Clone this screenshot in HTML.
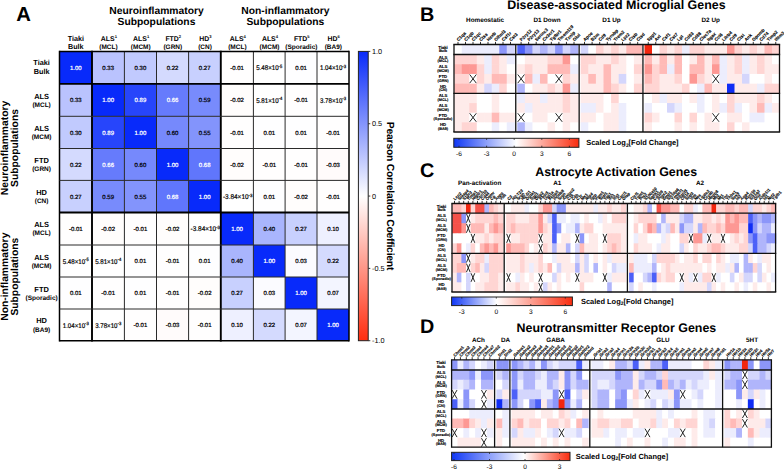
<!DOCTYPE html>
<html><head><meta charset="utf-8"><title>Figure</title>
<style>
html,body{margin:0;padding:0;background:#fff;}
body{width:784px;height:470px;overflow:hidden;}
svg{display:block;font-family:"Liberation Sans", sans-serif;text-rendering:geometricPrecision;}
</style></head>
<body>
<svg width="784" height="470" viewBox="0 0 784 470">
<rect width="784" height="470" fill="#fff"/>
<rect x="59.5" y="51.5" width="32.5" height="32.4" fill="rgb(8,42,250)" />
<rect x="92" y="51.5" width="32.4" height="32.4" fill="rgb(186,195,254)" />
<rect x="124.4" y="51.5" width="32.1" height="32.4" fill="rgb(193,202,254)" />
<rect x="156.5" y="51.5" width="32.1" height="32.4" fill="rgb(212,218,254)" />
<rect x="188.6" y="51.5" width="32.2" height="32.4" fill="rgb(200,208,254)" />
<rect x="220.8" y="51.5" width="32.6" height="32.4" fill="rgb(255,254,254)" />
<rect x="253.4" y="51.5" width="31.7" height="32.4" fill="rgb(255,255,255)" />
<rect x="285.1" y="51.5" width="31.9" height="32.4" fill="rgb(254,254,255)" />
<rect x="317" y="51.5" width="32" height="32.4" fill="rgb(255,255,255)" />
<rect x="59.5" y="83.9" width="32.5" height="32.4" fill="rgb(186,195,254)" />
<rect x="92" y="83.9" width="32.4" height="32.4" fill="rgb(8,42,250)" />
<rect x="124.4" y="83.9" width="32.1" height="32.4" fill="rgb(39,69,251)" />
<rect x="156.5" y="83.9" width="32.1" height="32.4" fill="rgb(102,123,252)" />
<rect x="188.6" y="83.9" width="32.2" height="32.4" fill="rgb(120,139,252)" />
<rect x="220.8" y="83.9" width="32.6" height="32.4" fill="rgb(255,253,252)" />
<rect x="253.4" y="83.9" width="31.7" height="32.4" fill="rgb(255,255,255)" />
<rect x="285.1" y="83.9" width="31.9" height="32.4" fill="rgb(255,254,254)" />
<rect x="317" y="83.9" width="32" height="32.4" fill="rgb(255,255,255)" />
<rect x="59.5" y="116.3" width="32.5" height="32.2" fill="rgb(193,202,254)" />
<rect x="92" y="116.3" width="32.4" height="32.2" fill="rgb(39,69,251)" />
<rect x="124.4" y="116.3" width="32.1" height="32.2" fill="rgb(8,42,250)" />
<rect x="156.5" y="116.3" width="32.1" height="32.2" fill="rgb(118,137,252)" />
<rect x="188.6" y="116.3" width="32.2" height="32.2" fill="rgb(131,148,252)" />
<rect x="220.8" y="116.3" width="32.6" height="32.2" fill="rgb(255,254,254)" />
<rect x="253.4" y="116.3" width="31.7" height="32.2" fill="rgb(254,254,255)" />
<rect x="285.1" y="116.3" width="31.9" height="32.2" fill="rgb(254,254,255)" />
<rect x="317" y="116.3" width="32" height="32.2" fill="rgb(255,254,254)" />
<rect x="59.5" y="148.5" width="32.5" height="31.9" fill="rgb(212,218,254)" />
<rect x="92" y="148.5" width="32.4" height="31.9" fill="rgb(102,123,252)" />
<rect x="124.4" y="148.5" width="32.1" height="31.9" fill="rgb(118,137,252)" />
<rect x="156.5" y="148.5" width="32.1" height="31.9" fill="rgb(8,42,250)" />
<rect x="188.6" y="148.5" width="32.2" height="31.9" fill="rgb(96,118,252)" />
<rect x="220.8" y="148.5" width="32.6" height="31.9" fill="rgb(255,253,252)" />
<rect x="253.4" y="148.5" width="31.7" height="31.9" fill="rgb(255,254,254)" />
<rect x="285.1" y="148.5" width="31.9" height="31.9" fill="rgb(255,254,254)" />
<rect x="317" y="148.5" width="32" height="31.9" fill="rgb(255,251,251)" />
<rect x="59.5" y="180.4" width="32.5" height="32.1" fill="rgb(200,208,254)" />
<rect x="92" y="180.4" width="32.4" height="32.1" fill="rgb(120,139,252)" />
<rect x="124.4" y="180.4" width="32.1" height="32.1" fill="rgb(131,148,252)" />
<rect x="156.5" y="180.4" width="32.1" height="32.1" fill="rgb(96,118,252)" />
<rect x="188.6" y="180.4" width="32.2" height="32.1" fill="rgb(8,42,250)" />
<rect x="220.8" y="180.4" width="32.6" height="32.1" fill="rgb(255,255,255)" />
<rect x="253.4" y="180.4" width="31.7" height="32.1" fill="rgb(254,254,255)" />
<rect x="285.1" y="180.4" width="31.9" height="32.1" fill="rgb(255,253,252)" />
<rect x="317" y="180.4" width="32" height="32.1" fill="rgb(255,254,254)" />
<rect x="59.5" y="212.5" width="32.5" height="32.5" fill="rgb(255,254,254)" />
<rect x="92" y="212.5" width="32.4" height="32.5" fill="rgb(255,253,252)" />
<rect x="124.4" y="212.5" width="32.1" height="32.5" fill="rgb(255,254,254)" />
<rect x="156.5" y="212.5" width="32.1" height="32.5" fill="rgb(255,253,252)" />
<rect x="188.6" y="212.5" width="32.2" height="32.5" fill="rgb(255,255,255)" />
<rect x="220.8" y="212.5" width="32.6" height="32.5" fill="rgb(8,42,250)" />
<rect x="253.4" y="212.5" width="31.7" height="32.5" fill="rgb(169,181,253)" />
<rect x="285.1" y="212.5" width="31.9" height="32.5" fill="rgb(200,208,254)" />
<rect x="317" y="212.5" width="32" height="32.5" fill="rgb(238,240,255)" />
<rect x="59.5" y="245" width="32.5" height="32" fill="rgb(255,255,255)" />
<rect x="92" y="245" width="32.4" height="32" fill="rgb(255,255,255)" />
<rect x="124.4" y="245" width="32.1" height="32" fill="rgb(254,254,255)" />
<rect x="156.5" y="245" width="32.1" height="32" fill="rgb(255,254,254)" />
<rect x="188.6" y="245" width="32.2" height="32" fill="rgb(254,254,255)" />
<rect x="220.8" y="245" width="32.6" height="32" fill="rgb(169,181,253)" />
<rect x="253.4" y="245" width="31.7" height="32" fill="rgb(8,42,250)" />
<rect x="285.1" y="245" width="31.9" height="32" fill="rgb(251,251,255)" />
<rect x="317" y="245" width="32" height="32" fill="rgb(212,218,254)" />
<rect x="59.5" y="277" width="32.5" height="32" fill="rgb(254,254,255)" />
<rect x="92" y="277" width="32.4" height="32" fill="rgb(255,254,254)" />
<rect x="124.4" y="277" width="32.1" height="32" fill="rgb(254,254,255)" />
<rect x="156.5" y="277" width="32.1" height="32" fill="rgb(255,254,254)" />
<rect x="188.6" y="277" width="32.2" height="32" fill="rgb(255,253,252)" />
<rect x="220.8" y="277" width="32.6" height="32" fill="rgb(200,208,254)" />
<rect x="253.4" y="277" width="31.7" height="32" fill="rgb(251,251,255)" />
<rect x="285.1" y="277" width="31.9" height="32" fill="rgb(8,42,250)" />
<rect x="317" y="277" width="32" height="32" fill="rgb(243,245,255)" />
<rect x="59.5" y="309" width="32.5" height="31.8" fill="rgb(255,255,255)" />
<rect x="92" y="309" width="32.4" height="31.8" fill="rgb(255,255,255)" />
<rect x="124.4" y="309" width="32.1" height="31.8" fill="rgb(255,254,254)" />
<rect x="156.5" y="309" width="32.1" height="31.8" fill="rgb(255,251,251)" />
<rect x="188.6" y="309" width="32.2" height="31.8" fill="rgb(255,254,254)" />
<rect x="220.8" y="309" width="32.6" height="31.8" fill="rgb(238,240,255)" />
<rect x="253.4" y="309" width="31.7" height="31.8" fill="rgb(212,218,254)" />
<rect x="285.1" y="309" width="31.9" height="31.8" fill="rgb(243,245,255)" />
<rect x="317" y="309" width="32" height="31.8" fill="rgb(8,42,250)" />
<text x="75.75" y="69.9" font-size="6.0" font-weight="normal" text-anchor="middle" fill="#fff" stroke="#fff" stroke-width="0.22">1.00</text>
<text x="108.2" y="69.9" font-size="6.0" font-weight="normal" text-anchor="middle" fill="#000" stroke="#000" stroke-width="0.22">0.33</text>
<text x="140.45" y="69.9" font-size="6.0" font-weight="normal" text-anchor="middle" fill="#000" stroke="#000" stroke-width="0.22">0.30</text>
<text x="172.55" y="69.9" font-size="6.0" font-weight="normal" text-anchor="middle" fill="#000" stroke="#000" stroke-width="0.22">0.22</text>
<text x="204.7" y="69.9" font-size="6.0" font-weight="normal" text-anchor="middle" fill="#000" stroke="#000" stroke-width="0.22">0.27</text>
<text x="237.1" y="69.9" font-size="6.0" font-weight="normal" text-anchor="middle" fill="#000" stroke="#000" stroke-width="0.22">-0.01</text>
<text x="269.25" y="70.3" font-size="6.8" font-weight="normal" text-anchor="middle" fill="#000" textLength="26.0" lengthAdjust="spacingAndGlyphs" stroke="#000" stroke-width="0.2">5.48×10<tspan font-size="4.6" dy="-2.4">-5</tspan></text>
<text x="301.05" y="69.9" font-size="6.0" font-weight="normal" text-anchor="middle" fill="#000" stroke="#000" stroke-width="0.22">0.01</text>
<text x="333" y="70.3" font-size="6.8" font-weight="normal" text-anchor="middle" fill="#000" textLength="26.0" lengthAdjust="spacingAndGlyphs" stroke="#000" stroke-width="0.2">1.04×10<tspan font-size="4.6" dy="-2.4">-3</tspan></text>
<text x="75.75" y="102.3" font-size="6.0" font-weight="normal" text-anchor="middle" fill="#000" stroke="#000" stroke-width="0.22">0.33</text>
<text x="108.2" y="102.3" font-size="6.0" font-weight="normal" text-anchor="middle" fill="#fff" stroke="#fff" stroke-width="0.22">1.00</text>
<text x="140.45" y="102.3" font-size="6.0" font-weight="normal" text-anchor="middle" fill="#fff" stroke="#fff" stroke-width="0.22">0.89</text>
<text x="172.55" y="102.3" font-size="6.0" font-weight="normal" text-anchor="middle" fill="#fff" stroke="#fff" stroke-width="0.22">0.66</text>
<text x="204.7" y="102.3" font-size="6.0" font-weight="normal" text-anchor="middle" fill="#000" stroke="#000" stroke-width="0.22">0.59</text>
<text x="237.1" y="102.3" font-size="6.0" font-weight="normal" text-anchor="middle" fill="#000" stroke="#000" stroke-width="0.22">-0.02</text>
<text x="269.25" y="102.7" font-size="6.8" font-weight="normal" text-anchor="middle" fill="#000" textLength="26.0" lengthAdjust="spacingAndGlyphs" stroke="#000" stroke-width="0.2">5.81×10<tspan font-size="4.6" dy="-2.4">-4</tspan></text>
<text x="301.05" y="102.3" font-size="6.0" font-weight="normal" text-anchor="middle" fill="#000" stroke="#000" stroke-width="0.22">-0.01</text>
<text x="333" y="102.7" font-size="6.8" font-weight="normal" text-anchor="middle" fill="#000" textLength="26.0" lengthAdjust="spacingAndGlyphs" stroke="#000" stroke-width="0.2">3.78×10<tspan font-size="4.6" dy="-2.4">-3</tspan></text>
<text x="75.75" y="134.6" font-size="6.0" font-weight="normal" text-anchor="middle" fill="#000" stroke="#000" stroke-width="0.22">0.30</text>
<text x="108.2" y="134.6" font-size="6.0" font-weight="normal" text-anchor="middle" fill="#fff" stroke="#fff" stroke-width="0.22">0.89</text>
<text x="140.45" y="134.6" font-size="6.0" font-weight="normal" text-anchor="middle" fill="#fff" stroke="#fff" stroke-width="0.22">1.00</text>
<text x="172.55" y="134.6" font-size="6.0" font-weight="normal" text-anchor="middle" fill="#000" stroke="#000" stroke-width="0.22">0.60</text>
<text x="204.7" y="134.6" font-size="6.0" font-weight="normal" text-anchor="middle" fill="#000" stroke="#000" stroke-width="0.22">0.55</text>
<text x="237.1" y="134.6" font-size="6.0" font-weight="normal" text-anchor="middle" fill="#000" stroke="#000" stroke-width="0.22">-0.01</text>
<text x="269.25" y="134.6" font-size="6.0" font-weight="normal" text-anchor="middle" fill="#000" stroke="#000" stroke-width="0.22">0.01</text>
<text x="301.05" y="134.6" font-size="6.0" font-weight="normal" text-anchor="middle" fill="#000" stroke="#000" stroke-width="0.22">0.01</text>
<text x="333" y="134.6" font-size="6.0" font-weight="normal" text-anchor="middle" fill="#000" stroke="#000" stroke-width="0.22">-0.01</text>
<text x="75.75" y="166.65" font-size="6.0" font-weight="normal" text-anchor="middle" fill="#000" stroke="#000" stroke-width="0.22">0.22</text>
<text x="108.2" y="166.65" font-size="6.0" font-weight="normal" text-anchor="middle" fill="#fff" stroke="#fff" stroke-width="0.22">0.66</text>
<text x="140.45" y="166.65" font-size="6.0" font-weight="normal" text-anchor="middle" fill="#000" stroke="#000" stroke-width="0.22">0.60</text>
<text x="172.55" y="166.65" font-size="6.0" font-weight="normal" text-anchor="middle" fill="#fff" stroke="#fff" stroke-width="0.22">1.00</text>
<text x="204.7" y="166.65" font-size="6.0" font-weight="normal" text-anchor="middle" fill="#fff" stroke="#fff" stroke-width="0.22">0.68</text>
<text x="237.1" y="166.65" font-size="6.0" font-weight="normal" text-anchor="middle" fill="#000" stroke="#000" stroke-width="0.22">-0.02</text>
<text x="269.25" y="166.65" font-size="6.0" font-weight="normal" text-anchor="middle" fill="#000" stroke="#000" stroke-width="0.22">-0.01</text>
<text x="301.05" y="166.65" font-size="6.0" font-weight="normal" text-anchor="middle" fill="#000" stroke="#000" stroke-width="0.22">-0.01</text>
<text x="333" y="166.65" font-size="6.0" font-weight="normal" text-anchor="middle" fill="#000" stroke="#000" stroke-width="0.22">-0.03</text>
<text x="75.75" y="198.65" font-size="6.0" font-weight="normal" text-anchor="middle" fill="#000" stroke="#000" stroke-width="0.22">0.27</text>
<text x="108.2" y="198.65" font-size="6.0" font-weight="normal" text-anchor="middle" fill="#000" stroke="#000" stroke-width="0.22">0.59</text>
<text x="140.45" y="198.65" font-size="6.0" font-weight="normal" text-anchor="middle" fill="#000" stroke="#000" stroke-width="0.22">0.55</text>
<text x="172.55" y="198.65" font-size="6.0" font-weight="normal" text-anchor="middle" fill="#fff" stroke="#fff" stroke-width="0.22">0.68</text>
<text x="204.7" y="198.65" font-size="6.0" font-weight="normal" text-anchor="middle" fill="#fff" stroke="#fff" stroke-width="0.22">1.00</text>
<text x="237.7" y="199.05" font-size="6.8" font-weight="normal" text-anchor="middle" fill="#000" textLength="29.5" lengthAdjust="spacingAndGlyphs" stroke="#000" stroke-width="0.2">-3.84×10<tspan font-size="4.6" dy="-2.4">-3</tspan></text>
<text x="269.25" y="198.65" font-size="6.0" font-weight="normal" text-anchor="middle" fill="#000" stroke="#000" stroke-width="0.22">0.01</text>
<text x="301.05" y="198.65" font-size="6.0" font-weight="normal" text-anchor="middle" fill="#000" stroke="#000" stroke-width="0.22">-0.02</text>
<text x="333" y="198.65" font-size="6.0" font-weight="normal" text-anchor="middle" fill="#000" stroke="#000" stroke-width="0.22">-0.01</text>
<text x="75.75" y="230.95" font-size="6.0" font-weight="normal" text-anchor="middle" fill="#000" stroke="#000" stroke-width="0.22">-0.01</text>
<text x="108.2" y="230.95" font-size="6.0" font-weight="normal" text-anchor="middle" fill="#000" stroke="#000" stroke-width="0.22">-0.02</text>
<text x="140.45" y="230.95" font-size="6.0" font-weight="normal" text-anchor="middle" fill="#000" stroke="#000" stroke-width="0.22">-0.01</text>
<text x="172.55" y="230.95" font-size="6.0" font-weight="normal" text-anchor="middle" fill="#000" stroke="#000" stroke-width="0.22">-0.02</text>
<text x="205.3" y="231.35" font-size="6.8" font-weight="normal" text-anchor="middle" fill="#000" textLength="29.5" lengthAdjust="spacingAndGlyphs" stroke="#000" stroke-width="0.2">-3.84×10<tspan font-size="4.6" dy="-2.4">-3</tspan></text>
<text x="237.1" y="230.95" font-size="6.0" font-weight="normal" text-anchor="middle" fill="#fff" stroke="#fff" stroke-width="0.22">1.00</text>
<text x="269.25" y="230.95" font-size="6.0" font-weight="normal" text-anchor="middle" fill="#000" stroke="#000" stroke-width="0.22">0.40</text>
<text x="301.05" y="230.95" font-size="6.0" font-weight="normal" text-anchor="middle" fill="#000" stroke="#000" stroke-width="0.22">0.27</text>
<text x="333" y="230.95" font-size="6.0" font-weight="normal" text-anchor="middle" fill="#000" stroke="#000" stroke-width="0.22">0.10</text>
<text x="75.75" y="263.6" font-size="6.8" font-weight="normal" text-anchor="middle" fill="#000" textLength="26.0" lengthAdjust="spacingAndGlyphs" stroke="#000" stroke-width="0.2">5.48×10<tspan font-size="4.6" dy="-2.4">-5</tspan></text>
<text x="108.2" y="263.6" font-size="6.8" font-weight="normal" text-anchor="middle" fill="#000" textLength="26.0" lengthAdjust="spacingAndGlyphs" stroke="#000" stroke-width="0.2">5.81×10<tspan font-size="4.6" dy="-2.4">-4</tspan></text>
<text x="140.45" y="263.2" font-size="6.0" font-weight="normal" text-anchor="middle" fill="#000" stroke="#000" stroke-width="0.22">0.01</text>
<text x="172.55" y="263.2" font-size="6.0" font-weight="normal" text-anchor="middle" fill="#000" stroke="#000" stroke-width="0.22">-0.01</text>
<text x="204.7" y="263.2" font-size="6.0" font-weight="normal" text-anchor="middle" fill="#000" stroke="#000" stroke-width="0.22">0.01</text>
<text x="237.1" y="263.2" font-size="6.0" font-weight="normal" text-anchor="middle" fill="#000" stroke="#000" stroke-width="0.22">0.40</text>
<text x="269.25" y="263.2" font-size="6.0" font-weight="normal" text-anchor="middle" fill="#fff" stroke="#fff" stroke-width="0.22">1.00</text>
<text x="301.05" y="263.2" font-size="6.0" font-weight="normal" text-anchor="middle" fill="#000" stroke="#000" stroke-width="0.22">0.03</text>
<text x="333" y="263.2" font-size="6.0" font-weight="normal" text-anchor="middle" fill="#000" stroke="#000" stroke-width="0.22">0.22</text>
<text x="75.75" y="295.2" font-size="6.0" font-weight="normal" text-anchor="middle" fill="#000" stroke="#000" stroke-width="0.22">0.01</text>
<text x="108.2" y="295.2" font-size="6.0" font-weight="normal" text-anchor="middle" fill="#000" stroke="#000" stroke-width="0.22">-0.01</text>
<text x="140.45" y="295.2" font-size="6.0" font-weight="normal" text-anchor="middle" fill="#000" stroke="#000" stroke-width="0.22">0.01</text>
<text x="172.55" y="295.2" font-size="6.0" font-weight="normal" text-anchor="middle" fill="#000" stroke="#000" stroke-width="0.22">-0.01</text>
<text x="204.7" y="295.2" font-size="6.0" font-weight="normal" text-anchor="middle" fill="#000" stroke="#000" stroke-width="0.22">-0.02</text>
<text x="237.1" y="295.2" font-size="6.0" font-weight="normal" text-anchor="middle" fill="#000" stroke="#000" stroke-width="0.22">0.27</text>
<text x="269.25" y="295.2" font-size="6.0" font-weight="normal" text-anchor="middle" fill="#000" stroke="#000" stroke-width="0.22">0.03</text>
<text x="301.05" y="295.2" font-size="6.0" font-weight="normal" text-anchor="middle" fill="#fff" stroke="#fff" stroke-width="0.22">1.00</text>
<text x="333" y="295.2" font-size="6.0" font-weight="normal" text-anchor="middle" fill="#000" stroke="#000" stroke-width="0.22">0.07</text>
<text x="75.75" y="327.5" font-size="6.8" font-weight="normal" text-anchor="middle" fill="#000" textLength="26.0" lengthAdjust="spacingAndGlyphs" stroke="#000" stroke-width="0.2">1.04×10<tspan font-size="4.6" dy="-2.4">-3</tspan></text>
<text x="108.2" y="327.5" font-size="6.8" font-weight="normal" text-anchor="middle" fill="#000" textLength="26.0" lengthAdjust="spacingAndGlyphs" stroke="#000" stroke-width="0.2">3.78×10<tspan font-size="4.6" dy="-2.4">-3</tspan></text>
<text x="140.45" y="327.1" font-size="6.0" font-weight="normal" text-anchor="middle" fill="#000" stroke="#000" stroke-width="0.22">-0.01</text>
<text x="172.55" y="327.1" font-size="6.0" font-weight="normal" text-anchor="middle" fill="#000" stroke="#000" stroke-width="0.22">-0.03</text>
<text x="204.7" y="327.1" font-size="6.0" font-weight="normal" text-anchor="middle" fill="#000" stroke="#000" stroke-width="0.22">-0.01</text>
<text x="237.1" y="327.1" font-size="6.0" font-weight="normal" text-anchor="middle" fill="#000" stroke="#000" stroke-width="0.22">0.10</text>
<text x="269.25" y="327.1" font-size="6.0" font-weight="normal" text-anchor="middle" fill="#000" stroke="#000" stroke-width="0.22">0.22</text>
<text x="301.05" y="327.1" font-size="6.0" font-weight="normal" text-anchor="middle" fill="#000" stroke="#000" stroke-width="0.22">0.07</text>
<text x="333" y="327.1" font-size="6.0" font-weight="normal" text-anchor="middle" fill="#fff" stroke="#fff" stroke-width="0.22">1.00</text>
<line x1="59.5" y1="50.75" x2="59.5" y2="341.55" stroke="#000" stroke-width="1.5" />
<line x1="92" y1="50.75" x2="92" y2="341.55" stroke="#000" stroke-width="1.9" />
<line x1="124.4" y1="51.5" x2="124.4" y2="340.8" stroke="#2a2a2a" stroke-width="1.0" />
<line x1="156.5" y1="51.5" x2="156.5" y2="340.8" stroke="#2a2a2a" stroke-width="1.0" />
<line x1="188.6" y1="51.5" x2="188.6" y2="340.8" stroke="#2a2a2a" stroke-width="1.0" />
<line x1="220.8" y1="50.75" x2="220.8" y2="341.55" stroke="#000" stroke-width="1.9" />
<line x1="253.4" y1="51.5" x2="253.4" y2="340.8" stroke="#2a2a2a" stroke-width="1.0" />
<line x1="285.1" y1="51.5" x2="285.1" y2="340.8" stroke="#2a2a2a" stroke-width="1.0" />
<line x1="317" y1="51.5" x2="317" y2="340.8" stroke="#2a2a2a" stroke-width="1.0" />
<line x1="349" y1="50.75" x2="349" y2="341.55" stroke="#000" stroke-width="1.5" />
<line x1="59.5" y1="51.5" x2="349" y2="51.5" stroke="#000" stroke-width="1.5" />
<line x1="59.5" y1="83.9" x2="349" y2="83.9" stroke="#000" stroke-width="1.9" />
<line x1="59.5" y1="116.3" x2="349" y2="116.3" stroke="#2a2a2a" stroke-width="1.0" />
<line x1="59.5" y1="148.5" x2="349" y2="148.5" stroke="#2a2a2a" stroke-width="1.0" />
<line x1="59.5" y1="180.4" x2="349" y2="180.4" stroke="#2a2a2a" stroke-width="1.0" />
<line x1="59.5" y1="212.5" x2="349" y2="212.5" stroke="#000" stroke-width="1.9" />
<line x1="59.5" y1="245" x2="349" y2="245" stroke="#2a2a2a" stroke-width="1.0" />
<line x1="59.5" y1="277" x2="349" y2="277" stroke="#2a2a2a" stroke-width="1.0" />
<line x1="59.5" y1="309" x2="349" y2="309" stroke="#2a2a2a" stroke-width="1.0" />
<line x1="59.5" y1="340.8" x2="349" y2="340.8" stroke="#000" stroke-width="1.5" />
<text x="16.3" y="21.25" font-size="20.3" font-weight="bold" text-anchor="start" fill="#000" >A</text>
<text x="156.5" y="14.3" font-size="10.3" font-weight="bold" text-anchor="middle" fill="#000" >Neuroinflammatory</text>
<text x="156.5" y="24.5" font-size="10.3" font-weight="bold" text-anchor="middle" fill="#000" >Subpopulations</text>
<text x="285.4" y="14.3" font-size="10.3" font-weight="bold" text-anchor="middle" fill="#000" >Non-inflammatory</text>
<text x="285.4" y="24.5" font-size="10.3" font-weight="bold" text-anchor="middle" fill="#000" >Subpopulations</text>
<text x="75.75" y="40.9" font-size="7.2" font-weight="bold" text-anchor="middle" fill="#000" >Tiaki</text>
<text x="75.75" y="48.7" font-size="7.2" font-weight="bold" text-anchor="middle" fill="#000" >Bulk</text>
<text x="108.9" y="41" font-size="6.9" font-weight="bold" text-anchor="middle" fill="#000" >ALS<tspan font-size="4.1" dy="-3.3">1</tspan></text>
<text x="108.5" y="48.9" font-size="6.5" font-weight="bold" text-anchor="middle" fill="#000" >(MCL)</text>
<text x="141.15" y="41" font-size="6.9" font-weight="bold" text-anchor="middle" fill="#000" >ALS<tspan font-size="4.1" dy="-3.3">1</tspan></text>
<text x="140.75" y="48.9" font-size="6.5" font-weight="bold" text-anchor="middle" fill="#000" >(MCM)</text>
<text x="173.25" y="41" font-size="6.9" font-weight="bold" text-anchor="middle" fill="#000" >FTD<tspan font-size="4.1" dy="-3.3">2</tspan></text>
<text x="172.85" y="48.9" font-size="6.5" font-weight="bold" text-anchor="middle" fill="#000" >(GRN)</text>
<text x="205.4" y="41" font-size="6.9" font-weight="bold" text-anchor="middle" fill="#000" >HD<tspan font-size="4.1" dy="-3.3">3</tspan></text>
<text x="205" y="48.9" font-size="6.5" font-weight="bold" text-anchor="middle" fill="#000" >(CN)</text>
<text x="237.8" y="41" font-size="6.9" font-weight="bold" text-anchor="middle" fill="#000" >ALS<tspan font-size="4.1" dy="-3.3">4</tspan></text>
<text x="237.4" y="48.9" font-size="6.5" font-weight="bold" text-anchor="middle" fill="#000" >(MCL)</text>
<text x="269.95" y="41" font-size="6.9" font-weight="bold" text-anchor="middle" fill="#000" >ALS<tspan font-size="4.1" dy="-3.3">4</tspan></text>
<text x="269.55" y="48.9" font-size="6.5" font-weight="bold" text-anchor="middle" fill="#000" >(MCM)</text>
<text x="301.75" y="41" font-size="6.9" font-weight="bold" text-anchor="middle" fill="#000" >FTD<tspan font-size="4.1" dy="-3.3">5</tspan></text>
<text x="301.35" y="48.9" font-size="6.5" font-weight="bold" text-anchor="middle" fill="#000" >(Sporadic)</text>
<text x="333.7" y="41" font-size="6.9" font-weight="bold" text-anchor="middle" fill="#000" >HD<tspan font-size="4.1" dy="-3.3">6</tspan></text>
<text x="333.3" y="48.9" font-size="6.5" font-weight="bold" text-anchor="middle" fill="#000" >(BA9)</text>
<text x="41.6" y="65.3" font-size="7.3" font-weight="bold" text-anchor="middle" fill="#000" >Tiaki</text>
<text x="41.6" y="74.1" font-size="7.3" font-weight="bold" text-anchor="middle" fill="#000" >Bulk</text>
<text x="41.6" y="98.6" font-size="7.45" font-weight="bold" text-anchor="middle" fill="#000" >ALS</text>
<text x="41.6" y="106.8" font-size="6.5" font-weight="bold" text-anchor="middle" fill="#000" >(MCL)</text>
<text x="41.6" y="130.9" font-size="7.45" font-weight="bold" text-anchor="middle" fill="#000" >ALS</text>
<text x="41.6" y="139.1" font-size="6.5" font-weight="bold" text-anchor="middle" fill="#000" >(MCM)</text>
<text x="41.6" y="162.95" font-size="7.45" font-weight="bold" text-anchor="middle" fill="#000" >FTD</text>
<text x="41.6" y="171.15" font-size="6.5" font-weight="bold" text-anchor="middle" fill="#000" >(GRN)</text>
<text x="41.6" y="194.95" font-size="7.45" font-weight="bold" text-anchor="middle" fill="#000" >HD</text>
<text x="41.6" y="203.15" font-size="6.5" font-weight="bold" text-anchor="middle" fill="#000" >(CN)</text>
<text x="41.6" y="227.25" font-size="7.45" font-weight="bold" text-anchor="middle" fill="#000" >ALS</text>
<text x="41.6" y="235.45" font-size="6.5" font-weight="bold" text-anchor="middle" fill="#000" >(MCL)</text>
<text x="41.6" y="259.5" font-size="7.45" font-weight="bold" text-anchor="middle" fill="#000" >ALS</text>
<text x="41.6" y="267.7" font-size="6.5" font-weight="bold" text-anchor="middle" fill="#000" >(MCM)</text>
<text x="41.6" y="291.5" font-size="7.45" font-weight="bold" text-anchor="middle" fill="#000" >FTD</text>
<text x="41.6" y="299.7" font-size="6.5" font-weight="bold" text-anchor="middle" fill="#000" >(Sporadic)</text>
<text x="41.6" y="323.4" font-size="7.45" font-weight="bold" text-anchor="middle" fill="#000" >HD</text>
<text x="41.6" y="331.6" font-size="6.5" font-weight="bold" text-anchor="middle" fill="#000" >(BA9)</text>
<g transform="translate(9.9,148.0) rotate(-90)">
<text x="0" y="-2.3" font-size="10.3" font-weight="bold" text-anchor="middle" fill="#000" >Neuroinflammatory</text>
<text x="0" y="7.9" font-size="10.3" font-weight="bold" text-anchor="middle" fill="#000" >Subpopulations</text>
</g>
<g transform="translate(9.9,276.7) rotate(-90)">
<text x="0" y="-2.3" font-size="10.3" font-weight="bold" text-anchor="middle" fill="#000" >Non-inflammatory</text>
<text x="0" y="7.9" font-size="10.3" font-weight="bold" text-anchor="middle" fill="#000" >Subpopulations</text>
</g>
<defs><linearGradient id="gA" x1="0" y1="0" x2="0" y2="1"><stop offset="0" stop-color="rgb(8, 42, 250)"/><stop offset="0.5" stop-color="#fff"/><stop offset="1" stop-color="rgb(255, 45, 15)"/></linearGradient><linearGradient id="gB" x1="0" y1="0" x2="1" y2="0"><stop offset="0" stop-color="rgb(15,55,245)"/><stop offset="0.5" stop-color="#fff"/><stop offset="1" stop-color="rgb(250,45,15)"/></linearGradient><linearGradient id="gC" x1="0" y1="0" x2="1" y2="0"><stop offset="0" stop-color="rgb(15,55,245)"/><stop offset="0.3744" stop-color="#fff"/><stop offset="1" stop-color="rgb(250,45,15)"/></linearGradient><linearGradient id="gD" x1="0" y1="0" x2="1" y2="0"><stop offset="0" stop-color="rgb(15,55,245)"/><stop offset="0.6115" stop-color="#fff"/><stop offset="1" stop-color="rgb(250,45,15)"/></linearGradient></defs>
<rect x="358.4" y="51.4" width="9.8" height="289.3" fill="url(#gA)" stroke="#222" stroke-width="1"/>
<line x1="368.3" y1="51.4" x2="370.3" y2="51.4" stroke="#222" stroke-width="0.9" />
<text x="372" y="54" font-size="7.3" font-weight="normal" text-anchor="start" fill="#000" >1.0</text>
<line x1="368.3" y1="123.73" x2="370.3" y2="123.73" stroke="#222" stroke-width="0.9" />
<text x="372" y="126.33" font-size="7.3" font-weight="normal" text-anchor="start" fill="#000" >0.5</text>
<line x1="368.3" y1="196.05" x2="370.3" y2="196.05" stroke="#222" stroke-width="0.9" />
<text x="372" y="198.65" font-size="7.3" font-weight="normal" text-anchor="start" fill="#000" >0</text>
<line x1="368.3" y1="268.38" x2="370.3" y2="268.38" stroke="#222" stroke-width="0.9" />
<text x="372" y="270.98" font-size="7.3" font-weight="normal" text-anchor="start" fill="#000" >-0.5</text>
<line x1="368.3" y1="340.7" x2="370.3" y2="340.7" stroke="#222" stroke-width="0.9" />
<text x="372" y="343.3" font-size="7.3" font-weight="normal" text-anchor="start" fill="#000" >-1.0</text>
<g transform="translate(387.4,196) rotate(90)">
<text x="0" y="0" font-size="10.3" font-weight="bold" text-anchor="middle" fill="#000" letter-spacing="-0.2">Pearson Correlation Coefficient</text>
</g>
<rect x="454.25" y="44.5" width="8.1" height="10.6" fill="rgb(255,255,255)" />
<rect x="461.75" y="44.5" width="8.1" height="10.6" fill="rgb(236,237,253)" />
<rect x="469.25" y="44.5" width="8.1" height="10.6" fill="rgb(236,237,253)" />
<rect x="476.75" y="44.5" width="8.1" height="10.6" fill="rgb(236,237,253)" />
<rect x="484.25" y="44.5" width="8.1" height="10.6" fill="rgb(236,237,253)" />
<rect x="491.75" y="44.5" width="8.1" height="10.6" fill="rgb(236,237,253)" />
<rect x="499.25" y="44.5" width="8.1" height="10.6" fill="rgb(140,150,249)" />
<rect x="506.75" y="44.5" width="8.1" height="10.6" fill="rgb(212,214,252)" />
<rect x="517.3" y="44.5" width="8.16" height="10.6" fill="rgb(76,96,248)" />
<rect x="524.86" y="44.5" width="8.16" height="10.6" fill="rgb(140,150,249)" />
<rect x="532.42" y="44.5" width="8.16" height="10.6" fill="rgb(212,214,252)" />
<rect x="539.98" y="44.5" width="8.16" height="10.6" fill="rgb(176,181,251)" />
<rect x="547.54" y="44.5" width="8.16" height="10.6" fill="rgb(212,214,252)" />
<rect x="555.1" y="44.5" width="8.16" height="10.6" fill="rgb(140,150,249)" />
<rect x="562.66" y="44.5" width="8.16" height="10.6" fill="rgb(212,214,252)" />
<rect x="570.22" y="44.5" width="8.16" height="10.6" fill="rgb(176,181,251)" />
<rect x="580.7" y="44.5" width="8.2" height="10.6" fill="rgb(212,214,252)" />
<rect x="588.3" y="44.5" width="8.2" height="10.6" fill="rgb(255,255,255)" />
<rect x="595.9" y="44.5" width="8.2" height="10.6" fill="rgb(255,213,211)" />
<rect x="603.5" y="44.5" width="8.2" height="10.6" fill="rgb(254,235,234)" />
<rect x="611.1" y="44.5" width="8.2" height="10.6" fill="rgb(255,213,211)" />
<rect x="618.7" y="44.5" width="8.2" height="10.6" fill="rgb(254,235,234)" />
<rect x="626.3" y="44.5" width="8.2" height="10.6" fill="rgb(255,186,183)" />
<rect x="633.9" y="44.5" width="8.2" height="10.6" fill="rgb(255,186,183)" />
<rect x="644.5" y="44.5" width="8.1" height="10.6" fill="rgb(242,38,15)" />
<rect x="652" y="44.5" width="8.1" height="10.6" fill="rgb(255,255,255)" />
<rect x="659.5" y="44.5" width="8.1" height="10.6" fill="rgb(255,213,211)" />
<rect x="667" y="44.5" width="8.1" height="10.6" fill="rgb(254,235,234)" />
<rect x="674.5" y="44.5" width="8.1" height="10.6" fill="rgb(255,213,211)" />
<rect x="682" y="44.5" width="8.1" height="10.6" fill="rgb(236,237,253)" />
<rect x="689.5" y="44.5" width="8.1" height="10.6" fill="rgb(255,213,211)" />
<rect x="697" y="44.5" width="8.1" height="10.6" fill="rgb(255,213,211)" />
<rect x="704.5" y="44.5" width="8.1" height="10.6" fill="rgb(254,235,234)" />
<rect x="712" y="44.5" width="8.1" height="10.6" fill="rgb(254,235,234)" />
<rect x="719.5" y="44.5" width="8.1" height="10.6" fill="rgb(254,235,234)" />
<rect x="727" y="44.5" width="8.1" height="10.6" fill="rgb(253,152,148)" />
<rect x="734.5" y="44.5" width="8.1" height="10.6" fill="rgb(255,213,211)" />
<rect x="742" y="44.5" width="8.1" height="10.6" fill="rgb(254,235,234)" />
<rect x="749.5" y="44.5" width="8.1" height="10.6" fill="rgb(255,213,211)" />
<rect x="757" y="44.5" width="8.1" height="10.6" fill="rgb(254,235,234)" />
<rect x="764.5" y="44.5" width="8.1" height="10.6" fill="rgb(255,186,183)" />
<rect x="772" y="44.5" width="8.1" height="10.6" fill="rgb(255,213,211)" />
<rect x="454.25" y="54.5" width="8.1" height="10.32" fill="rgb(255,213,211)" />
<rect x="461.75" y="54.5" width="8.1" height="10.32" fill="rgb(255,213,211)" />
<rect x="469.25" y="54.5" width="8.1" height="10.32" fill="rgb(255,213,211)" />
<rect x="476.75" y="54.5" width="8.1" height="10.32" fill="rgb(254,235,234)" />
<rect x="484.25" y="54.5" width="8.1" height="10.32" fill="rgb(236,237,253)" />
<rect x="491.75" y="54.5" width="8.1" height="10.32" fill="rgb(255,213,211)" />
<rect x="499.25" y="54.5" width="8.1" height="10.32" fill="rgb(254,235,234)" />
<rect x="506.75" y="54.5" width="8.1" height="10.32" fill="rgb(236,237,253)" />
<rect x="517.3" y="54.5" width="8.16" height="10.32" fill="rgb(255,255,255)" />
<rect x="524.86" y="54.5" width="8.16" height="10.32" fill="rgb(254,235,234)" />
<rect x="532.42" y="54.5" width="8.16" height="10.32" fill="rgb(254,235,234)" />
<rect x="539.98" y="54.5" width="8.16" height="10.32" fill="rgb(254,235,234)" />
<rect x="547.54" y="54.5" width="8.16" height="10.32" fill="rgb(255,213,211)" />
<rect x="555.1" y="54.5" width="8.16" height="10.32" fill="rgb(255,213,211)" />
<rect x="562.66" y="54.5" width="8.16" height="10.32" fill="rgb(253,152,148)" />
<rect x="570.22" y="54.5" width="8.16" height="10.32" fill="rgb(255,255,255)" />
<rect x="580.7" y="54.5" width="8.2" height="10.32" fill="rgb(255,213,211)" />
<rect x="588.3" y="54.5" width="8.2" height="10.32" fill="rgb(255,213,211)" />
<rect x="595.9" y="54.5" width="8.2" height="10.32" fill="rgb(254,235,234)" />
<rect x="603.5" y="54.5" width="8.2" height="10.32" fill="rgb(254,235,234)" />
<rect x="611.1" y="54.5" width="8.2" height="10.32" fill="rgb(255,213,211)" />
<rect x="618.7" y="54.5" width="8.2" height="10.32" fill="rgb(254,235,234)" />
<rect x="626.3" y="54.5" width="8.2" height="10.32" fill="rgb(255,255,255)" />
<rect x="633.9" y="54.5" width="8.2" height="10.32" fill="rgb(254,235,234)" />
<rect x="644.5" y="54.5" width="8.1" height="10.32" fill="rgb(255,186,183)" />
<rect x="652" y="54.5" width="8.1" height="10.32" fill="rgb(254,235,234)" />
<rect x="659.5" y="54.5" width="8.1" height="10.32" fill="rgb(255,186,183)" />
<rect x="667" y="54.5" width="8.1" height="10.32" fill="rgb(254,235,234)" />
<rect x="674.5" y="54.5" width="8.1" height="10.32" fill="rgb(255,186,183)" />
<rect x="682" y="54.5" width="8.1" height="10.32" fill="rgb(255,255,255)" />
<rect x="689.5" y="54.5" width="8.1" height="10.32" fill="rgb(254,235,234)" />
<rect x="697" y="54.5" width="8.1" height="10.32" fill="rgb(255,186,183)" />
<rect x="704.5" y="54.5" width="8.1" height="10.32" fill="rgb(254,235,234)" />
<rect x="712" y="54.5" width="8.1" height="10.32" fill="rgb(255,186,183)" />
<rect x="719.5" y="54.5" width="8.1" height="10.32" fill="rgb(236,237,253)" />
<rect x="727" y="54.5" width="8.1" height="10.32" fill="rgb(254,235,234)" />
<rect x="734.5" y="54.5" width="8.1" height="10.32" fill="rgb(255,213,211)" />
<rect x="742" y="54.5" width="8.1" height="10.32" fill="rgb(236,237,253)" />
<rect x="749.5" y="54.5" width="8.1" height="10.32" fill="rgb(254,235,234)" />
<rect x="757" y="54.5" width="8.1" height="10.32" fill="rgb(255,213,211)" />
<rect x="764.5" y="54.5" width="8.1" height="10.32" fill="rgb(254,235,234)" />
<rect x="772" y="54.5" width="8.1" height="10.32" fill="rgb(255,255,255)" />
<rect x="454.25" y="64.22" width="8.1" height="10.33" fill="rgb(255,186,183)" />
<rect x="461.75" y="64.22" width="8.1" height="10.33" fill="rgb(253,152,148)" />
<rect x="469.25" y="64.22" width="8.1" height="10.33" fill="rgb(253,152,148)" />
<rect x="476.75" y="64.22" width="8.1" height="10.33" fill="rgb(255,213,211)" />
<rect x="484.25" y="64.22" width="8.1" height="10.33" fill="rgb(236,237,253)" />
<rect x="491.75" y="64.22" width="8.1" height="10.33" fill="rgb(255,213,211)" />
<rect x="499.25" y="64.22" width="8.1" height="10.33" fill="rgb(254,235,234)" />
<rect x="506.75" y="64.22" width="8.1" height="10.33" fill="rgb(255,255,255)" />
<rect x="517.3" y="64.22" width="8.16" height="10.33" fill="rgb(254,235,234)" />
<rect x="524.86" y="64.22" width="8.16" height="10.33" fill="rgb(255,213,211)" />
<rect x="532.42" y="64.22" width="8.16" height="10.33" fill="rgb(254,235,234)" />
<rect x="539.98" y="64.22" width="8.16" height="10.33" fill="rgb(254,235,234)" />
<rect x="547.54" y="64.22" width="8.16" height="10.33" fill="rgb(255,186,183)" />
<rect x="555.1" y="64.22" width="8.16" height="10.33" fill="rgb(255,186,183)" />
<rect x="562.66" y="64.22" width="8.16" height="10.33" fill="rgb(255,186,183)" />
<rect x="570.22" y="64.22" width="8.16" height="10.33" fill="rgb(236,237,253)" />
<rect x="580.7" y="64.22" width="8.2" height="10.33" fill="rgb(255,213,211)" />
<rect x="588.3" y="64.22" width="8.2" height="10.33" fill="rgb(254,235,234)" />
<rect x="595.9" y="64.22" width="8.2" height="10.33" fill="rgb(254,235,234)" />
<rect x="603.5" y="64.22" width="8.2" height="10.33" fill="rgb(255,186,183)" />
<rect x="611.1" y="64.22" width="8.2" height="10.33" fill="rgb(254,235,234)" />
<rect x="618.7" y="64.22" width="8.2" height="10.33" fill="rgb(254,235,234)" />
<rect x="626.3" y="64.22" width="8.2" height="10.33" fill="rgb(255,255,255)" />
<rect x="633.9" y="64.22" width="8.2" height="10.33" fill="rgb(255,213,211)" />
<rect x="644.5" y="64.22" width="8.1" height="10.33" fill="rgb(253,152,148)" />
<rect x="652" y="64.22" width="8.1" height="10.33" fill="rgb(255,213,211)" />
<rect x="659.5" y="64.22" width="8.1" height="10.33" fill="rgb(255,186,183)" />
<rect x="667" y="64.22" width="8.1" height="10.33" fill="rgb(236,237,253)" />
<rect x="674.5" y="64.22" width="8.1" height="10.33" fill="rgb(255,186,183)" />
<rect x="682" y="64.22" width="8.1" height="10.33" fill="rgb(255,255,255)" />
<rect x="689.5" y="64.22" width="8.1" height="10.33" fill="rgb(255,186,183)" />
<rect x="697" y="64.22" width="8.1" height="10.33" fill="rgb(255,186,183)" />
<rect x="704.5" y="64.22" width="8.1" height="10.33" fill="rgb(254,235,234)" />
<rect x="712" y="64.22" width="8.1" height="10.33" fill="rgb(253,152,148)" />
<rect x="719.5" y="64.22" width="8.1" height="10.33" fill="rgb(236,237,253)" />
<rect x="727" y="64.22" width="8.1" height="10.33" fill="rgb(254,235,234)" />
<rect x="734.5" y="64.22" width="8.1" height="10.33" fill="rgb(255,213,211)" />
<rect x="742" y="64.22" width="8.1" height="10.33" fill="rgb(236,237,253)" />
<rect x="749.5" y="64.22" width="8.1" height="10.33" fill="rgb(254,235,234)" />
<rect x="757" y="64.22" width="8.1" height="10.33" fill="rgb(255,213,211)" />
<rect x="764.5" y="64.22" width="8.1" height="10.33" fill="rgb(254,235,234)" />
<rect x="772" y="64.22" width="8.1" height="10.33" fill="rgb(254,235,234)" />
<rect x="454.25" y="73.95" width="8.1" height="10.33" fill="rgb(255,213,211)" />
<rect x="461.75" y="73.95" width="8.1" height="10.33" fill="rgb(255,213,211)" />
<rect x="469.25" y="73.95" width="8.1" height="10.33" fill="rgb(255,255,255)" />
<rect x="476.75" y="73.95" width="8.1" height="10.33" fill="rgb(255,213,211)" />
<rect x="484.25" y="73.95" width="8.1" height="10.33" fill="rgb(254,235,234)" />
<rect x="491.75" y="73.95" width="8.1" height="10.33" fill="rgb(255,186,183)" />
<rect x="499.25" y="73.95" width="8.1" height="10.33" fill="rgb(255,186,183)" />
<rect x="506.75" y="73.95" width="8.1" height="10.33" fill="rgb(254,235,234)" />
<rect x="517.3" y="73.95" width="8.16" height="10.33" fill="rgb(255,255,255)" />
<rect x="524.86" y="73.95" width="8.16" height="10.33" fill="rgb(255,186,183)" />
<rect x="532.42" y="73.95" width="8.16" height="10.33" fill="rgb(236,237,253)" />
<rect x="539.98" y="73.95" width="8.16" height="10.33" fill="rgb(255,186,183)" />
<rect x="547.54" y="73.95" width="8.16" height="10.33" fill="rgb(255,255,255)" />
<rect x="555.1" y="73.95" width="8.16" height="10.33" fill="rgb(255,255,255)" />
<rect x="562.66" y="73.95" width="8.16" height="10.33" fill="rgb(255,213,211)" />
<rect x="570.22" y="73.95" width="8.16" height="10.33" fill="rgb(254,235,234)" />
<rect x="580.7" y="73.95" width="8.2" height="10.33" fill="rgb(254,235,234)" />
<rect x="588.3" y="73.95" width="8.2" height="10.33" fill="rgb(255,186,183)" />
<rect x="595.9" y="73.95" width="8.2" height="10.33" fill="rgb(254,235,234)" />
<rect x="603.5" y="73.95" width="8.2" height="10.33" fill="rgb(255,186,183)" />
<rect x="611.1" y="73.95" width="8.2" height="10.33" fill="rgb(254,235,234)" />
<rect x="618.7" y="73.95" width="8.2" height="10.33" fill="rgb(212,214,252)" />
<rect x="626.3" y="73.95" width="8.2" height="10.33" fill="rgb(255,255,255)" />
<rect x="633.9" y="73.95" width="8.2" height="10.33" fill="rgb(254,235,234)" />
<rect x="644.5" y="73.95" width="8.1" height="10.33" fill="rgb(255,186,183)" />
<rect x="652" y="73.95" width="8.1" height="10.33" fill="rgb(255,213,211)" />
<rect x="659.5" y="73.95" width="8.1" height="10.33" fill="rgb(254,235,234)" />
<rect x="667" y="73.95" width="8.1" height="10.33" fill="rgb(254,235,234)" />
<rect x="674.5" y="73.95" width="8.1" height="10.33" fill="rgb(255,213,211)" />
<rect x="682" y="73.95" width="8.1" height="10.33" fill="rgb(255,255,255)" />
<rect x="689.5" y="73.95" width="8.1" height="10.33" fill="rgb(253,152,148)" />
<rect x="697" y="73.95" width="8.1" height="10.33" fill="rgb(255,213,211)" />
<rect x="704.5" y="73.95" width="8.1" height="10.33" fill="rgb(254,235,234)" />
<rect x="712" y="73.95" width="8.1" height="10.33" fill="rgb(255,255,255)" />
<rect x="719.5" y="73.95" width="8.1" height="10.33" fill="rgb(236,237,253)" />
<rect x="727" y="73.95" width="8.1" height="10.33" fill="rgb(254,235,234)" />
<rect x="734.5" y="73.95" width="8.1" height="10.33" fill="rgb(254,235,234)" />
<rect x="742" y="73.95" width="8.1" height="10.33" fill="rgb(212,214,252)" />
<rect x="749.5" y="73.95" width="8.1" height="10.33" fill="rgb(255,255,255)" />
<rect x="757" y="73.95" width="8.1" height="10.33" fill="rgb(255,255,255)" />
<rect x="764.5" y="73.95" width="8.1" height="10.33" fill="rgb(254,235,234)" />
<rect x="772" y="73.95" width="8.1" height="10.33" fill="rgb(255,255,255)" />
<rect x="454.25" y="83.68" width="8.1" height="10.32" fill="rgb(255,186,183)" />
<rect x="461.75" y="83.68" width="8.1" height="10.32" fill="rgb(255,186,183)" />
<rect x="469.25" y="83.68" width="8.1" height="10.32" fill="rgb(255,186,183)" />
<rect x="476.75" y="83.68" width="8.1" height="10.32" fill="rgb(254,235,234)" />
<rect x="484.25" y="83.68" width="8.1" height="10.32" fill="rgb(212,214,252)" />
<rect x="491.75" y="83.68" width="8.1" height="10.32" fill="rgb(236,237,253)" />
<rect x="499.25" y="83.68" width="8.1" height="10.32" fill="rgb(255,213,211)" />
<rect x="506.75" y="83.68" width="8.1" height="10.32" fill="rgb(255,255,255)" />
<rect x="517.3" y="83.68" width="8.16" height="10.32" fill="rgb(176,181,251)" />
<rect x="524.86" y="83.68" width="8.16" height="10.32" fill="rgb(255,255,255)" />
<rect x="532.42" y="83.68" width="8.16" height="10.32" fill="rgb(254,235,234)" />
<rect x="539.98" y="83.68" width="8.16" height="10.32" fill="rgb(254,235,234)" />
<rect x="547.54" y="83.68" width="8.16" height="10.32" fill="rgb(255,213,211)" />
<rect x="555.1" y="83.68" width="8.16" height="10.32" fill="rgb(254,235,234)" />
<rect x="562.66" y="83.68" width="8.16" height="10.32" fill="rgb(253,152,148)" />
<rect x="570.22" y="83.68" width="8.16" height="10.32" fill="rgb(236,237,253)" />
<rect x="580.7" y="83.68" width="8.2" height="10.32" fill="rgb(254,235,234)" />
<rect x="588.3" y="83.68" width="8.2" height="10.32" fill="rgb(254,235,234)" />
<rect x="595.9" y="83.68" width="8.2" height="10.32" fill="rgb(254,235,234)" />
<rect x="603.5" y="83.68" width="8.2" height="10.32" fill="rgb(255,186,183)" />
<rect x="611.1" y="83.68" width="8.2" height="10.32" fill="rgb(255,213,211)" />
<rect x="618.7" y="83.68" width="8.2" height="10.32" fill="rgb(254,235,234)" />
<rect x="626.3" y="83.68" width="8.2" height="10.32" fill="rgb(255,255,255)" />
<rect x="633.9" y="83.68" width="8.2" height="10.32" fill="rgb(255,213,211)" />
<rect x="644.5" y="83.68" width="8.1" height="10.32" fill="rgb(255,213,211)" />
<rect x="652" y="83.68" width="8.1" height="10.32" fill="rgb(255,213,211)" />
<rect x="659.5" y="83.68" width="8.1" height="10.32" fill="rgb(254,235,234)" />
<rect x="667" y="83.68" width="8.1" height="10.32" fill="rgb(254,235,234)" />
<rect x="674.5" y="83.68" width="8.1" height="10.32" fill="rgb(254,235,234)" />
<rect x="682" y="83.68" width="8.1" height="10.32" fill="rgb(255,213,211)" />
<rect x="689.5" y="83.68" width="8.1" height="10.32" fill="rgb(255,255,255)" />
<rect x="697" y="83.68" width="8.1" height="10.32" fill="rgb(236,237,253)" />
<rect x="704.5" y="83.68" width="8.1" height="10.32" fill="rgb(255,186,183)" />
<rect x="712" y="83.68" width="8.1" height="10.32" fill="rgb(254,235,234)" />
<rect x="719.5" y="83.68" width="8.1" height="10.32" fill="rgb(254,235,234)" />
<rect x="727" y="83.68" width="8.1" height="10.32" fill="rgb(15,45,245)" />
<rect x="734.5" y="83.68" width="8.1" height="10.32" fill="rgb(254,235,234)" />
<rect x="742" y="83.68" width="8.1" height="10.32" fill="rgb(254,235,234)" />
<rect x="749.5" y="83.68" width="8.1" height="10.32" fill="rgb(254,235,234)" />
<rect x="757" y="83.68" width="8.1" height="10.32" fill="rgb(236,237,253)" />
<rect x="764.5" y="83.68" width="8.1" height="10.32" fill="rgb(255,213,211)" />
<rect x="772" y="83.68" width="8.1" height="10.32" fill="rgb(255,213,211)" />
<rect x="454.25" y="93.4" width="8.1" height="10.25" fill="rgb(254,235,234)" />
<rect x="461.75" y="93.4" width="8.1" height="10.25" fill="rgb(254,235,234)" />
<rect x="469.25" y="93.4" width="8.1" height="10.25" fill="rgb(254,235,234)" />
<rect x="476.75" y="93.4" width="8.1" height="10.25" fill="rgb(255,255,255)" />
<rect x="484.25" y="93.4" width="8.1" height="10.25" fill="rgb(255,255,255)" />
<rect x="491.75" y="93.4" width="8.1" height="10.25" fill="rgb(254,235,234)" />
<rect x="499.25" y="93.4" width="8.1" height="10.25" fill="rgb(255,255,255)" />
<rect x="506.75" y="93.4" width="8.1" height="10.25" fill="rgb(255,255,255)" />
<rect x="517.3" y="93.4" width="8.16" height="10.25" fill="rgb(236,237,253)" />
<rect x="524.86" y="93.4" width="8.16" height="10.25" fill="rgb(254,235,234)" />
<rect x="532.42" y="93.4" width="8.16" height="10.25" fill="rgb(254,235,234)" />
<rect x="539.98" y="93.4" width="8.16" height="10.25" fill="rgb(236,237,253)" />
<rect x="547.54" y="93.4" width="8.16" height="10.25" fill="rgb(254,235,234)" />
<rect x="555.1" y="93.4" width="8.16" height="10.25" fill="rgb(254,235,234)" />
<rect x="562.66" y="93.4" width="8.16" height="10.25" fill="rgb(255,213,211)" />
<rect x="570.22" y="93.4" width="8.16" height="10.25" fill="rgb(254,235,234)" />
<rect x="580.7" y="93.4" width="8.2" height="10.25" fill="rgb(254,235,234)" />
<rect x="588.3" y="93.4" width="8.2" height="10.25" fill="rgb(254,235,234)" />
<rect x="595.9" y="93.4" width="8.2" height="10.25" fill="rgb(254,235,234)" />
<rect x="603.5" y="93.4" width="8.2" height="10.25" fill="rgb(255,255,255)" />
<rect x="611.1" y="93.4" width="8.2" height="10.25" fill="rgb(255,213,211)" />
<rect x="618.7" y="93.4" width="8.2" height="10.25" fill="rgb(255,255,255)" />
<rect x="626.3" y="93.4" width="8.2" height="10.25" fill="rgb(255,255,255)" />
<rect x="633.9" y="93.4" width="8.2" height="10.25" fill="rgb(255,255,255)" />
<rect x="644.5" y="93.4" width="8.1" height="10.25" fill="rgb(255,255,255)" />
<rect x="652" y="93.4" width="8.1" height="10.25" fill="rgb(254,235,234)" />
<rect x="659.5" y="93.4" width="8.1" height="10.25" fill="rgb(236,237,253)" />
<rect x="667" y="93.4" width="8.1" height="10.25" fill="rgb(254,235,234)" />
<rect x="674.5" y="93.4" width="8.1" height="10.25" fill="rgb(254,235,234)" />
<rect x="682" y="93.4" width="8.1" height="10.25" fill="rgb(255,255,255)" />
<rect x="689.5" y="93.4" width="8.1" height="10.25" fill="rgb(254,235,234)" />
<rect x="697" y="93.4" width="8.1" height="10.25" fill="rgb(236,237,253)" />
<rect x="704.5" y="93.4" width="8.1" height="10.25" fill="rgb(255,255,255)" />
<rect x="712" y="93.4" width="8.1" height="10.25" fill="rgb(254,235,234)" />
<rect x="719.5" y="93.4" width="8.1" height="10.25" fill="rgb(255,255,255)" />
<rect x="727" y="93.4" width="8.1" height="10.25" fill="rgb(255,213,211)" />
<rect x="734.5" y="93.4" width="8.1" height="10.25" fill="rgb(254,235,234)" />
<rect x="742" y="93.4" width="8.1" height="10.25" fill="rgb(254,235,234)" />
<rect x="749.5" y="93.4" width="8.1" height="10.25" fill="rgb(254,235,234)" />
<rect x="757" y="93.4" width="8.1" height="10.25" fill="rgb(255,213,211)" />
<rect x="764.5" y="93.4" width="8.1" height="10.25" fill="rgb(254,235,234)" />
<rect x="772" y="93.4" width="8.1" height="10.25" fill="rgb(255,255,255)" />
<rect x="454.25" y="103.05" width="8.1" height="10.25" fill="rgb(254,235,234)" />
<rect x="461.75" y="103.05" width="8.1" height="10.25" fill="rgb(254,235,234)" />
<rect x="469.25" y="103.05" width="8.1" height="10.25" fill="rgb(255,213,211)" />
<rect x="476.75" y="103.05" width="8.1" height="10.25" fill="rgb(255,255,255)" />
<rect x="484.25" y="103.05" width="8.1" height="10.25" fill="rgb(255,255,255)" />
<rect x="491.75" y="103.05" width="8.1" height="10.25" fill="rgb(254,235,234)" />
<rect x="499.25" y="103.05" width="8.1" height="10.25" fill="rgb(255,255,255)" />
<rect x="506.75" y="103.05" width="8.1" height="10.25" fill="rgb(255,255,255)" />
<rect x="517.3" y="103.05" width="8.16" height="10.25" fill="rgb(254,235,234)" />
<rect x="524.86" y="103.05" width="8.16" height="10.25" fill="rgb(236,237,253)" />
<rect x="532.42" y="103.05" width="8.16" height="10.25" fill="rgb(254,235,234)" />
<rect x="539.98" y="103.05" width="8.16" height="10.25" fill="rgb(254,235,234)" />
<rect x="547.54" y="103.05" width="8.16" height="10.25" fill="rgb(254,235,234)" />
<rect x="555.1" y="103.05" width="8.16" height="10.25" fill="rgb(254,235,234)" />
<rect x="562.66" y="103.05" width="8.16" height="10.25" fill="rgb(255,213,211)" />
<rect x="570.22" y="103.05" width="8.16" height="10.25" fill="rgb(254,235,234)" />
<rect x="580.7" y="103.05" width="8.2" height="10.25" fill="rgb(236,237,253)" />
<rect x="588.3" y="103.05" width="8.2" height="10.25" fill="rgb(236,237,253)" />
<rect x="595.9" y="103.05" width="8.2" height="10.25" fill="rgb(254,235,234)" />
<rect x="603.5" y="103.05" width="8.2" height="10.25" fill="rgb(255,255,255)" />
<rect x="611.1" y="103.05" width="8.2" height="10.25" fill="rgb(254,235,234)" />
<rect x="618.7" y="103.05" width="8.2" height="10.25" fill="rgb(236,237,253)" />
<rect x="626.3" y="103.05" width="8.2" height="10.25" fill="rgb(255,255,255)" />
<rect x="633.9" y="103.05" width="8.2" height="10.25" fill="rgb(255,255,255)" />
<rect x="644.5" y="103.05" width="8.1" height="10.25" fill="rgb(236,237,253)" />
<rect x="652" y="103.05" width="8.1" height="10.25" fill="rgb(255,255,255)" />
<rect x="659.5" y="103.05" width="8.1" height="10.25" fill="rgb(255,255,255)" />
<rect x="667" y="103.05" width="8.1" height="10.25" fill="rgb(212,214,252)" />
<rect x="674.5" y="103.05" width="8.1" height="10.25" fill="rgb(236,237,253)" />
<rect x="682" y="103.05" width="8.1" height="10.25" fill="rgb(255,255,255)" />
<rect x="689.5" y="103.05" width="8.1" height="10.25" fill="rgb(255,255,255)" />
<rect x="697" y="103.05" width="8.1" height="10.25" fill="rgb(236,237,253)" />
<rect x="704.5" y="103.05" width="8.1" height="10.25" fill="rgb(255,255,255)" />
<rect x="712" y="103.05" width="8.1" height="10.25" fill="rgb(254,235,234)" />
<rect x="719.5" y="103.05" width="8.1" height="10.25" fill="rgb(236,237,253)" />
<rect x="727" y="103.05" width="8.1" height="10.25" fill="rgb(255,213,211)" />
<rect x="734.5" y="103.05" width="8.1" height="10.25" fill="rgb(236,237,253)" />
<rect x="742" y="103.05" width="8.1" height="10.25" fill="rgb(255,255,255)" />
<rect x="749.5" y="103.05" width="8.1" height="10.25" fill="rgb(254,235,234)" />
<rect x="757" y="103.05" width="8.1" height="10.25" fill="rgb(255,186,183)" />
<rect x="764.5" y="103.05" width="8.1" height="10.25" fill="rgb(236,237,253)" />
<rect x="772" y="103.05" width="8.1" height="10.25" fill="rgb(254,235,234)" />
<rect x="454.25" y="112.7" width="8.1" height="10.25" fill="rgb(254,235,234)" />
<rect x="461.75" y="112.7" width="8.1" height="10.25" fill="rgb(254,235,234)" />
<rect x="469.25" y="112.7" width="8.1" height="10.25" fill="rgb(255,255,255)" />
<rect x="476.75" y="112.7" width="8.1" height="10.25" fill="rgb(254,235,234)" />
<rect x="484.25" y="112.7" width="8.1" height="10.25" fill="rgb(254,235,234)" />
<rect x="491.75" y="112.7" width="8.1" height="10.25" fill="rgb(255,186,183)" />
<rect x="499.25" y="112.7" width="8.1" height="10.25" fill="rgb(254,235,234)" />
<rect x="506.75" y="112.7" width="8.1" height="10.25" fill="rgb(254,235,234)" />
<rect x="517.3" y="112.7" width="8.16" height="10.25" fill="rgb(255,255,255)" />
<rect x="524.86" y="112.7" width="8.16" height="10.25" fill="rgb(255,255,255)" />
<rect x="532.42" y="112.7" width="8.16" height="10.25" fill="rgb(254,235,234)" />
<rect x="539.98" y="112.7" width="8.16" height="10.25" fill="rgb(254,235,234)" />
<rect x="547.54" y="112.7" width="8.16" height="10.25" fill="rgb(255,255,255)" />
<rect x="555.1" y="112.7" width="8.16" height="10.25" fill="rgb(255,255,255)" />
<rect x="562.66" y="112.7" width="8.16" height="10.25" fill="rgb(254,235,234)" />
<rect x="570.22" y="112.7" width="8.16" height="10.25" fill="rgb(254,235,234)" />
<rect x="580.7" y="112.7" width="8.2" height="10.25" fill="rgb(254,235,234)" />
<rect x="588.3" y="112.7" width="8.2" height="10.25" fill="rgb(254,235,234)" />
<rect x="595.9" y="112.7" width="8.2" height="10.25" fill="rgb(255,255,255)" />
<rect x="603.5" y="112.7" width="8.2" height="10.25" fill="rgb(254,235,234)" />
<rect x="611.1" y="112.7" width="8.2" height="10.25" fill="rgb(254,235,234)" />
<rect x="618.7" y="112.7" width="8.2" height="10.25" fill="rgb(236,237,253)" />
<rect x="626.3" y="112.7" width="8.2" height="10.25" fill="rgb(255,255,255)" />
<rect x="633.9" y="112.7" width="8.2" height="10.25" fill="rgb(255,255,255)" />
<rect x="644.5" y="112.7" width="8.1" height="10.25" fill="rgb(255,213,211)" />
<rect x="652" y="112.7" width="8.1" height="10.25" fill="rgb(254,235,234)" />
<rect x="659.5" y="112.7" width="8.1" height="10.25" fill="rgb(255,255,255)" />
<rect x="667" y="112.7" width="8.1" height="10.25" fill="rgb(255,255,255)" />
<rect x="674.5" y="112.7" width="8.1" height="10.25" fill="rgb(255,213,211)" />
<rect x="682" y="112.7" width="8.1" height="10.25" fill="rgb(255,255,255)" />
<rect x="689.5" y="112.7" width="8.1" height="10.25" fill="rgb(255,213,211)" />
<rect x="697" y="112.7" width="8.1" height="10.25" fill="rgb(255,255,255)" />
<rect x="704.5" y="112.7" width="8.1" height="10.25" fill="rgb(254,235,234)" />
<rect x="712" y="112.7" width="8.1" height="10.25" fill="rgb(255,255,255)" />
<rect x="719.5" y="112.7" width="8.1" height="10.25" fill="rgb(255,255,255)" />
<rect x="727" y="112.7" width="8.1" height="10.25" fill="rgb(254,235,234)" />
<rect x="734.5" y="112.7" width="8.1" height="10.25" fill="rgb(254,235,234)" />
<rect x="742" y="112.7" width="8.1" height="10.25" fill="rgb(255,255,255)" />
<rect x="749.5" y="112.7" width="8.1" height="10.25" fill="rgb(236,237,253)" />
<rect x="757" y="112.7" width="8.1" height="10.25" fill="rgb(236,237,253)" />
<rect x="764.5" y="112.7" width="8.1" height="10.25" fill="rgb(255,255,255)" />
<rect x="772" y="112.7" width="8.1" height="10.25" fill="rgb(255,255,255)" />
<rect x="454.25" y="122.35" width="8.1" height="10.25" fill="rgb(254,235,234)" />
<rect x="461.75" y="122.35" width="8.1" height="10.25" fill="rgb(255,213,211)" />
<rect x="469.25" y="122.35" width="8.1" height="10.25" fill="rgb(255,213,211)" />
<rect x="476.75" y="122.35" width="8.1" height="10.25" fill="rgb(255,255,255)" />
<rect x="484.25" y="122.35" width="8.1" height="10.25" fill="rgb(255,255,255)" />
<rect x="491.75" y="122.35" width="8.1" height="10.25" fill="rgb(236,237,253)" />
<rect x="499.25" y="122.35" width="8.1" height="10.25" fill="rgb(255,255,255)" />
<rect x="506.75" y="122.35" width="8.1" height="10.25" fill="rgb(236,237,253)" />
<rect x="517.3" y="122.35" width="8.16" height="10.25" fill="rgb(176,181,251)" />
<rect x="524.86" y="122.35" width="8.16" height="10.25" fill="rgb(236,237,253)" />
<rect x="532.42" y="122.35" width="8.16" height="10.25" fill="rgb(255,255,255)" />
<rect x="539.98" y="122.35" width="8.16" height="10.25" fill="rgb(255,255,255)" />
<rect x="547.54" y="122.35" width="8.16" height="10.25" fill="rgb(254,235,234)" />
<rect x="555.1" y="122.35" width="8.16" height="10.25" fill="rgb(255,255,255)" />
<rect x="562.66" y="122.35" width="8.16" height="10.25" fill="rgb(254,235,234)" />
<rect x="570.22" y="122.35" width="8.16" height="10.25" fill="rgb(255,255,255)" />
<rect x="580.7" y="122.35" width="8.2" height="10.25" fill="rgb(236,237,253)" />
<rect x="588.3" y="122.35" width="8.2" height="10.25" fill="rgb(255,255,255)" />
<rect x="595.9" y="122.35" width="8.2" height="10.25" fill="rgb(255,255,255)" />
<rect x="603.5" y="122.35" width="8.2" height="10.25" fill="rgb(254,235,234)" />
<rect x="611.1" y="122.35" width="8.2" height="10.25" fill="rgb(254,235,234)" />
<rect x="618.7" y="122.35" width="8.2" height="10.25" fill="rgb(236,237,253)" />
<rect x="626.3" y="122.35" width="8.2" height="10.25" fill="rgb(255,255,255)" />
<rect x="633.9" y="122.35" width="8.2" height="10.25" fill="rgb(255,255,255)" />
<rect x="644.5" y="122.35" width="8.1" height="10.25" fill="rgb(254,235,234)" />
<rect x="652" y="122.35" width="8.1" height="10.25" fill="rgb(255,255,255)" />
<rect x="659.5" y="122.35" width="8.1" height="10.25" fill="rgb(255,255,255)" />
<rect x="667" y="122.35" width="8.1" height="10.25" fill="rgb(255,255,255)" />
<rect x="674.5" y="122.35" width="8.1" height="10.25" fill="rgb(254,235,234)" />
<rect x="682" y="122.35" width="8.1" height="10.25" fill="rgb(255,255,255)" />
<rect x="689.5" y="122.35" width="8.1" height="10.25" fill="rgb(254,235,234)" />
<rect x="697" y="122.35" width="8.1" height="10.25" fill="rgb(255,255,255)" />
<rect x="704.5" y="122.35" width="8.1" height="10.25" fill="rgb(254,235,234)" />
<rect x="712" y="122.35" width="8.1" height="10.25" fill="rgb(254,235,234)" />
<rect x="719.5" y="122.35" width="8.1" height="10.25" fill="rgb(255,255,255)" />
<rect x="727" y="122.35" width="8.1" height="10.25" fill="rgb(255,213,211)" />
<rect x="734.5" y="122.35" width="8.1" height="10.25" fill="rgb(255,255,255)" />
<rect x="742" y="122.35" width="8.1" height="10.25" fill="rgb(254,235,234)" />
<rect x="749.5" y="122.35" width="8.1" height="10.25" fill="rgb(255,255,255)" />
<rect x="757" y="122.35" width="8.1" height="10.25" fill="rgb(255,255,255)" />
<rect x="764.5" y="122.35" width="8.1" height="10.25" fill="rgb(255,255,255)" />
<rect x="772" y="122.35" width="8.1" height="10.25" fill="rgb(255,255,255)" />
<path d="M469.7 74.5L476.3 83.13M476.3 74.5L469.7 83.13" stroke="#1a1a1a" stroke-width="0.95" fill="none"/>
<path d="M517.75 74.5L524.41 83.13M524.41 74.5L517.75 83.13" stroke="#1a1a1a" stroke-width="0.95" fill="none"/>
<path d="M555.55 74.5L562.21 83.13M562.21 74.5L555.55 83.13" stroke="#1a1a1a" stroke-width="0.95" fill="none"/>
<path d="M712.45 74.5L719.05 83.13M719.05 74.5L712.45 83.13" stroke="#1a1a1a" stroke-width="0.95" fill="none"/>
<path d="M469.7 113.25L476.3 121.8M476.3 113.25L469.7 121.8" stroke="#1a1a1a" stroke-width="0.95" fill="none"/>
<path d="M517.75 113.25L524.41 121.8M524.41 113.25L517.75 121.8" stroke="#1a1a1a" stroke-width="0.95" fill="none"/>
<path d="M555.55 113.25L562.21 121.8M562.21 113.25L555.55 121.8" stroke="#1a1a1a" stroke-width="0.95" fill="none"/>
<path d="M712.45 113.25L719.05 121.8M719.05 113.25L712.45 121.8" stroke="#1a1a1a" stroke-width="0.95" fill="none"/>
<line x1="453.35" y1="44.5" x2="780.15" y2="44.5" stroke="#111" stroke-width="1.3" />
<line x1="453.35" y1="54.5" x2="780.15" y2="54.5" stroke="#111" stroke-width="1.3" />
<line x1="453.35" y1="93.4" x2="780.15" y2="93.4" stroke="#111" stroke-width="1.3" />
<line x1="453.35" y1="132" x2="780.15" y2="132" stroke="#111" stroke-width="1.3" />
<line x1="454" y1="44.5" x2="454" y2="132" stroke="#111" stroke-width="1.3" />
<line x1="515.75" y1="44.5" x2="515.75" y2="132" stroke="#111" stroke-width="1.3" />
<line x1="579.15" y1="44.5" x2="579.15" y2="132" stroke="#111" stroke-width="1.3" />
<line x1="642.95" y1="44.5" x2="642.95" y2="132" stroke="#111" stroke-width="1.3" />
<line x1="779.5" y1="44.5" x2="779.5" y2="132" stroke="#111" stroke-width="1.3" />
<line x1="458" y1="41.9" x2="458" y2="44.5" stroke="#000" stroke-width="0.8" />
<line x1="465.5" y1="41.9" x2="465.5" y2="44.5" stroke="#000" stroke-width="0.8" />
<line x1="473" y1="41.9" x2="473" y2="44.5" stroke="#000" stroke-width="0.8" />
<line x1="480.5" y1="41.9" x2="480.5" y2="44.5" stroke="#000" stroke-width="0.8" />
<line x1="488" y1="41.9" x2="488" y2="44.5" stroke="#000" stroke-width="0.8" />
<line x1="495.5" y1="41.9" x2="495.5" y2="44.5" stroke="#000" stroke-width="0.8" />
<line x1="503" y1="41.9" x2="503" y2="44.5" stroke="#000" stroke-width="0.8" />
<line x1="510.5" y1="41.9" x2="510.5" y2="44.5" stroke="#000" stroke-width="0.8" />
<line x1="521.08" y1="41.9" x2="521.08" y2="44.5" stroke="#000" stroke-width="0.8" />
<line x1="528.64" y1="41.9" x2="528.64" y2="44.5" stroke="#000" stroke-width="0.8" />
<line x1="536.2" y1="41.9" x2="536.2" y2="44.5" stroke="#000" stroke-width="0.8" />
<line x1="543.76" y1="41.9" x2="543.76" y2="44.5" stroke="#000" stroke-width="0.8" />
<line x1="551.32" y1="41.9" x2="551.32" y2="44.5" stroke="#000" stroke-width="0.8" />
<line x1="558.88" y1="41.9" x2="558.88" y2="44.5" stroke="#000" stroke-width="0.8" />
<line x1="566.44" y1="41.9" x2="566.44" y2="44.5" stroke="#000" stroke-width="0.8" />
<line x1="574" y1="41.9" x2="574" y2="44.5" stroke="#000" stroke-width="0.8" />
<line x1="584.5" y1="41.9" x2="584.5" y2="44.5" stroke="#000" stroke-width="0.8" />
<line x1="592.1" y1="41.9" x2="592.1" y2="44.5" stroke="#000" stroke-width="0.8" />
<line x1="599.7" y1="41.9" x2="599.7" y2="44.5" stroke="#000" stroke-width="0.8" />
<line x1="607.3" y1="41.9" x2="607.3" y2="44.5" stroke="#000" stroke-width="0.8" />
<line x1="614.9" y1="41.9" x2="614.9" y2="44.5" stroke="#000" stroke-width="0.8" />
<line x1="622.5" y1="41.9" x2="622.5" y2="44.5" stroke="#000" stroke-width="0.8" />
<line x1="630.1" y1="41.9" x2="630.1" y2="44.5" stroke="#000" stroke-width="0.8" />
<line x1="637.7" y1="41.9" x2="637.7" y2="44.5" stroke="#000" stroke-width="0.8" />
<line x1="648.25" y1="41.9" x2="648.25" y2="44.5" stroke="#000" stroke-width="0.8" />
<line x1="655.75" y1="41.9" x2="655.75" y2="44.5" stroke="#000" stroke-width="0.8" />
<line x1="663.25" y1="41.9" x2="663.25" y2="44.5" stroke="#000" stroke-width="0.8" />
<line x1="670.75" y1="41.9" x2="670.75" y2="44.5" stroke="#000" stroke-width="0.8" />
<line x1="678.25" y1="41.9" x2="678.25" y2="44.5" stroke="#000" stroke-width="0.8" />
<line x1="685.75" y1="41.9" x2="685.75" y2="44.5" stroke="#000" stroke-width="0.8" />
<line x1="693.25" y1="41.9" x2="693.25" y2="44.5" stroke="#000" stroke-width="0.8" />
<line x1="700.75" y1="41.9" x2="700.75" y2="44.5" stroke="#000" stroke-width="0.8" />
<line x1="708.25" y1="41.9" x2="708.25" y2="44.5" stroke="#000" stroke-width="0.8" />
<line x1="715.75" y1="41.9" x2="715.75" y2="44.5" stroke="#000" stroke-width="0.8" />
<line x1="723.25" y1="41.9" x2="723.25" y2="44.5" stroke="#000" stroke-width="0.8" />
<line x1="730.75" y1="41.9" x2="730.75" y2="44.5" stroke="#000" stroke-width="0.8" />
<line x1="738.25" y1="41.9" x2="738.25" y2="44.5" stroke="#000" stroke-width="0.8" />
<line x1="745.75" y1="41.9" x2="745.75" y2="44.5" stroke="#000" stroke-width="0.8" />
<line x1="753.25" y1="41.9" x2="753.25" y2="44.5" stroke="#000" stroke-width="0.8" />
<line x1="760.75" y1="41.9" x2="760.75" y2="44.5" stroke="#000" stroke-width="0.8" />
<line x1="768.25" y1="41.9" x2="768.25" y2="44.5" stroke="#000" stroke-width="0.8" />
<line x1="775.75" y1="41.9" x2="775.75" y2="44.5" stroke="#000" stroke-width="0.8" />
<text x="443" y="48.5" font-size="4.25" font-weight="bold" text-anchor="middle" fill="#000" stroke="#000" stroke-width="0.14">Tiaki</text>
<text x="443" y="52.2" font-size="3.8" font-weight="bold" text-anchor="middle" fill="#000" stroke="#000" stroke-width="0.14">Bulk</text>
<text x="443" y="58.5" font-size="4.25" font-weight="bold" text-anchor="middle" fill="#000" stroke="#000" stroke-width="0.14">ALS</text>
<text x="443" y="62.2" font-size="3.8" font-weight="bold" text-anchor="middle" fill="#000" stroke="#000" stroke-width="0.14">(MCL)</text>
<text x="443" y="68.22" font-size="4.25" font-weight="bold" text-anchor="middle" fill="#000" stroke="#000" stroke-width="0.14">ALS</text>
<text x="443" y="71.92" font-size="3.8" font-weight="bold" text-anchor="middle" fill="#000" stroke="#000" stroke-width="0.14">(MCM)</text>
<text x="443" y="77.95" font-size="4.25" font-weight="bold" text-anchor="middle" fill="#000" stroke="#000" stroke-width="0.14">FTD</text>
<text x="443" y="81.65" font-size="3.8" font-weight="bold" text-anchor="middle" fill="#000" stroke="#000" stroke-width="0.14">(GRN)</text>
<text x="443" y="87.68" font-size="4.25" font-weight="bold" text-anchor="middle" fill="#000" stroke="#000" stroke-width="0.14">HD</text>
<text x="443" y="91.38" font-size="3.8" font-weight="bold" text-anchor="middle" fill="#000" stroke="#000" stroke-width="0.14">(CN)</text>
<text x="443" y="97.4" font-size="4.25" font-weight="bold" text-anchor="middle" fill="#000" stroke="#000" stroke-width="0.14">ALS</text>
<text x="443" y="101.1" font-size="3.8" font-weight="bold" text-anchor="middle" fill="#000" stroke="#000" stroke-width="0.14">(MCL)</text>
<text x="443" y="107.05" font-size="4.25" font-weight="bold" text-anchor="middle" fill="#000" stroke="#000" stroke-width="0.14">ALS</text>
<text x="443" y="110.75" font-size="3.8" font-weight="bold" text-anchor="middle" fill="#000" stroke="#000" stroke-width="0.14">(MCM)</text>
<text x="443" y="116.7" font-size="4.25" font-weight="bold" text-anchor="middle" fill="#000" stroke="#000" stroke-width="0.14">FTD</text>
<text x="443" y="120.4" font-size="3.8" font-weight="bold" text-anchor="middle" fill="#000" stroke="#000" stroke-width="0.14">(Sporadic)</text>
<text x="443" y="126.35" font-size="4.25" font-weight="bold" text-anchor="middle" fill="#000" stroke="#000" stroke-width="0.14">HD</text>
<text x="443" y="130.05" font-size="3.8" font-weight="bold" text-anchor="middle" fill="#000" stroke="#000" stroke-width="0.14">(BA9)</text>
<text transform="translate(458.5,41.6) rotate(-45)" font-size="4.5" font-weight="bold" stroke="#000" stroke-width="0.12">C1qa</text>
<text transform="translate(466,41.6) rotate(-45)" font-size="4.5" font-weight="bold" stroke="#000" stroke-width="0.12">C1qb</text>
<text transform="translate(473.5,41.6) rotate(-45)" font-size="4.5" font-weight="bold" stroke="#000" stroke-width="0.12">C1qc</text>
<text transform="translate(481,41.6) rotate(-45)" font-size="4.5" font-weight="bold" stroke="#000" stroke-width="0.12">Ctss</text>
<text transform="translate(488.5,41.6) rotate(-45)" font-size="4.5" font-weight="bold" stroke="#000" stroke-width="0.12">Hexb</text>
<text transform="translate(496,41.6) rotate(-45)" font-size="4.5" font-weight="bold" stroke="#000" stroke-width="0.12">Olfml3</text>
<text transform="translate(503.5,41.6) rotate(-45)" font-size="4.5" font-weight="bold" stroke="#000" stroke-width="0.12">Csf1r</text>
<text transform="translate(511,41.6) rotate(-45)" font-size="4.5" font-weight="bold" stroke="#000" stroke-width="0.12">Cst3</text>
<text transform="translate(521.58,41.6) rotate(-45)" font-size="4.5" font-weight="bold" stroke="#000" stroke-width="0.12">P2ry12</text>
<text transform="translate(529.14,41.6) rotate(-45)" font-size="4.5" font-weight="bold" stroke="#000" stroke-width="0.12">P2ry13</text>
<text transform="translate(536.7,41.6) rotate(-45)" font-size="4.5" font-weight="bold" stroke="#000" stroke-width="0.12">Serinc3</text>
<text transform="translate(544.26,41.6) rotate(-45)" font-size="4.5" font-weight="bold" stroke="#000" stroke-width="0.12">Cx3cr1</text>
<text transform="translate(551.82,41.6) rotate(-45)" font-size="4.5" font-weight="bold" stroke="#000" stroke-width="0.12">Tgfbr1</text>
<text transform="translate(559.38,41.6) rotate(-45)" font-size="4.5" font-weight="bold" stroke="#000" stroke-width="0.12">Tmem119</text>
<text transform="translate(566.94,41.6) rotate(-45)" font-size="4.5" font-weight="bold" stroke="#000" stroke-width="0.12">Txnip</text>
<text transform="translate(574.5,41.6) rotate(-45)" font-size="4.5" font-weight="bold" stroke="#000" stroke-width="0.12">Glul</text>
<text transform="translate(585,41.6) rotate(-45)" font-size="4.5" font-weight="bold" stroke="#000" stroke-width="0.12">Apoe</text>
<text transform="translate(592.6,41.6) rotate(-45)" font-size="4.5" font-weight="bold" stroke="#000" stroke-width="0.12">B2m</text>
<text transform="translate(600.2,41.6) rotate(-45)" font-size="4.5" font-weight="bold" stroke="#000" stroke-width="0.12">Cd9</text>
<text transform="translate(607.8,41.6) rotate(-45)" font-size="4.5" font-weight="bold" stroke="#000" stroke-width="0.12">Tyrobp</text>
<text transform="translate(615.4,41.6) rotate(-45)" font-size="4.5" font-weight="bold" stroke="#000" stroke-width="0.12">Trem2</text>
<text transform="translate(623,41.6) rotate(-45)" font-size="4.5" font-weight="bold" stroke="#000" stroke-width="0.12">Lyz2</text>
<text transform="translate(630.6,41.6) rotate(-45)" font-size="4.5" font-weight="bold" stroke="#000" stroke-width="0.12">Ctsb</text>
<text transform="translate(638.2,41.6) rotate(-45)" font-size="4.5" font-weight="bold" stroke="#000" stroke-width="0.12">Ctsd</text>
<text transform="translate(648.75,41.6) rotate(-45)" font-size="4.5" font-weight="bold" stroke="#000" stroke-width="0.12">Spp1</text>
<text transform="translate(656.25,41.6) rotate(-45)" font-size="4.5" font-weight="bold" stroke="#000" stroke-width="0.12">Axl</text>
<text transform="translate(663.75,41.6) rotate(-45)" font-size="4.5" font-weight="bold" stroke="#000" stroke-width="0.12">Csf1</text>
<text transform="translate(671.25,41.6) rotate(-45)" font-size="4.5" font-weight="bold" stroke="#000" stroke-width="0.12">Cst7</text>
<text transform="translate(678.75,41.6) rotate(-45)" font-size="4.5" font-weight="bold" stroke="#000" stroke-width="0.12">Lpl</text>
<text transform="translate(686.25,41.6) rotate(-45)" font-size="4.5" font-weight="bold" stroke="#000" stroke-width="0.12">Cd63</text>
<text transform="translate(693.75,41.6) rotate(-45)" font-size="4.5" font-weight="bold" stroke="#000" stroke-width="0.12">Cd68</text>
<text transform="translate(701.25,41.6) rotate(-45)" font-size="4.5" font-weight="bold" stroke="#000" stroke-width="0.12">Clec7a</text>
<text transform="translate(708.75,41.6) rotate(-45)" font-size="4.5" font-weight="bold" stroke="#000" stroke-width="0.12">Itgax</text>
<text transform="translate(716.25,41.6) rotate(-45)" font-size="4.5" font-weight="bold" stroke="#000" stroke-width="0.12">Ccl6</text>
<text transform="translate(723.75,41.6) rotate(-45)" font-size="4.5" font-weight="bold" stroke="#000" stroke-width="0.12">Lilrb4</text>
<text transform="translate(731.25,41.6) rotate(-45)" font-size="4.5" font-weight="bold" stroke="#000" stroke-width="0.12">Cd9</text>
<text transform="translate(738.75,41.6) rotate(-45)" font-size="4.5" font-weight="bold" stroke="#000" stroke-width="0.12">Ctsl</text>
<text transform="translate(746.25,41.6) rotate(-45)" font-size="4.5" font-weight="bold" stroke="#000" stroke-width="0.12">Ank</text>
<text transform="translate(753.75,41.6) rotate(-45)" font-size="4.5" font-weight="bold" stroke="#000" stroke-width="0.12">Gpnmb</text>
<text transform="translate(761.25,41.6) rotate(-45)" font-size="4.5" font-weight="bold" stroke="#000" stroke-width="0.12">Cd74</text>
<text transform="translate(768.75,41.6) rotate(-45)" font-size="4.5" font-weight="bold" stroke="#000" stroke-width="0.12">Timp2</text>
<text transform="translate(776.25,41.6) rotate(-45)" font-size="4.5" font-weight="bold" stroke="#000" stroke-width="0.12">Ifitm3</text>
<text x="420" y="21.4" font-size="19.8" font-weight="bold" text-anchor="start" fill="#000" >B</text>
<text x="616.4" y="9.3" font-size="12.45" font-weight="bold" text-anchor="middle" fill="#000" >Disease-associated Microglial Genes</text>
<text x="485.1" y="21.7" font-size="6.35" font-weight="bold" text-anchor="middle" fill="#000" >Homeostatic</text>
<text x="547" y="21.7" font-size="6.35" font-weight="bold" text-anchor="middle" fill="#000" >D1 Down</text>
<text x="611.5" y="21.7" font-size="6.35" font-weight="bold" text-anchor="middle" fill="#000" >D1 Up</text>
<text x="710.7" y="21.7" font-size="6.35" font-weight="bold" text-anchor="middle" fill="#000" >D2 Up</text>
<rect x="453.8" y="138.3" width="125.1" height="9" fill="url(#gB)" stroke="#222" stroke-width="1"/>
<line x1="459" y1="138.3" x2="459" y2="139.9" stroke="#222" stroke-width="0.8" />
<line x1="459" y1="145.7" x2="459" y2="147.3" stroke="#222" stroke-width="0.8" />
<text x="459" y="155.5" font-size="6.6" font-weight="normal" text-anchor="middle" fill="#000" >-6</text>
<line x1="486.6" y1="138.3" x2="486.6" y2="139.9" stroke="#222" stroke-width="0.8" />
<line x1="486.6" y1="145.7" x2="486.6" y2="147.3" stroke="#222" stroke-width="0.8" />
<text x="486.6" y="155.5" font-size="6.6" font-weight="normal" text-anchor="middle" fill="#000" >-3</text>
<line x1="514.2" y1="138.3" x2="514.2" y2="139.9" stroke="#222" stroke-width="0.8" />
<line x1="514.2" y1="145.7" x2="514.2" y2="147.3" stroke="#222" stroke-width="0.8" />
<text x="514.2" y="155.5" font-size="6.6" font-weight="normal" text-anchor="middle" fill="#000" >0</text>
<line x1="541.8" y1="138.3" x2="541.8" y2="139.9" stroke="#222" stroke-width="0.8" />
<line x1="541.8" y1="145.7" x2="541.8" y2="147.3" stroke="#222" stroke-width="0.8" />
<text x="541.8" y="155.5" font-size="6.6" font-weight="normal" text-anchor="middle" fill="#000" >3</text>
<line x1="569.4" y1="138.3" x2="569.4" y2="139.9" stroke="#222" stroke-width="0.8" />
<line x1="569.4" y1="145.7" x2="569.4" y2="147.3" stroke="#222" stroke-width="0.8" />
<text x="569.4" y="155.5" font-size="6.6" font-weight="normal" text-anchor="middle" fill="#000" >6</text>
<text x="586.2" y="145.1" font-size="7.45" font-weight="bold" text-anchor="start" fill="#000" >Scaled Log<tspan font-size="4.9" dy="1.7">2</tspan><tspan dy="-1.7">[Fold Change]</tspan></text>
<rect x="452.2" y="203.5" width="5.2" height="10.3" fill="rgb(255,186,183)" />
<rect x="456.8" y="203.5" width="5.2" height="10.3" fill="rgb(255,186,183)" />
<rect x="461.4" y="203.5" width="5.2" height="10.3" fill="rgb(255,213,211)" />
<rect x="466" y="203.5" width="5.2" height="10.3" fill="rgb(242,38,15)" />
<rect x="470.6" y="203.5" width="5.2" height="10.3" fill="rgb(255,213,211)" />
<rect x="475.2" y="203.5" width="5.2" height="10.3" fill="rgb(245,82,74)" />
<rect x="479.8" y="203.5" width="5.2" height="10.3" fill="rgb(245,82,74)" />
<rect x="484.4" y="203.5" width="5.2" height="10.3" fill="rgb(176,181,251)" />
<rect x="489" y="203.5" width="5.2" height="10.3" fill="rgb(255,186,183)" />
<rect x="493.6" y="203.5" width="5.2" height="10.3" fill="rgb(255,213,211)" />
<rect x="498.2" y="203.5" width="5.2" height="10.3" fill="rgb(254,235,234)" />
<rect x="506.2" y="203.5" width="5.19" height="10.3" fill="rgb(255,255,255)" />
<rect x="510.79" y="203.5" width="5.19" height="10.3" fill="rgb(254,235,234)" />
<rect x="515.38" y="203.5" width="5.19" height="10.3" fill="rgb(254,235,234)" />
<rect x="519.97" y="203.5" width="5.19" height="10.3" fill="rgb(254,235,234)" />
<rect x="524.56" y="203.5" width="5.19" height="10.3" fill="rgb(236,237,253)" />
<rect x="529.15" y="203.5" width="5.19" height="10.3" fill="rgb(255,255,255)" />
<rect x="533.74" y="203.5" width="5.19" height="10.3" fill="rgb(255,255,255)" />
<rect x="538.33" y="203.5" width="5.19" height="10.3" fill="rgb(255,213,211)" />
<rect x="542.92" y="203.5" width="5.19" height="10.3" fill="rgb(253,152,148)" />
<rect x="547.51" y="203.5" width="5.19" height="10.3" fill="rgb(253,152,148)" />
<rect x="552.1" y="203.5" width="5.19" height="10.3" fill="rgb(212,214,252)" />
<rect x="556.69" y="203.5" width="5.19" height="10.3" fill="rgb(140,150,249)" />
<rect x="561.28" y="203.5" width="5.19" height="10.3" fill="rgb(140,150,249)" />
<rect x="565.87" y="203.5" width="5.19" height="10.3" fill="rgb(254,235,234)" />
<rect x="570.46" y="203.5" width="5.19" height="10.3" fill="rgb(254,235,234)" />
<rect x="575.05" y="203.5" width="5.19" height="10.3" fill="rgb(254,235,234)" />
<rect x="579.64" y="203.5" width="5.19" height="10.3" fill="rgb(254,235,234)" />
<rect x="584.23" y="203.5" width="5.19" height="10.3" fill="rgb(254,235,234)" />
<rect x="588.82" y="203.5" width="5.19" height="10.3" fill="rgb(254,235,234)" />
<rect x="593.41" y="203.5" width="5.19" height="10.3" fill="rgb(236,237,253)" />
<rect x="598" y="203.5" width="5.19" height="10.3" fill="rgb(254,235,234)" />
<rect x="602.59" y="203.5" width="5.19" height="10.3" fill="rgb(254,235,234)" />
<rect x="607.18" y="203.5" width="5.19" height="10.3" fill="rgb(255,213,211)" />
<rect x="611.77" y="203.5" width="5.19" height="10.3" fill="rgb(254,235,234)" />
<rect x="616.36" y="203.5" width="5.19" height="10.3" fill="rgb(254,235,234)" />
<rect x="620.95" y="203.5" width="5.19" height="10.3" fill="rgb(255,213,211)" />
<rect x="629.1" y="203.5" width="5.18" height="10.3" fill="rgb(255,255,255)" />
<rect x="633.68" y="203.5" width="5.18" height="10.3" fill="rgb(254,235,234)" />
<rect x="638.26" y="203.5" width="5.18" height="10.3" fill="rgb(254,235,234)" />
<rect x="642.84" y="203.5" width="5.18" height="10.3" fill="rgb(255,213,211)" />
<rect x="647.42" y="203.5" width="5.18" height="10.3" fill="rgb(176,181,251)" />
<rect x="652" y="203.5" width="5.18" height="10.3" fill="rgb(255,255,255)" />
<rect x="656.58" y="203.5" width="5.18" height="10.3" fill="rgb(245,82,74)" />
<rect x="661.16" y="203.5" width="5.18" height="10.3" fill="rgb(253,152,148)" />
<rect x="665.74" y="203.5" width="5.18" height="10.3" fill="rgb(253,152,148)" />
<rect x="670.32" y="203.5" width="5.18" height="10.3" fill="rgb(255,186,183)" />
<rect x="674.9" y="203.5" width="5.18" height="10.3" fill="rgb(255,186,183)" />
<rect x="679.48" y="203.5" width="5.18" height="10.3" fill="rgb(255,255,255)" />
<rect x="684.06" y="203.5" width="5.18" height="10.3" fill="rgb(255,213,211)" />
<rect x="688.64" y="203.5" width="5.18" height="10.3" fill="rgb(255,213,211)" />
<rect x="693.22" y="203.5" width="5.18" height="10.3" fill="rgb(236,237,253)" />
<rect x="697.8" y="203.5" width="5.18" height="10.3" fill="rgb(255,255,255)" />
<rect x="702.38" y="203.5" width="5.18" height="10.3" fill="rgb(255,186,183)" />
<rect x="706.96" y="203.5" width="5.18" height="10.3" fill="rgb(255,186,183)" />
<rect x="711.54" y="203.5" width="5.18" height="10.3" fill="rgb(242,38,15)" />
<rect x="716.12" y="203.5" width="5.18" height="10.3" fill="rgb(255,213,211)" />
<rect x="720.7" y="203.5" width="5.18" height="10.3" fill="rgb(255,213,211)" />
<rect x="725.28" y="203.5" width="5.18" height="10.3" fill="rgb(255,186,183)" />
<rect x="729.86" y="203.5" width="5.18" height="10.3" fill="rgb(255,186,183)" />
<rect x="734.44" y="203.5" width="5.18" height="10.3" fill="rgb(255,213,211)" />
<rect x="739.02" y="203.5" width="5.18" height="10.3" fill="rgb(255,186,183)" />
<rect x="743.6" y="203.5" width="5.18" height="10.3" fill="rgb(255,186,183)" />
<rect x="748.18" y="203.5" width="5.18" height="10.3" fill="rgb(212,214,252)" />
<rect x="752.76" y="203.5" width="5.18" height="10.3" fill="rgb(255,213,211)" />
<rect x="757.34" y="203.5" width="5.18" height="10.3" fill="rgb(255,213,211)" />
<rect x="761.92" y="203.5" width="5.18" height="10.3" fill="rgb(254,235,234)" />
<rect x="766.5" y="203.5" width="5.18" height="10.3" fill="rgb(255,213,211)" />
<rect x="771.08" y="203.5" width="5.18" height="10.3" fill="rgb(255,186,183)" />
<rect x="452.2" y="213.2" width="5.2" height="10.65" fill="rgb(245,82,74)" />
<rect x="456.8" y="213.2" width="5.2" height="10.65" fill="rgb(245,82,74)" />
<rect x="461.4" y="213.2" width="5.2" height="10.65" fill="rgb(140,150,249)" />
<rect x="466" y="213.2" width="5.2" height="10.65" fill="rgb(255,255,255)" />
<rect x="470.6" y="213.2" width="5.2" height="10.65" fill="rgb(254,235,234)" />
<rect x="475.2" y="213.2" width="5.2" height="10.65" fill="rgb(255,213,211)" />
<rect x="479.8" y="213.2" width="5.2" height="10.65" fill="rgb(255,213,211)" />
<rect x="484.4" y="213.2" width="5.2" height="10.65" fill="rgb(255,213,211)" />
<rect x="489" y="213.2" width="5.2" height="10.65" fill="rgb(255,213,211)" />
<rect x="493.6" y="213.2" width="5.2" height="10.65" fill="rgb(255,186,183)" />
<rect x="498.2" y="213.2" width="5.2" height="10.65" fill="rgb(255,213,211)" />
<rect x="506.2" y="213.2" width="5.19" height="10.65" fill="rgb(255,213,211)" />
<rect x="510.79" y="213.2" width="5.19" height="10.65" fill="rgb(255,213,211)" />
<rect x="515.38" y="213.2" width="5.19" height="10.65" fill="rgb(254,235,234)" />
<rect x="519.97" y="213.2" width="5.19" height="10.65" fill="rgb(254,235,234)" />
<rect x="524.56" y="213.2" width="5.19" height="10.65" fill="rgb(254,235,234)" />
<rect x="529.15" y="213.2" width="5.19" height="10.65" fill="rgb(255,213,211)" />
<rect x="533.74" y="213.2" width="5.19" height="10.65" fill="rgb(255,213,211)" />
<rect x="538.33" y="213.2" width="5.19" height="10.65" fill="rgb(253,152,148)" />
<rect x="542.92" y="213.2" width="5.19" height="10.65" fill="rgb(254,235,234)" />
<rect x="547.51" y="213.2" width="5.19" height="10.65" fill="rgb(212,214,252)" />
<rect x="552.1" y="213.2" width="5.19" height="10.65" fill="rgb(76,96,248)" />
<rect x="556.69" y="213.2" width="5.19" height="10.65" fill="rgb(236,237,253)" />
<rect x="561.28" y="213.2" width="5.19" height="10.65" fill="rgb(236,237,253)" />
<rect x="565.87" y="213.2" width="5.19" height="10.65" fill="rgb(255,255,255)" />
<rect x="570.46" y="213.2" width="5.19" height="10.65" fill="rgb(236,237,253)" />
<rect x="575.05" y="213.2" width="5.19" height="10.65" fill="rgb(236,237,253)" />
<rect x="579.64" y="213.2" width="5.19" height="10.65" fill="rgb(255,255,255)" />
<rect x="584.23" y="213.2" width="5.19" height="10.65" fill="rgb(254,235,234)" />
<rect x="588.82" y="213.2" width="5.19" height="10.65" fill="rgb(255,255,255)" />
<rect x="593.41" y="213.2" width="5.19" height="10.65" fill="rgb(255,255,255)" />
<rect x="598" y="213.2" width="5.19" height="10.65" fill="rgb(236,237,253)" />
<rect x="602.59" y="213.2" width="5.19" height="10.65" fill="rgb(254,235,234)" />
<rect x="607.18" y="213.2" width="5.19" height="10.65" fill="rgb(255,255,255)" />
<rect x="611.77" y="213.2" width="5.19" height="10.65" fill="rgb(255,213,211)" />
<rect x="616.36" y="213.2" width="5.19" height="10.65" fill="rgb(255,213,211)" />
<rect x="620.95" y="213.2" width="5.19" height="10.65" fill="rgb(255,213,211)" />
<rect x="629.1" y="213.2" width="5.18" height="10.65" fill="rgb(255,255,255)" />
<rect x="633.68" y="213.2" width="5.18" height="10.65" fill="rgb(254,235,234)" />
<rect x="638.26" y="213.2" width="5.18" height="10.65" fill="rgb(255,213,211)" />
<rect x="642.84" y="213.2" width="5.18" height="10.65" fill="rgb(255,213,211)" />
<rect x="647.42" y="213.2" width="5.18" height="10.65" fill="rgb(255,213,211)" />
<rect x="652" y="213.2" width="5.18" height="10.65" fill="rgb(255,213,211)" />
<rect x="656.58" y="213.2" width="5.18" height="10.65" fill="rgb(255,255,255)" />
<rect x="661.16" y="213.2" width="5.18" height="10.65" fill="rgb(176,181,251)" />
<rect x="665.74" y="213.2" width="5.18" height="10.65" fill="rgb(254,235,234)" />
<rect x="670.32" y="213.2" width="5.18" height="10.65" fill="rgb(254,235,234)" />
<rect x="674.9" y="213.2" width="5.18" height="10.65" fill="rgb(254,235,234)" />
<rect x="679.48" y="213.2" width="5.18" height="10.65" fill="rgb(212,214,252)" />
<rect x="684.06" y="213.2" width="5.18" height="10.65" fill="rgb(176,181,251)" />
<rect x="688.64" y="213.2" width="5.18" height="10.65" fill="rgb(176,181,251)" />
<rect x="693.22" y="213.2" width="5.18" height="10.65" fill="rgb(254,235,234)" />
<rect x="697.8" y="213.2" width="5.18" height="10.65" fill="rgb(254,235,234)" />
<rect x="702.38" y="213.2" width="5.18" height="10.65" fill="rgb(255,213,211)" />
<rect x="706.96" y="213.2" width="5.18" height="10.65" fill="rgb(255,213,211)" />
<rect x="711.54" y="213.2" width="5.18" height="10.65" fill="rgb(254,235,234)" />
<rect x="716.12" y="213.2" width="5.18" height="10.65" fill="rgb(255,213,211)" />
<rect x="720.7" y="213.2" width="5.18" height="10.65" fill="rgb(254,235,234)" />
<rect x="725.28" y="213.2" width="5.18" height="10.65" fill="rgb(253,152,148)" />
<rect x="729.86" y="213.2" width="5.18" height="10.65" fill="rgb(255,186,183)" />
<rect x="734.44" y="213.2" width="5.18" height="10.65" fill="rgb(253,152,148)" />
<rect x="739.02" y="213.2" width="5.18" height="10.65" fill="rgb(255,186,183)" />
<rect x="743.6" y="213.2" width="5.18" height="10.65" fill="rgb(255,186,183)" />
<rect x="748.18" y="213.2" width="5.18" height="10.65" fill="rgb(76,96,248)" />
<rect x="752.76" y="213.2" width="5.18" height="10.65" fill="rgb(140,150,249)" />
<rect x="757.34" y="213.2" width="5.18" height="10.65" fill="rgb(176,181,251)" />
<rect x="761.92" y="213.2" width="5.18" height="10.65" fill="rgb(140,150,249)" />
<rect x="766.5" y="213.2" width="5.18" height="10.65" fill="rgb(140,150,249)" />
<rect x="771.08" y="213.2" width="5.18" height="10.65" fill="rgb(176,181,251)" />
<rect x="452.2" y="223.25" width="5.2" height="10.65" fill="rgb(245,82,74)" />
<rect x="456.8" y="223.25" width="5.2" height="10.65" fill="rgb(245,82,74)" />
<rect x="461.4" y="223.25" width="5.2" height="10.65" fill="rgb(253,152,148)" />
<rect x="466" y="223.25" width="5.2" height="10.65" fill="rgb(255,255,255)" />
<rect x="470.6" y="223.25" width="5.2" height="10.65" fill="rgb(255,186,183)" />
<rect x="475.2" y="223.25" width="5.2" height="10.65" fill="rgb(255,186,183)" />
<rect x="479.8" y="223.25" width="5.2" height="10.65" fill="rgb(255,186,183)" />
<rect x="484.4" y="223.25" width="5.2" height="10.65" fill="rgb(254,235,234)" />
<rect x="489" y="223.25" width="5.2" height="10.65" fill="rgb(255,186,183)" />
<rect x="493.6" y="223.25" width="5.2" height="10.65" fill="rgb(253,152,148)" />
<rect x="498.2" y="223.25" width="5.2" height="10.65" fill="rgb(255,186,183)" />
<rect x="506.2" y="223.25" width="5.19" height="10.65" fill="rgb(255,213,211)" />
<rect x="510.79" y="223.25" width="5.19" height="10.65" fill="rgb(255,186,183)" />
<rect x="515.38" y="223.25" width="5.19" height="10.65" fill="rgb(255,213,211)" />
<rect x="519.97" y="223.25" width="5.19" height="10.65" fill="rgb(255,213,211)" />
<rect x="524.56" y="223.25" width="5.19" height="10.65" fill="rgb(255,213,211)" />
<rect x="529.15" y="223.25" width="5.19" height="10.65" fill="rgb(255,213,211)" />
<rect x="533.74" y="223.25" width="5.19" height="10.65" fill="rgb(255,213,211)" />
<rect x="538.33" y="223.25" width="5.19" height="10.65" fill="rgb(253,152,148)" />
<rect x="542.92" y="223.25" width="5.19" height="10.65" fill="rgb(255,213,211)" />
<rect x="547.51" y="223.25" width="5.19" height="10.65" fill="rgb(254,235,234)" />
<rect x="552.1" y="223.25" width="5.19" height="10.65" fill="rgb(76,96,248)" />
<rect x="556.69" y="223.25" width="5.19" height="10.65" fill="rgb(140,150,249)" />
<rect x="561.28" y="223.25" width="5.19" height="10.65" fill="rgb(255,255,255)" />
<rect x="565.87" y="223.25" width="5.19" height="10.65" fill="rgb(236,237,253)" />
<rect x="570.46" y="223.25" width="5.19" height="10.65" fill="rgb(236,237,253)" />
<rect x="575.05" y="223.25" width="5.19" height="10.65" fill="rgb(176,181,251)" />
<rect x="579.64" y="223.25" width="5.19" height="10.65" fill="rgb(254,235,234)" />
<rect x="584.23" y="223.25" width="5.19" height="10.65" fill="rgb(255,213,211)" />
<rect x="588.82" y="223.25" width="5.19" height="10.65" fill="rgb(255,213,211)" />
<rect x="593.41" y="223.25" width="5.19" height="10.65" fill="rgb(255,255,255)" />
<rect x="598" y="223.25" width="5.19" height="10.65" fill="rgb(255,255,255)" />
<rect x="602.59" y="223.25" width="5.19" height="10.65" fill="rgb(254,235,234)" />
<rect x="607.18" y="223.25" width="5.19" height="10.65" fill="rgb(254,235,234)" />
<rect x="611.77" y="223.25" width="5.19" height="10.65" fill="rgb(254,235,234)" />
<rect x="616.36" y="223.25" width="5.19" height="10.65" fill="rgb(254,235,234)" />
<rect x="620.95" y="223.25" width="5.19" height="10.65" fill="rgb(254,235,234)" />
<rect x="629.1" y="223.25" width="5.18" height="10.65" fill="rgb(255,255,255)" />
<rect x="633.68" y="223.25" width="5.18" height="10.65" fill="rgb(255,213,211)" />
<rect x="638.26" y="223.25" width="5.18" height="10.65" fill="rgb(255,255,255)" />
<rect x="642.84" y="223.25" width="5.18" height="10.65" fill="rgb(255,213,211)" />
<rect x="647.42" y="223.25" width="5.18" height="10.65" fill="rgb(253,152,148)" />
<rect x="652" y="223.25" width="5.18" height="10.65" fill="rgb(255,186,183)" />
<rect x="656.58" y="223.25" width="5.18" height="10.65" fill="rgb(176,181,251)" />
<rect x="661.16" y="223.25" width="5.18" height="10.65" fill="rgb(236,237,253)" />
<rect x="665.74" y="223.25" width="5.18" height="10.65" fill="rgb(212,214,252)" />
<rect x="670.32" y="223.25" width="5.18" height="10.65" fill="rgb(255,186,183)" />
<rect x="674.9" y="223.25" width="5.18" height="10.65" fill="rgb(254,235,234)" />
<rect x="679.48" y="223.25" width="5.18" height="10.65" fill="rgb(140,150,249)" />
<rect x="684.06" y="223.25" width="5.18" height="10.65" fill="rgb(212,214,252)" />
<rect x="688.64" y="223.25" width="5.18" height="10.65" fill="rgb(212,214,252)" />
<rect x="693.22" y="223.25" width="5.18" height="10.65" fill="rgb(254,235,234)" />
<rect x="697.8" y="223.25" width="5.18" height="10.65" fill="rgb(176,181,251)" />
<rect x="702.38" y="223.25" width="5.18" height="10.65" fill="rgb(255,186,183)" />
<rect x="706.96" y="223.25" width="5.18" height="10.65" fill="rgb(255,213,211)" />
<rect x="711.54" y="223.25" width="5.18" height="10.65" fill="rgb(255,213,211)" />
<rect x="716.12" y="223.25" width="5.18" height="10.65" fill="rgb(255,186,183)" />
<rect x="720.7" y="223.25" width="5.18" height="10.65" fill="rgb(255,213,211)" />
<rect x="725.28" y="223.25" width="5.18" height="10.65" fill="rgb(253,152,148)" />
<rect x="729.86" y="223.25" width="5.18" height="10.65" fill="rgb(253,152,148)" />
<rect x="734.44" y="223.25" width="5.18" height="10.65" fill="rgb(253,152,148)" />
<rect x="739.02" y="223.25" width="5.18" height="10.65" fill="rgb(255,213,211)" />
<rect x="743.6" y="223.25" width="5.18" height="10.65" fill="rgb(255,213,211)" />
<rect x="748.18" y="223.25" width="5.18" height="10.65" fill="rgb(15,45,245)" />
<rect x="752.76" y="223.25" width="5.18" height="10.65" fill="rgb(140,150,249)" />
<rect x="757.34" y="223.25" width="5.18" height="10.65" fill="rgb(212,214,252)" />
<rect x="761.92" y="223.25" width="5.18" height="10.65" fill="rgb(176,181,251)" />
<rect x="766.5" y="223.25" width="5.18" height="10.65" fill="rgb(176,181,251)" />
<rect x="771.08" y="223.25" width="5.18" height="10.65" fill="rgb(236,237,253)" />
<rect x="452.2" y="233.3" width="5.2" height="10.65" fill="rgb(255,255,255)" />
<rect x="456.8" y="233.3" width="5.2" height="10.65" fill="rgb(255,255,255)" />
<rect x="461.4" y="233.3" width="5.2" height="10.65" fill="rgb(255,255,255)" />
<rect x="466" y="233.3" width="5.2" height="10.65" fill="rgb(255,255,255)" />
<rect x="470.6" y="233.3" width="5.2" height="10.65" fill="rgb(255,255,255)" />
<rect x="475.2" y="233.3" width="5.2" height="10.65" fill="rgb(254,235,234)" />
<rect x="479.8" y="233.3" width="5.2" height="10.65" fill="rgb(254,235,234)" />
<rect x="484.4" y="233.3" width="5.2" height="10.65" fill="rgb(255,213,211)" />
<rect x="489" y="233.3" width="5.2" height="10.65" fill="rgb(254,235,234)" />
<rect x="493.6" y="233.3" width="5.2" height="10.65" fill="rgb(255,213,211)" />
<rect x="498.2" y="233.3" width="5.2" height="10.65" fill="rgb(255,213,211)" />
<rect x="506.2" y="233.3" width="5.19" height="10.65" fill="rgb(255,255,255)" />
<rect x="510.79" y="233.3" width="5.19" height="10.65" fill="rgb(254,235,234)" />
<rect x="515.38" y="233.3" width="5.19" height="10.65" fill="rgb(254,235,234)" />
<rect x="519.97" y="233.3" width="5.19" height="10.65" fill="rgb(255,213,211)" />
<rect x="524.56" y="233.3" width="5.19" height="10.65" fill="rgb(255,213,211)" />
<rect x="529.15" y="233.3" width="5.19" height="10.65" fill="rgb(255,213,211)" />
<rect x="533.74" y="233.3" width="5.19" height="10.65" fill="rgb(255,213,211)" />
<rect x="538.33" y="233.3" width="5.19" height="10.65" fill="rgb(255,255,255)" />
<rect x="542.92" y="233.3" width="5.19" height="10.65" fill="rgb(254,235,234)" />
<rect x="547.51" y="233.3" width="5.19" height="10.65" fill="rgb(254,235,234)" />
<rect x="552.1" y="233.3" width="5.19" height="10.65" fill="rgb(76,96,248)" />
<rect x="556.69" y="233.3" width="5.19" height="10.65" fill="rgb(255,255,255)" />
<rect x="561.28" y="233.3" width="5.19" height="10.65" fill="rgb(254,235,234)" />
<rect x="565.87" y="233.3" width="5.19" height="10.65" fill="rgb(254,235,234)" />
<rect x="570.46" y="233.3" width="5.19" height="10.65" fill="rgb(255,255,255)" />
<rect x="575.05" y="233.3" width="5.19" height="10.65" fill="rgb(255,255,255)" />
<rect x="579.64" y="233.3" width="5.19" height="10.65" fill="rgb(140,150,249)" />
<rect x="584.23" y="233.3" width="5.19" height="10.65" fill="rgb(255,255,255)" />
<rect x="588.82" y="233.3" width="5.19" height="10.65" fill="rgb(254,235,234)" />
<rect x="593.41" y="233.3" width="5.19" height="10.65" fill="rgb(254,235,234)" />
<rect x="598" y="233.3" width="5.19" height="10.65" fill="rgb(255,255,255)" />
<rect x="602.59" y="233.3" width="5.19" height="10.65" fill="rgb(255,255,255)" />
<rect x="607.18" y="233.3" width="5.19" height="10.65" fill="rgb(255,213,211)" />
<rect x="611.77" y="233.3" width="5.19" height="10.65" fill="rgb(255,213,211)" />
<rect x="616.36" y="233.3" width="5.19" height="10.65" fill="rgb(255,213,211)" />
<rect x="620.95" y="233.3" width="5.19" height="10.65" fill="rgb(254,235,234)" />
<rect x="629.1" y="233.3" width="5.18" height="10.65" fill="rgb(255,255,255)" />
<rect x="633.68" y="233.3" width="5.18" height="10.65" fill="rgb(236,237,253)" />
<rect x="638.26" y="233.3" width="5.18" height="10.65" fill="rgb(254,235,234)" />
<rect x="642.84" y="233.3" width="5.18" height="10.65" fill="rgb(254,235,234)" />
<rect x="647.42" y="233.3" width="5.18" height="10.65" fill="rgb(255,255,255)" />
<rect x="652" y="233.3" width="5.18" height="10.65" fill="rgb(255,255,255)" />
<rect x="656.58" y="233.3" width="5.18" height="10.65" fill="rgb(255,255,255)" />
<rect x="661.16" y="233.3" width="5.18" height="10.65" fill="rgb(236,237,253)" />
<rect x="665.74" y="233.3" width="5.18" height="10.65" fill="rgb(254,235,234)" />
<rect x="670.32" y="233.3" width="5.18" height="10.65" fill="rgb(255,255,255)" />
<rect x="674.9" y="233.3" width="5.18" height="10.65" fill="rgb(255,255,255)" />
<rect x="679.48" y="233.3" width="5.18" height="10.65" fill="rgb(255,213,211)" />
<rect x="684.06" y="233.3" width="5.18" height="10.65" fill="rgb(255,213,211)" />
<rect x="688.64" y="233.3" width="5.18" height="10.65" fill="rgb(255,255,255)" />
<rect x="693.22" y="233.3" width="5.18" height="10.65" fill="rgb(253,152,148)" />
<rect x="697.8" y="233.3" width="5.18" height="10.65" fill="rgb(253,152,148)" />
<rect x="702.38" y="233.3" width="5.18" height="10.65" fill="rgb(236,237,253)" />
<rect x="706.96" y="233.3" width="5.18" height="10.65" fill="rgb(255,255,255)" />
<rect x="711.54" y="233.3" width="5.18" height="10.65" fill="rgb(254,235,234)" />
<rect x="716.12" y="233.3" width="5.18" height="10.65" fill="rgb(254,235,234)" />
<rect x="720.7" y="233.3" width="5.18" height="10.65" fill="rgb(255,255,255)" />
<rect x="725.28" y="233.3" width="5.18" height="10.65" fill="rgb(255,255,255)" />
<rect x="729.86" y="233.3" width="5.18" height="10.65" fill="rgb(254,235,234)" />
<rect x="734.44" y="233.3" width="5.18" height="10.65" fill="rgb(255,213,211)" />
<rect x="739.02" y="233.3" width="5.18" height="10.65" fill="rgb(254,235,234)" />
<rect x="743.6" y="233.3" width="5.18" height="10.65" fill="rgb(255,213,211)" />
<rect x="748.18" y="233.3" width="5.18" height="10.65" fill="rgb(140,150,249)" />
<rect x="752.76" y="233.3" width="5.18" height="10.65" fill="rgb(76,96,248)" />
<rect x="757.34" y="233.3" width="5.18" height="10.65" fill="rgb(176,181,251)" />
<rect x="761.92" y="233.3" width="5.18" height="10.65" fill="rgb(176,181,251)" />
<rect x="766.5" y="233.3" width="5.18" height="10.65" fill="rgb(140,150,249)" />
<rect x="771.08" y="233.3" width="5.18" height="10.65" fill="rgb(140,150,249)" />
<rect x="452.2" y="243.35" width="5.2" height="10.65" fill="rgb(255,213,211)" />
<rect x="456.8" y="243.35" width="5.2" height="10.65" fill="rgb(253,152,148)" />
<rect x="461.4" y="243.35" width="5.2" height="10.65" fill="rgb(255,255,255)" />
<rect x="466" y="243.35" width="5.2" height="10.65" fill="rgb(236,237,253)" />
<rect x="470.6" y="243.35" width="5.2" height="10.65" fill="rgb(255,213,211)" />
<rect x="475.2" y="243.35" width="5.2" height="10.65" fill="rgb(255,255,255)" />
<rect x="479.8" y="243.35" width="5.2" height="10.65" fill="rgb(255,186,183)" />
<rect x="484.4" y="243.35" width="5.2" height="10.65" fill="rgb(253,152,148)" />
<rect x="489" y="243.35" width="5.2" height="10.65" fill="rgb(255,186,183)" />
<rect x="493.6" y="243.35" width="5.2" height="10.65" fill="rgb(253,152,148)" />
<rect x="498.2" y="243.35" width="5.2" height="10.65" fill="rgb(255,213,211)" />
<rect x="506.2" y="243.35" width="5.19" height="10.65" fill="rgb(253,152,148)" />
<rect x="510.79" y="243.35" width="5.19" height="10.65" fill="rgb(255,186,183)" />
<rect x="515.38" y="243.35" width="5.19" height="10.65" fill="rgb(255,186,183)" />
<rect x="519.97" y="243.35" width="5.19" height="10.65" fill="rgb(255,186,183)" />
<rect x="524.56" y="243.35" width="5.19" height="10.65" fill="rgb(255,213,211)" />
<rect x="529.15" y="243.35" width="5.19" height="10.65" fill="rgb(255,255,255)" />
<rect x="533.74" y="243.35" width="5.19" height="10.65" fill="rgb(254,235,234)" />
<rect x="538.33" y="243.35" width="5.19" height="10.65" fill="rgb(255,255,255)" />
<rect x="542.92" y="243.35" width="5.19" height="10.65" fill="rgb(255,213,211)" />
<rect x="547.51" y="243.35" width="5.19" height="10.65" fill="rgb(254,235,234)" />
<rect x="552.1" y="243.35" width="5.19" height="10.65" fill="rgb(176,181,251)" />
<rect x="556.69" y="243.35" width="5.19" height="10.65" fill="rgb(254,235,234)" />
<rect x="561.28" y="243.35" width="5.19" height="10.65" fill="rgb(254,235,234)" />
<rect x="565.87" y="243.35" width="5.19" height="10.65" fill="rgb(176,181,251)" />
<rect x="570.46" y="243.35" width="5.19" height="10.65" fill="rgb(255,255,255)" />
<rect x="575.05" y="243.35" width="5.19" height="10.65" fill="rgb(212,214,252)" />
<rect x="579.64" y="243.35" width="5.19" height="10.65" fill="rgb(255,186,183)" />
<rect x="584.23" y="243.35" width="5.19" height="10.65" fill="rgb(254,235,234)" />
<rect x="588.82" y="243.35" width="5.19" height="10.65" fill="rgb(254,235,234)" />
<rect x="593.41" y="243.35" width="5.19" height="10.65" fill="rgb(254,235,234)" />
<rect x="598" y="243.35" width="5.19" height="10.65" fill="rgb(255,255,255)" />
<rect x="602.59" y="243.35" width="5.19" height="10.65" fill="rgb(254,235,234)" />
<rect x="607.18" y="243.35" width="5.19" height="10.65" fill="rgb(255,213,211)" />
<rect x="611.77" y="243.35" width="5.19" height="10.65" fill="rgb(255,186,183)" />
<rect x="616.36" y="243.35" width="5.19" height="10.65" fill="rgb(255,213,211)" />
<rect x="620.95" y="243.35" width="5.19" height="10.65" fill="rgb(254,235,234)" />
<rect x="629.1" y="243.35" width="5.18" height="10.65" fill="rgb(255,255,255)" />
<rect x="633.68" y="243.35" width="5.18" height="10.65" fill="rgb(255,213,211)" />
<rect x="638.26" y="243.35" width="5.18" height="10.65" fill="rgb(254,235,234)" />
<rect x="642.84" y="243.35" width="5.18" height="10.65" fill="rgb(254,235,234)" />
<rect x="647.42" y="243.35" width="5.18" height="10.65" fill="rgb(254,235,234)" />
<rect x="652" y="243.35" width="5.18" height="10.65" fill="rgb(255,255,255)" />
<rect x="656.58" y="243.35" width="5.18" height="10.65" fill="rgb(236,237,253)" />
<rect x="661.16" y="243.35" width="5.18" height="10.65" fill="rgb(254,235,234)" />
<rect x="665.74" y="243.35" width="5.18" height="10.65" fill="rgb(254,235,234)" />
<rect x="670.32" y="243.35" width="5.18" height="10.65" fill="rgb(255,255,255)" />
<rect x="674.9" y="243.35" width="5.18" height="10.65" fill="rgb(255,255,255)" />
<rect x="679.48" y="243.35" width="5.18" height="10.65" fill="rgb(212,214,252)" />
<rect x="684.06" y="243.35" width="5.18" height="10.65" fill="rgb(254,235,234)" />
<rect x="688.64" y="243.35" width="5.18" height="10.65" fill="rgb(255,255,255)" />
<rect x="693.22" y="243.35" width="5.18" height="10.65" fill="rgb(255,213,211)" />
<rect x="697.8" y="243.35" width="5.18" height="10.65" fill="rgb(254,235,234)" />
<rect x="702.38" y="243.35" width="5.18" height="10.65" fill="rgb(254,235,234)" />
<rect x="706.96" y="243.35" width="5.18" height="10.65" fill="rgb(255,213,211)" />
<rect x="711.54" y="243.35" width="5.18" height="10.65" fill="rgb(255,186,183)" />
<rect x="716.12" y="243.35" width="5.18" height="10.65" fill="rgb(255,186,183)" />
<rect x="720.7" y="243.35" width="5.18" height="10.65" fill="rgb(255,213,211)" />
<rect x="725.28" y="243.35" width="5.18" height="10.65" fill="rgb(254,235,234)" />
<rect x="729.86" y="243.35" width="5.18" height="10.65" fill="rgb(254,235,234)" />
<rect x="734.44" y="243.35" width="5.18" height="10.65" fill="rgb(254,235,234)" />
<rect x="739.02" y="243.35" width="5.18" height="10.65" fill="rgb(255,213,211)" />
<rect x="743.6" y="243.35" width="5.18" height="10.65" fill="rgb(255,213,211)" />
<rect x="748.18" y="243.35" width="5.18" height="10.65" fill="rgb(212,214,252)" />
<rect x="752.76" y="243.35" width="5.18" height="10.65" fill="rgb(76,96,248)" />
<rect x="757.34" y="243.35" width="5.18" height="10.65" fill="rgb(176,181,251)" />
<rect x="761.92" y="243.35" width="5.18" height="10.65" fill="rgb(176,181,251)" />
<rect x="766.5" y="243.35" width="5.18" height="10.65" fill="rgb(212,214,252)" />
<rect x="771.08" y="243.35" width="5.18" height="10.65" fill="rgb(236,237,253)" />
<rect x="452.2" y="253.4" width="5.2" height="10.25" fill="rgb(255,213,211)" />
<rect x="456.8" y="253.4" width="5.2" height="10.25" fill="rgb(255,213,211)" />
<rect x="461.4" y="253.4" width="5.2" height="10.25" fill="rgb(140,150,249)" />
<rect x="466" y="253.4" width="5.2" height="10.25" fill="rgb(255,255,255)" />
<rect x="470.6" y="253.4" width="5.2" height="10.25" fill="rgb(254,235,234)" />
<rect x="475.2" y="253.4" width="5.2" height="10.25" fill="rgb(255,213,211)" />
<rect x="479.8" y="253.4" width="5.2" height="10.25" fill="rgb(255,213,211)" />
<rect x="484.4" y="253.4" width="5.2" height="10.25" fill="rgb(236,237,253)" />
<rect x="489" y="253.4" width="5.2" height="10.25" fill="rgb(255,213,211)" />
<rect x="493.6" y="253.4" width="5.2" height="10.25" fill="rgb(255,213,211)" />
<rect x="498.2" y="253.4" width="5.2" height="10.25" fill="rgb(255,213,211)" />
<rect x="506.2" y="253.4" width="5.19" height="10.25" fill="rgb(254,235,234)" />
<rect x="510.79" y="253.4" width="5.19" height="10.25" fill="rgb(254,235,234)" />
<rect x="515.38" y="253.4" width="5.19" height="10.25" fill="rgb(254,235,234)" />
<rect x="519.97" y="253.4" width="5.19" height="10.25" fill="rgb(255,213,211)" />
<rect x="524.56" y="253.4" width="5.19" height="10.25" fill="rgb(254,235,234)" />
<rect x="529.15" y="253.4" width="5.19" height="10.25" fill="rgb(254,235,234)" />
<rect x="533.74" y="253.4" width="5.19" height="10.25" fill="rgb(254,235,234)" />
<rect x="538.33" y="253.4" width="5.19" height="10.25" fill="rgb(255,213,211)" />
<rect x="542.92" y="253.4" width="5.19" height="10.25" fill="rgb(255,255,255)" />
<rect x="547.51" y="253.4" width="5.19" height="10.25" fill="rgb(255,255,255)" />
<rect x="552.1" y="253.4" width="5.19" height="10.25" fill="rgb(236,237,253)" />
<rect x="556.69" y="253.4" width="5.19" height="10.25" fill="rgb(254,235,234)" />
<rect x="561.28" y="253.4" width="5.19" height="10.25" fill="rgb(254,235,234)" />
<rect x="565.87" y="253.4" width="5.19" height="10.25" fill="rgb(254,235,234)" />
<rect x="570.46" y="253.4" width="5.19" height="10.25" fill="rgb(255,255,255)" />
<rect x="575.05" y="253.4" width="5.19" height="10.25" fill="rgb(212,214,252)" />
<rect x="579.64" y="253.4" width="5.19" height="10.25" fill="rgb(254,235,234)" />
<rect x="584.23" y="253.4" width="5.19" height="10.25" fill="rgb(212,214,252)" />
<rect x="588.82" y="253.4" width="5.19" height="10.25" fill="rgb(255,255,255)" />
<rect x="593.41" y="253.4" width="5.19" height="10.25" fill="rgb(254,235,234)" />
<rect x="598" y="253.4" width="5.19" height="10.25" fill="rgb(255,255,255)" />
<rect x="602.59" y="253.4" width="5.19" height="10.25" fill="rgb(254,235,234)" />
<rect x="607.18" y="253.4" width="5.19" height="10.25" fill="rgb(236,237,253)" />
<rect x="611.77" y="253.4" width="5.19" height="10.25" fill="rgb(254,235,234)" />
<rect x="616.36" y="253.4" width="5.19" height="10.25" fill="rgb(254,235,234)" />
<rect x="620.95" y="253.4" width="5.19" height="10.25" fill="rgb(254,235,234)" />
<rect x="629.1" y="253.4" width="5.18" height="10.25" fill="rgb(254,235,234)" />
<rect x="633.68" y="253.4" width="5.18" height="10.25" fill="rgb(236,237,253)" />
<rect x="638.26" y="253.4" width="5.18" height="10.25" fill="rgb(236,237,253)" />
<rect x="642.84" y="253.4" width="5.18" height="10.25" fill="rgb(236,237,253)" />
<rect x="647.42" y="253.4" width="5.18" height="10.25" fill="rgb(255,255,255)" />
<rect x="652" y="253.4" width="5.18" height="10.25" fill="rgb(212,214,252)" />
<rect x="656.58" y="253.4" width="5.18" height="10.25" fill="rgb(255,213,211)" />
<rect x="661.16" y="253.4" width="5.18" height="10.25" fill="rgb(255,213,211)" />
<rect x="665.74" y="253.4" width="5.18" height="10.25" fill="rgb(255,213,211)" />
<rect x="670.32" y="253.4" width="5.18" height="10.25" fill="rgb(255,213,211)" />
<rect x="674.9" y="253.4" width="5.18" height="10.25" fill="rgb(254,235,234)" />
<rect x="679.48" y="253.4" width="5.18" height="10.25" fill="rgb(255,255,255)" />
<rect x="684.06" y="253.4" width="5.18" height="10.25" fill="rgb(254,235,234)" />
<rect x="688.64" y="253.4" width="5.18" height="10.25" fill="rgb(254,235,234)" />
<rect x="693.22" y="253.4" width="5.18" height="10.25" fill="rgb(255,213,211)" />
<rect x="697.8" y="253.4" width="5.18" height="10.25" fill="rgb(255,255,255)" />
<rect x="702.38" y="253.4" width="5.18" height="10.25" fill="rgb(255,213,211)" />
<rect x="706.96" y="253.4" width="5.18" height="10.25" fill="rgb(255,213,211)" />
<rect x="711.54" y="253.4" width="5.18" height="10.25" fill="rgb(255,255,255)" />
<rect x="716.12" y="253.4" width="5.18" height="10.25" fill="rgb(255,213,211)" />
<rect x="720.7" y="253.4" width="5.18" height="10.25" fill="rgb(254,235,234)" />
<rect x="725.28" y="253.4" width="5.18" height="10.25" fill="rgb(255,255,255)" />
<rect x="729.86" y="253.4" width="5.18" height="10.25" fill="rgb(236,237,253)" />
<rect x="734.44" y="253.4" width="5.18" height="10.25" fill="rgb(236,237,253)" />
<rect x="739.02" y="253.4" width="5.18" height="10.25" fill="rgb(255,255,255)" />
<rect x="743.6" y="253.4" width="5.18" height="10.25" fill="rgb(176,181,251)" />
<rect x="748.18" y="253.4" width="5.18" height="10.25" fill="rgb(254,235,234)" />
<rect x="752.76" y="253.4" width="5.18" height="10.25" fill="rgb(255,255,255)" />
<rect x="757.34" y="253.4" width="5.18" height="10.25" fill="rgb(236,237,253)" />
<rect x="761.92" y="253.4" width="5.18" height="10.25" fill="rgb(254,235,234)" />
<rect x="766.5" y="253.4" width="5.18" height="10.25" fill="rgb(254,235,234)" />
<rect x="771.08" y="253.4" width="5.18" height="10.25" fill="rgb(255,255,255)" />
<rect x="452.2" y="263.05" width="5.2" height="10.25" fill="rgb(255,213,211)" />
<rect x="456.8" y="263.05" width="5.2" height="10.25" fill="rgb(255,186,183)" />
<rect x="461.4" y="263.05" width="5.2" height="10.25" fill="rgb(255,186,183)" />
<rect x="466" y="263.05" width="5.2" height="10.25" fill="rgb(255,255,255)" />
<rect x="470.6" y="263.05" width="5.2" height="10.25" fill="rgb(255,213,211)" />
<rect x="475.2" y="263.05" width="5.2" height="10.25" fill="rgb(255,186,183)" />
<rect x="479.8" y="263.05" width="5.2" height="10.25" fill="rgb(254,235,234)" />
<rect x="484.4" y="263.05" width="5.2" height="10.25" fill="rgb(212,214,252)" />
<rect x="489" y="263.05" width="5.2" height="10.25" fill="rgb(255,213,211)" />
<rect x="493.6" y="263.05" width="5.2" height="10.25" fill="rgb(255,213,211)" />
<rect x="498.2" y="263.05" width="5.2" height="10.25" fill="rgb(255,213,211)" />
<rect x="506.2" y="263.05" width="5.19" height="10.25" fill="rgb(254,235,234)" />
<rect x="510.79" y="263.05" width="5.19" height="10.25" fill="rgb(254,235,234)" />
<rect x="515.38" y="263.05" width="5.19" height="10.25" fill="rgb(254,235,234)" />
<rect x="519.97" y="263.05" width="5.19" height="10.25" fill="rgb(255,213,211)" />
<rect x="524.56" y="263.05" width="5.19" height="10.25" fill="rgb(254,235,234)" />
<rect x="529.15" y="263.05" width="5.19" height="10.25" fill="rgb(236,237,253)" />
<rect x="533.74" y="263.05" width="5.19" height="10.25" fill="rgb(254,235,234)" />
<rect x="538.33" y="263.05" width="5.19" height="10.25" fill="rgb(255,213,211)" />
<rect x="542.92" y="263.05" width="5.19" height="10.25" fill="rgb(254,235,234)" />
<rect x="547.51" y="263.05" width="5.19" height="10.25" fill="rgb(255,186,183)" />
<rect x="552.1" y="263.05" width="5.19" height="10.25" fill="rgb(255,255,255)" />
<rect x="556.69" y="263.05" width="5.19" height="10.25" fill="rgb(212,214,252)" />
<rect x="561.28" y="263.05" width="5.19" height="10.25" fill="rgb(254,235,234)" />
<rect x="565.87" y="263.05" width="5.19" height="10.25" fill="rgb(254,235,234)" />
<rect x="570.46" y="263.05" width="5.19" height="10.25" fill="rgb(254,235,234)" />
<rect x="575.05" y="263.05" width="5.19" height="10.25" fill="rgb(176,181,251)" />
<rect x="579.64" y="263.05" width="5.19" height="10.25" fill="rgb(254,235,234)" />
<rect x="584.23" y="263.05" width="5.19" height="10.25" fill="rgb(212,214,252)" />
<rect x="588.82" y="263.05" width="5.19" height="10.25" fill="rgb(255,255,255)" />
<rect x="593.41" y="263.05" width="5.19" height="10.25" fill="rgb(176,181,251)" />
<rect x="598" y="263.05" width="5.19" height="10.25" fill="rgb(255,255,255)" />
<rect x="602.59" y="263.05" width="5.19" height="10.25" fill="rgb(254,235,234)" />
<rect x="607.18" y="263.05" width="5.19" height="10.25" fill="rgb(255,255,255)" />
<rect x="611.77" y="263.05" width="5.19" height="10.25" fill="rgb(212,214,252)" />
<rect x="616.36" y="263.05" width="5.19" height="10.25" fill="rgb(236,237,253)" />
<rect x="620.95" y="263.05" width="5.19" height="10.25" fill="rgb(236,237,253)" />
<rect x="629.1" y="263.05" width="5.18" height="10.25" fill="rgb(255,186,183)" />
<rect x="633.68" y="263.05" width="5.18" height="10.25" fill="rgb(236,237,253)" />
<rect x="638.26" y="263.05" width="5.18" height="10.25" fill="rgb(236,237,253)" />
<rect x="642.84" y="263.05" width="5.18" height="10.25" fill="rgb(236,237,253)" />
<rect x="647.42" y="263.05" width="5.18" height="10.25" fill="rgb(236,237,253)" />
<rect x="652" y="263.05" width="5.18" height="10.25" fill="rgb(176,181,251)" />
<rect x="656.58" y="263.05" width="5.18" height="10.25" fill="rgb(255,255,255)" />
<rect x="661.16" y="263.05" width="5.18" height="10.25" fill="rgb(254,235,234)" />
<rect x="665.74" y="263.05" width="5.18" height="10.25" fill="rgb(255,213,211)" />
<rect x="670.32" y="263.05" width="5.18" height="10.25" fill="rgb(254,235,234)" />
<rect x="674.9" y="263.05" width="5.18" height="10.25" fill="rgb(254,235,234)" />
<rect x="679.48" y="263.05" width="5.18" height="10.25" fill="rgb(254,235,234)" />
<rect x="684.06" y="263.05" width="5.18" height="10.25" fill="rgb(254,235,234)" />
<rect x="688.64" y="263.05" width="5.18" height="10.25" fill="rgb(254,235,234)" />
<rect x="693.22" y="263.05" width="5.18" height="10.25" fill="rgb(254,235,234)" />
<rect x="697.8" y="263.05" width="5.18" height="10.25" fill="rgb(254,235,234)" />
<rect x="702.38" y="263.05" width="5.18" height="10.25" fill="rgb(255,255,255)" />
<rect x="706.96" y="263.05" width="5.18" height="10.25" fill="rgb(254,235,234)" />
<rect x="711.54" y="263.05" width="5.18" height="10.25" fill="rgb(255,255,255)" />
<rect x="716.12" y="263.05" width="5.18" height="10.25" fill="rgb(254,235,234)" />
<rect x="720.7" y="263.05" width="5.18" height="10.25" fill="rgb(254,235,234)" />
<rect x="725.28" y="263.05" width="5.18" height="10.25" fill="rgb(236,237,253)" />
<rect x="729.86" y="263.05" width="5.18" height="10.25" fill="rgb(254,235,234)" />
<rect x="734.44" y="263.05" width="5.18" height="10.25" fill="rgb(176,181,251)" />
<rect x="739.02" y="263.05" width="5.18" height="10.25" fill="rgb(255,255,255)" />
<rect x="743.6" y="263.05" width="5.18" height="10.25" fill="rgb(176,181,251)" />
<rect x="748.18" y="263.05" width="5.18" height="10.25" fill="rgb(176,181,251)" />
<rect x="752.76" y="263.05" width="5.18" height="10.25" fill="rgb(255,213,211)" />
<rect x="757.34" y="263.05" width="5.18" height="10.25" fill="rgb(212,214,252)" />
<rect x="761.92" y="263.05" width="5.18" height="10.25" fill="rgb(255,255,255)" />
<rect x="766.5" y="263.05" width="5.18" height="10.25" fill="rgb(254,235,234)" />
<rect x="771.08" y="263.05" width="5.18" height="10.25" fill="rgb(255,255,255)" />
<rect x="452.2" y="272.7" width="5.2" height="10.25" fill="rgb(254,235,234)" />
<rect x="456.8" y="272.7" width="5.2" height="10.25" fill="rgb(176,181,251)" />
<rect x="461.4" y="272.7" width="5.2" height="10.25" fill="rgb(255,255,255)" />
<rect x="466" y="272.7" width="5.2" height="10.25" fill="rgb(212,214,252)" />
<rect x="470.6" y="272.7" width="5.2" height="10.25" fill="rgb(255,255,255)" />
<rect x="475.2" y="272.7" width="5.2" height="10.25" fill="rgb(255,255,255)" />
<rect x="479.8" y="272.7" width="5.2" height="10.25" fill="rgb(254,235,234)" />
<rect x="484.4" y="272.7" width="5.2" height="10.25" fill="rgb(254,235,234)" />
<rect x="489" y="272.7" width="5.2" height="10.25" fill="rgb(255,213,211)" />
<rect x="493.6" y="272.7" width="5.2" height="10.25" fill="rgb(255,213,211)" />
<rect x="498.2" y="272.7" width="5.2" height="10.25" fill="rgb(254,235,234)" />
<rect x="506.2" y="272.7" width="5.19" height="10.25" fill="rgb(255,255,255)" />
<rect x="510.79" y="272.7" width="5.19" height="10.25" fill="rgb(255,255,255)" />
<rect x="515.38" y="272.7" width="5.19" height="10.25" fill="rgb(236,237,253)" />
<rect x="519.97" y="272.7" width="5.19" height="10.25" fill="rgb(254,235,234)" />
<rect x="524.56" y="272.7" width="5.19" height="10.25" fill="rgb(255,255,255)" />
<rect x="529.15" y="272.7" width="5.19" height="10.25" fill="rgb(254,235,234)" />
<rect x="533.74" y="272.7" width="5.19" height="10.25" fill="rgb(255,255,255)" />
<rect x="538.33" y="272.7" width="5.19" height="10.25" fill="rgb(255,255,255)" />
<rect x="542.92" y="272.7" width="5.19" height="10.25" fill="rgb(255,255,255)" />
<rect x="547.51" y="272.7" width="5.19" height="10.25" fill="rgb(255,255,255)" />
<rect x="552.1" y="272.7" width="5.19" height="10.25" fill="rgb(212,214,252)" />
<rect x="556.69" y="272.7" width="5.19" height="10.25" fill="rgb(254,235,234)" />
<rect x="561.28" y="272.7" width="5.19" height="10.25" fill="rgb(255,255,255)" />
<rect x="565.87" y="272.7" width="5.19" height="10.25" fill="rgb(254,235,234)" />
<rect x="570.46" y="272.7" width="5.19" height="10.25" fill="rgb(255,255,255)" />
<rect x="575.05" y="272.7" width="5.19" height="10.25" fill="rgb(255,255,255)" />
<rect x="579.64" y="272.7" width="5.19" height="10.25" fill="rgb(254,235,234)" />
<rect x="584.23" y="272.7" width="5.19" height="10.25" fill="rgb(254,235,234)" />
<rect x="588.82" y="272.7" width="5.19" height="10.25" fill="rgb(254,235,234)" />
<rect x="593.41" y="272.7" width="5.19" height="10.25" fill="rgb(255,255,255)" />
<rect x="598" y="272.7" width="5.19" height="10.25" fill="rgb(255,255,255)" />
<rect x="602.59" y="272.7" width="5.19" height="10.25" fill="rgb(255,255,255)" />
<rect x="607.18" y="272.7" width="5.19" height="10.25" fill="rgb(236,237,253)" />
<rect x="611.77" y="272.7" width="5.19" height="10.25" fill="rgb(254,235,234)" />
<rect x="616.36" y="272.7" width="5.19" height="10.25" fill="rgb(254,235,234)" />
<rect x="620.95" y="272.7" width="5.19" height="10.25" fill="rgb(254,235,234)" />
<rect x="629.1" y="272.7" width="5.18" height="10.25" fill="rgb(76,96,248)" />
<rect x="633.68" y="272.7" width="5.18" height="10.25" fill="rgb(255,255,255)" />
<rect x="638.26" y="272.7" width="5.18" height="10.25" fill="rgb(255,255,255)" />
<rect x="642.84" y="272.7" width="5.18" height="10.25" fill="rgb(212,214,252)" />
<rect x="647.42" y="272.7" width="5.18" height="10.25" fill="rgb(176,181,251)" />
<rect x="652" y="272.7" width="5.18" height="10.25" fill="rgb(76,96,248)" />
<rect x="656.58" y="272.7" width="5.18" height="10.25" fill="rgb(255,213,211)" />
<rect x="661.16" y="272.7" width="5.18" height="10.25" fill="rgb(254,235,234)" />
<rect x="665.74" y="272.7" width="5.18" height="10.25" fill="rgb(255,213,211)" />
<rect x="670.32" y="272.7" width="5.18" height="10.25" fill="rgb(255,213,211)" />
<rect x="674.9" y="272.7" width="5.18" height="10.25" fill="rgb(255,255,255)" />
<rect x="679.48" y="272.7" width="5.18" height="10.25" fill="rgb(255,255,255)" />
<rect x="684.06" y="272.7" width="5.18" height="10.25" fill="rgb(254,235,234)" />
<rect x="688.64" y="272.7" width="5.18" height="10.25" fill="rgb(236,237,253)" />
<rect x="693.22" y="272.7" width="5.18" height="10.25" fill="rgb(255,255,255)" />
<rect x="697.8" y="272.7" width="5.18" height="10.25" fill="rgb(236,237,253)" />
<rect x="702.38" y="272.7" width="5.18" height="10.25" fill="rgb(255,213,211)" />
<rect x="706.96" y="272.7" width="5.18" height="10.25" fill="rgb(255,213,211)" />
<rect x="711.54" y="272.7" width="5.18" height="10.25" fill="rgb(255,255,255)" />
<rect x="716.12" y="272.7" width="5.18" height="10.25" fill="rgb(236,237,253)" />
<rect x="720.7" y="272.7" width="5.18" height="10.25" fill="rgb(255,255,255)" />
<rect x="725.28" y="272.7" width="5.18" height="10.25" fill="rgb(255,255,255)" />
<rect x="729.86" y="272.7" width="5.18" height="10.25" fill="rgb(212,214,252)" />
<rect x="734.44" y="272.7" width="5.18" height="10.25" fill="rgb(255,255,255)" />
<rect x="739.02" y="272.7" width="5.18" height="10.25" fill="rgb(254,235,234)" />
<rect x="743.6" y="272.7" width="5.18" height="10.25" fill="rgb(212,214,252)" />
<rect x="748.18" y="272.7" width="5.18" height="10.25" fill="rgb(212,214,252)" />
<rect x="752.76" y="272.7" width="5.18" height="10.25" fill="rgb(255,255,255)" />
<rect x="757.34" y="272.7" width="5.18" height="10.25" fill="rgb(212,214,252)" />
<rect x="761.92" y="272.7" width="5.18" height="10.25" fill="rgb(254,235,234)" />
<rect x="766.5" y="272.7" width="5.18" height="10.25" fill="rgb(255,255,255)" />
<rect x="771.08" y="272.7" width="5.18" height="10.25" fill="rgb(236,237,253)" />
<rect x="452.2" y="282.35" width="5.2" height="10.25" fill="rgb(254,235,234)" />
<rect x="456.8" y="282.35" width="5.2" height="10.25" fill="rgb(254,235,234)" />
<rect x="461.4" y="282.35" width="5.2" height="10.25" fill="rgb(255,255,255)" />
<rect x="466" y="282.35" width="5.2" height="10.25" fill="rgb(212,214,252)" />
<rect x="470.6" y="282.35" width="5.2" height="10.25" fill="rgb(255,255,255)" />
<rect x="475.2" y="282.35" width="5.2" height="10.25" fill="rgb(254,235,234)" />
<rect x="479.8" y="282.35" width="5.2" height="10.25" fill="rgb(254,235,234)" />
<rect x="484.4" y="282.35" width="5.2" height="10.25" fill="rgb(255,213,211)" />
<rect x="489" y="282.35" width="5.2" height="10.25" fill="rgb(255,213,211)" />
<rect x="493.6" y="282.35" width="5.2" height="10.25" fill="rgb(255,213,211)" />
<rect x="498.2" y="282.35" width="5.2" height="10.25" fill="rgb(254,235,234)" />
<rect x="506.2" y="282.35" width="5.19" height="10.25" fill="rgb(254,235,234)" />
<rect x="510.79" y="282.35" width="5.19" height="10.25" fill="rgb(254,235,234)" />
<rect x="515.38" y="282.35" width="5.19" height="10.25" fill="rgb(255,213,211)" />
<rect x="519.97" y="282.35" width="5.19" height="10.25" fill="rgb(254,235,234)" />
<rect x="524.56" y="282.35" width="5.19" height="10.25" fill="rgb(254,235,234)" />
<rect x="529.15" y="282.35" width="5.19" height="10.25" fill="rgb(255,255,255)" />
<rect x="533.74" y="282.35" width="5.19" height="10.25" fill="rgb(254,235,234)" />
<rect x="538.33" y="282.35" width="5.19" height="10.25" fill="rgb(255,255,255)" />
<rect x="542.92" y="282.35" width="5.19" height="10.25" fill="rgb(212,214,252)" />
<rect x="547.51" y="282.35" width="5.19" height="10.25" fill="rgb(254,235,234)" />
<rect x="552.1" y="282.35" width="5.19" height="10.25" fill="rgb(255,255,255)" />
<rect x="556.69" y="282.35" width="5.19" height="10.25" fill="rgb(254,235,234)" />
<rect x="561.28" y="282.35" width="5.19" height="10.25" fill="rgb(255,255,255)" />
<rect x="565.87" y="282.35" width="5.19" height="10.25" fill="rgb(255,255,255)" />
<rect x="570.46" y="282.35" width="5.19" height="10.25" fill="rgb(255,255,255)" />
<rect x="575.05" y="282.35" width="5.19" height="10.25" fill="rgb(255,255,255)" />
<rect x="579.64" y="282.35" width="5.19" height="10.25" fill="rgb(255,213,211)" />
<rect x="584.23" y="282.35" width="5.19" height="10.25" fill="rgb(255,255,255)" />
<rect x="588.82" y="282.35" width="5.19" height="10.25" fill="rgb(255,255,255)" />
<rect x="593.41" y="282.35" width="5.19" height="10.25" fill="rgb(255,255,255)" />
<rect x="598" y="282.35" width="5.19" height="10.25" fill="rgb(255,255,255)" />
<rect x="602.59" y="282.35" width="5.19" height="10.25" fill="rgb(255,255,255)" />
<rect x="607.18" y="282.35" width="5.19" height="10.25" fill="rgb(176,181,251)" />
<rect x="611.77" y="282.35" width="5.19" height="10.25" fill="rgb(255,255,255)" />
<rect x="616.36" y="282.35" width="5.19" height="10.25" fill="rgb(255,255,255)" />
<rect x="620.95" y="282.35" width="5.19" height="10.25" fill="rgb(255,255,255)" />
<rect x="629.1" y="282.35" width="5.18" height="10.25" fill="rgb(212,214,252)" />
<rect x="633.68" y="282.35" width="5.18" height="10.25" fill="rgb(255,255,255)" />
<rect x="638.26" y="282.35" width="5.18" height="10.25" fill="rgb(254,235,234)" />
<rect x="642.84" y="282.35" width="5.18" height="10.25" fill="rgb(255,255,255)" />
<rect x="647.42" y="282.35" width="5.18" height="10.25" fill="rgb(255,255,255)" />
<rect x="652" y="282.35" width="5.18" height="10.25" fill="rgb(236,237,253)" />
<rect x="656.58" y="282.35" width="5.18" height="10.25" fill="rgb(255,255,255)" />
<rect x="661.16" y="282.35" width="5.18" height="10.25" fill="rgb(255,255,255)" />
<rect x="665.74" y="282.35" width="5.18" height="10.25" fill="rgb(255,255,255)" />
<rect x="670.32" y="282.35" width="5.18" height="10.25" fill="rgb(255,255,255)" />
<rect x="674.9" y="282.35" width="5.18" height="10.25" fill="rgb(255,255,255)" />
<rect x="679.48" y="282.35" width="5.18" height="10.25" fill="rgb(236,237,253)" />
<rect x="684.06" y="282.35" width="5.18" height="10.25" fill="rgb(254,235,234)" />
<rect x="688.64" y="282.35" width="5.18" height="10.25" fill="rgb(254,235,234)" />
<rect x="693.22" y="282.35" width="5.18" height="10.25" fill="rgb(254,235,234)" />
<rect x="697.8" y="282.35" width="5.18" height="10.25" fill="rgb(254,235,234)" />
<rect x="702.38" y="282.35" width="5.18" height="10.25" fill="rgb(254,235,234)" />
<rect x="706.96" y="282.35" width="5.18" height="10.25" fill="rgb(212,214,252)" />
<rect x="711.54" y="282.35" width="5.18" height="10.25" fill="rgb(254,235,234)" />
<rect x="716.12" y="282.35" width="5.18" height="10.25" fill="rgb(255,255,255)" />
<rect x="720.7" y="282.35" width="5.18" height="10.25" fill="rgb(254,235,234)" />
<rect x="725.28" y="282.35" width="5.18" height="10.25" fill="rgb(255,255,255)" />
<rect x="729.86" y="282.35" width="5.18" height="10.25" fill="rgb(255,255,255)" />
<rect x="734.44" y="282.35" width="5.18" height="10.25" fill="rgb(254,235,234)" />
<rect x="739.02" y="282.35" width="5.18" height="10.25" fill="rgb(255,255,255)" />
<rect x="743.6" y="282.35" width="5.18" height="10.25" fill="rgb(236,237,253)" />
<rect x="748.18" y="282.35" width="5.18" height="10.25" fill="rgb(255,255,255)" />
<rect x="752.76" y="282.35" width="5.18" height="10.25" fill="rgb(254,235,234)" />
<rect x="757.34" y="282.35" width="5.18" height="10.25" fill="rgb(255,255,255)" />
<rect x="761.92" y="282.35" width="5.18" height="10.25" fill="rgb(255,255,255)" />
<rect x="766.5" y="282.35" width="5.18" height="10.25" fill="rgb(254,235,234)" />
<rect x="771.08" y="282.35" width="5.18" height="10.25" fill="rgb(255,255,255)" />
<path d="M466.45 213.75L470.15 222.7M470.15 213.75L466.45 222.7" stroke="#1a1a1a" stroke-width="0.95" fill="none"/>
<path d="M466.45 223.8L470.15 232.75M470.15 223.8L466.45 232.75" stroke="#1a1a1a" stroke-width="0.95" fill="none"/>
<path d="M471.05 233.85L474.75 242.8M474.75 233.85L471.05 242.8" stroke="#1a1a1a" stroke-width="0.95" fill="none"/>
<path d="M506.65 233.85L510.34 242.8M510.34 233.85L506.65 242.8" stroke="#1a1a1a" stroke-width="0.95" fill="none"/>
<path d="M538.78 233.85L542.47 242.8M542.47 233.85L538.78 242.8" stroke="#1a1a1a" stroke-width="0.95" fill="none"/>
<path d="M575.5 233.85L579.19 242.8M579.19 233.85L575.5 242.8" stroke="#1a1a1a" stroke-width="0.95" fill="none"/>
<path d="M603.04 233.85L606.73 242.8M606.73 233.85L603.04 242.8" stroke="#1a1a1a" stroke-width="0.95" fill="none"/>
<path d="M689.09 233.85L692.77 242.8M692.77 233.85L689.09 242.8" stroke="#1a1a1a" stroke-width="0.95" fill="none"/>
<path d="M707.41 233.85L711.09 242.8M711.09 233.85L707.41 242.8" stroke="#1a1a1a" stroke-width="0.95" fill="none"/>
<path d="M721.15 233.85L724.83 242.8M724.83 233.85L721.15 242.8" stroke="#1a1a1a" stroke-width="0.95" fill="none"/>
<path d="M538.78 243.9L542.47 252.85M542.47 243.9L538.78 252.85" stroke="#1a1a1a" stroke-width="0.95" fill="none"/>
<path d="M466.45 253.95L470.15 262.5M470.15 253.95L466.45 262.5" stroke="#1a1a1a" stroke-width="0.95" fill="none"/>
<path d="M466.45 263.6L470.15 272.15M470.15 263.6L466.45 272.15" stroke="#1a1a1a" stroke-width="0.95" fill="none"/>
<path d="M471.05 273.25L474.75 281.8M474.75 273.25L471.05 281.8" stroke="#1a1a1a" stroke-width="0.95" fill="none"/>
<path d="M506.65 273.25L510.34 281.8M510.34 273.25L506.65 281.8" stroke="#1a1a1a" stroke-width="0.95" fill="none"/>
<path d="M538.78 273.25L542.47 281.8M542.47 273.25L538.78 281.8" stroke="#1a1a1a" stroke-width="0.95" fill="none"/>
<path d="M575.5 273.25L579.19 281.8M579.19 273.25L575.5 281.8" stroke="#1a1a1a" stroke-width="0.95" fill="none"/>
<path d="M603.04 273.25L606.73 281.8M606.73 273.25L603.04 281.8" stroke="#1a1a1a" stroke-width="0.95" fill="none"/>
<path d="M679.93 273.25L683.61 281.8M683.61 273.25L679.93 281.8" stroke="#1a1a1a" stroke-width="0.95" fill="none"/>
<path d="M693.67 273.25L697.35 281.8M697.35 273.25L693.67 281.8" stroke="#1a1a1a" stroke-width="0.95" fill="none"/>
<path d="M711.99 273.25L715.67 281.8M715.67 273.25L711.99 281.8" stroke="#1a1a1a" stroke-width="0.95" fill="none"/>
<path d="M538.78 282.9L542.47 291.45M542.47 282.9L538.78 291.45" stroke="#1a1a1a" stroke-width="0.95" fill="none"/>
<line x1="451.35" y1="203.5" x2="776.25" y2="203.5" stroke="#111" stroke-width="1.3" />
<line x1="451.35" y1="213.2" x2="776.25" y2="213.2" stroke="#111" stroke-width="1.3" />
<line x1="451.35" y1="253.4" x2="776.25" y2="253.4" stroke="#111" stroke-width="1.3" />
<line x1="451.35" y1="292" x2="776.25" y2="292" stroke="#111" stroke-width="1.3" />
<line x1="452" y1="203.5" x2="452" y2="292" stroke="#111" stroke-width="1.3" />
<line x1="504.2" y1="203.5" x2="504.2" y2="292" stroke="#111" stroke-width="1.3" />
<line x1="627.4" y1="203.5" x2="627.4" y2="292" stroke="#111" stroke-width="1.3" />
<line x1="775.6" y1="203.5" x2="775.6" y2="292" stroke="#111" stroke-width="1.3" />
<line x1="454.5" y1="200.9" x2="454.5" y2="203.5" stroke="#000" stroke-width="0.8" />
<line x1="459.1" y1="200.9" x2="459.1" y2="203.5" stroke="#000" stroke-width="0.8" />
<line x1="463.7" y1="200.9" x2="463.7" y2="203.5" stroke="#000" stroke-width="0.8" />
<line x1="468.3" y1="200.9" x2="468.3" y2="203.5" stroke="#000" stroke-width="0.8" />
<line x1="472.9" y1="200.9" x2="472.9" y2="203.5" stroke="#000" stroke-width="0.8" />
<line x1="477.5" y1="200.9" x2="477.5" y2="203.5" stroke="#000" stroke-width="0.8" />
<line x1="482.1" y1="200.9" x2="482.1" y2="203.5" stroke="#000" stroke-width="0.8" />
<line x1="486.7" y1="200.9" x2="486.7" y2="203.5" stroke="#000" stroke-width="0.8" />
<line x1="491.3" y1="200.9" x2="491.3" y2="203.5" stroke="#000" stroke-width="0.8" />
<line x1="495.9" y1="200.9" x2="495.9" y2="203.5" stroke="#000" stroke-width="0.8" />
<line x1="500.5" y1="200.9" x2="500.5" y2="203.5" stroke="#000" stroke-width="0.8" />
<line x1="508.5" y1="200.9" x2="508.5" y2="203.5" stroke="#000" stroke-width="0.8" />
<line x1="513.09" y1="200.9" x2="513.09" y2="203.5" stroke="#000" stroke-width="0.8" />
<line x1="517.67" y1="200.9" x2="517.67" y2="203.5" stroke="#000" stroke-width="0.8" />
<line x1="522.26" y1="200.9" x2="522.26" y2="203.5" stroke="#000" stroke-width="0.8" />
<line x1="526.86" y1="200.9" x2="526.86" y2="203.5" stroke="#000" stroke-width="0.8" />
<line x1="531.44" y1="200.9" x2="531.44" y2="203.5" stroke="#000" stroke-width="0.8" />
<line x1="536.03" y1="200.9" x2="536.03" y2="203.5" stroke="#000" stroke-width="0.8" />
<line x1="540.62" y1="200.9" x2="540.62" y2="203.5" stroke="#000" stroke-width="0.8" />
<line x1="545.22" y1="200.9" x2="545.22" y2="203.5" stroke="#000" stroke-width="0.8" />
<line x1="549.8" y1="200.9" x2="549.8" y2="203.5" stroke="#000" stroke-width="0.8" />
<line x1="554.39" y1="200.9" x2="554.39" y2="203.5" stroke="#000" stroke-width="0.8" />
<line x1="558.99" y1="200.9" x2="558.99" y2="203.5" stroke="#000" stroke-width="0.8" />
<line x1="563.58" y1="200.9" x2="563.58" y2="203.5" stroke="#000" stroke-width="0.8" />
<line x1="568.16" y1="200.9" x2="568.16" y2="203.5" stroke="#000" stroke-width="0.8" />
<line x1="572.75" y1="200.9" x2="572.75" y2="203.5" stroke="#000" stroke-width="0.8" />
<line x1="577.35" y1="200.9" x2="577.35" y2="203.5" stroke="#000" stroke-width="0.8" />
<line x1="581.93" y1="200.9" x2="581.93" y2="203.5" stroke="#000" stroke-width="0.8" />
<line x1="586.52" y1="200.9" x2="586.52" y2="203.5" stroke="#000" stroke-width="0.8" />
<line x1="591.12" y1="200.9" x2="591.12" y2="203.5" stroke="#000" stroke-width="0.8" />
<line x1="595.7" y1="200.9" x2="595.7" y2="203.5" stroke="#000" stroke-width="0.8" />
<line x1="600.29" y1="200.9" x2="600.29" y2="203.5" stroke="#000" stroke-width="0.8" />
<line x1="604.88" y1="200.9" x2="604.88" y2="203.5" stroke="#000" stroke-width="0.8" />
<line x1="609.48" y1="200.9" x2="609.48" y2="203.5" stroke="#000" stroke-width="0.8" />
<line x1="614.06" y1="200.9" x2="614.06" y2="203.5" stroke="#000" stroke-width="0.8" />
<line x1="618.65" y1="200.9" x2="618.65" y2="203.5" stroke="#000" stroke-width="0.8" />
<line x1="623.25" y1="200.9" x2="623.25" y2="203.5" stroke="#000" stroke-width="0.8" />
<line x1="631.39" y1="200.9" x2="631.39" y2="203.5" stroke="#000" stroke-width="0.8" />
<line x1="635.97" y1="200.9" x2="635.97" y2="203.5" stroke="#000" stroke-width="0.8" />
<line x1="640.55" y1="200.9" x2="640.55" y2="203.5" stroke="#000" stroke-width="0.8" />
<line x1="645.13" y1="200.9" x2="645.13" y2="203.5" stroke="#000" stroke-width="0.8" />
<line x1="649.71" y1="200.9" x2="649.71" y2="203.5" stroke="#000" stroke-width="0.8" />
<line x1="654.29" y1="200.9" x2="654.29" y2="203.5" stroke="#000" stroke-width="0.8" />
<line x1="658.87" y1="200.9" x2="658.87" y2="203.5" stroke="#000" stroke-width="0.8" />
<line x1="663.45" y1="200.9" x2="663.45" y2="203.5" stroke="#000" stroke-width="0.8" />
<line x1="668.03" y1="200.9" x2="668.03" y2="203.5" stroke="#000" stroke-width="0.8" />
<line x1="672.61" y1="200.9" x2="672.61" y2="203.5" stroke="#000" stroke-width="0.8" />
<line x1="677.19" y1="200.9" x2="677.19" y2="203.5" stroke="#000" stroke-width="0.8" />
<line x1="681.77" y1="200.9" x2="681.77" y2="203.5" stroke="#000" stroke-width="0.8" />
<line x1="686.35" y1="200.9" x2="686.35" y2="203.5" stroke="#000" stroke-width="0.8" />
<line x1="690.93" y1="200.9" x2="690.93" y2="203.5" stroke="#000" stroke-width="0.8" />
<line x1="695.51" y1="200.9" x2="695.51" y2="203.5" stroke="#000" stroke-width="0.8" />
<line x1="700.09" y1="200.9" x2="700.09" y2="203.5" stroke="#000" stroke-width="0.8" />
<line x1="704.67" y1="200.9" x2="704.67" y2="203.5" stroke="#000" stroke-width="0.8" />
<line x1="709.25" y1="200.9" x2="709.25" y2="203.5" stroke="#000" stroke-width="0.8" />
<line x1="713.83" y1="200.9" x2="713.83" y2="203.5" stroke="#000" stroke-width="0.8" />
<line x1="718.41" y1="200.9" x2="718.41" y2="203.5" stroke="#000" stroke-width="0.8" />
<line x1="722.99" y1="200.9" x2="722.99" y2="203.5" stroke="#000" stroke-width="0.8" />
<line x1="727.57" y1="200.9" x2="727.57" y2="203.5" stroke="#000" stroke-width="0.8" />
<line x1="732.15" y1="200.9" x2="732.15" y2="203.5" stroke="#000" stroke-width="0.8" />
<line x1="736.73" y1="200.9" x2="736.73" y2="203.5" stroke="#000" stroke-width="0.8" />
<line x1="741.31" y1="200.9" x2="741.31" y2="203.5" stroke="#000" stroke-width="0.8" />
<line x1="745.89" y1="200.9" x2="745.89" y2="203.5" stroke="#000" stroke-width="0.8" />
<line x1="750.47" y1="200.9" x2="750.47" y2="203.5" stroke="#000" stroke-width="0.8" />
<line x1="755.05" y1="200.9" x2="755.05" y2="203.5" stroke="#000" stroke-width="0.8" />
<line x1="759.63" y1="200.9" x2="759.63" y2="203.5" stroke="#000" stroke-width="0.8" />
<line x1="764.21" y1="200.9" x2="764.21" y2="203.5" stroke="#000" stroke-width="0.8" />
<line x1="768.79" y1="200.9" x2="768.79" y2="203.5" stroke="#000" stroke-width="0.8" />
<line x1="773.37" y1="200.9" x2="773.37" y2="203.5" stroke="#000" stroke-width="0.8" />
<text x="441.5" y="207.5" font-size="4.25" font-weight="bold" text-anchor="middle" fill="#000" stroke="#000" stroke-width="0.14">Tiaki</text>
<text x="441.5" y="211.2" font-size="3.8" font-weight="bold" text-anchor="middle" fill="#000" stroke="#000" stroke-width="0.14">Bulk</text>
<text x="441.5" y="217.2" font-size="4.25" font-weight="bold" text-anchor="middle" fill="#000" stroke="#000" stroke-width="0.14">ALS</text>
<text x="441.5" y="220.9" font-size="3.8" font-weight="bold" text-anchor="middle" fill="#000" stroke="#000" stroke-width="0.14">(MCL)</text>
<text x="441.5" y="227.25" font-size="4.25" font-weight="bold" text-anchor="middle" fill="#000" stroke="#000" stroke-width="0.14">ALS</text>
<text x="441.5" y="230.95" font-size="3.8" font-weight="bold" text-anchor="middle" fill="#000" stroke="#000" stroke-width="0.14">(MCM)</text>
<text x="441.5" y="237.3" font-size="4.25" font-weight="bold" text-anchor="middle" fill="#000" stroke="#000" stroke-width="0.14">FTD</text>
<text x="441.5" y="241" font-size="3.8" font-weight="bold" text-anchor="middle" fill="#000" stroke="#000" stroke-width="0.14">(GRN)</text>
<text x="441.5" y="247.35" font-size="4.25" font-weight="bold" text-anchor="middle" fill="#000" stroke="#000" stroke-width="0.14">HD</text>
<text x="441.5" y="251.05" font-size="3.8" font-weight="bold" text-anchor="middle" fill="#000" stroke="#000" stroke-width="0.14">(CN)</text>
<text x="441.5" y="257.4" font-size="4.25" font-weight="bold" text-anchor="middle" fill="#000" stroke="#000" stroke-width="0.14">ALS</text>
<text x="441.5" y="261.1" font-size="3.8" font-weight="bold" text-anchor="middle" fill="#000" stroke="#000" stroke-width="0.14">(MCL)</text>
<text x="441.5" y="267.05" font-size="4.25" font-weight="bold" text-anchor="middle" fill="#000" stroke="#000" stroke-width="0.14">ALS</text>
<text x="441.5" y="270.75" font-size="3.8" font-weight="bold" text-anchor="middle" fill="#000" stroke="#000" stroke-width="0.14">(MCM)</text>
<text x="441.5" y="276.7" font-size="4.25" font-weight="bold" text-anchor="middle" fill="#000" stroke="#000" stroke-width="0.14">FTD</text>
<text x="441.5" y="280.4" font-size="3.8" font-weight="bold" text-anchor="middle" fill="#000" stroke="#000" stroke-width="0.14">(Sporadic)</text>
<text x="441.5" y="286.35" font-size="4.25" font-weight="bold" text-anchor="middle" fill="#000" stroke="#000" stroke-width="0.14">HD</text>
<text x="441.5" y="290.05" font-size="3.8" font-weight="bold" text-anchor="middle" fill="#000" stroke="#000" stroke-width="0.14">(BA9)</text>
<text transform="translate(455,200.6) rotate(-45)" font-size="4.1" font-weight="bold" stroke="#000" stroke-width="0.12">Lcn2</text>
<text transform="translate(459.6,200.6) rotate(-45)" font-size="4.1" font-weight="bold" stroke="#000" stroke-width="0.12">Steap4</text>
<text transform="translate(464.2,200.6) rotate(-45)" font-size="4.1" font-weight="bold" stroke="#000" stroke-width="0.12">S1pr3</text>
<text transform="translate(468.8,200.6) rotate(-45)" font-size="4.1" font-weight="bold" stroke="#000" stroke-width="0.12">Timp1</text>
<text transform="translate(473.4,200.6) rotate(-45)" font-size="4.1" font-weight="bold" stroke="#000" stroke-width="0.12">Hspb1</text>
<text transform="translate(478,200.6) rotate(-45)" font-size="4.1" font-weight="bold" stroke="#000" stroke-width="0.12">Cxcl10</text>
<text transform="translate(482.6,200.6) rotate(-45)" font-size="4.1" font-weight="bold" stroke="#000" stroke-width="0.12">Cd44</text>
<text transform="translate(487.2,200.6) rotate(-45)" font-size="4.1" font-weight="bold" stroke="#000" stroke-width="0.12">Osmr</text>
<text transform="translate(491.8,200.6) rotate(-45)" font-size="4.1" font-weight="bold" stroke="#000" stroke-width="0.12">Cp</text>
<text transform="translate(496.4,200.6) rotate(-45)" font-size="4.1" font-weight="bold" stroke="#000" stroke-width="0.12">Aspg</text>
<text transform="translate(501,200.6) rotate(-45)" font-size="4.1" font-weight="bold" stroke="#000" stroke-width="0.12">Vim</text>
<text transform="translate(509,200.6) rotate(-45)" font-size="4.1" font-weight="bold" stroke="#000" stroke-width="0.12">C3</text>
<text transform="translate(513.59,200.6) rotate(-45)" font-size="4.1" font-weight="bold" stroke="#000" stroke-width="0.12">H2-T23</text>
<text transform="translate(518.17,200.6) rotate(-45)" font-size="4.1" font-weight="bold" stroke="#000" stroke-width="0.12">Srgn</text>
<text transform="translate(522.76,200.6) rotate(-45)" font-size="4.1" font-weight="bold" stroke="#000" stroke-width="0.12">H2-D1</text>
<text transform="translate(527.36,200.6) rotate(-45)" font-size="4.1" font-weight="bold" stroke="#000" stroke-width="0.12">Ggta1</text>
<text transform="translate(531.94,200.6) rotate(-45)" font-size="4.1" font-weight="bold" stroke="#000" stroke-width="0.12">Iigp1</text>
<text transform="translate(536.53,200.6) rotate(-45)" font-size="4.1" font-weight="bold" stroke="#000" stroke-width="0.12">Gbp2</text>
<text transform="translate(541.12,200.6) rotate(-45)" font-size="4.1" font-weight="bold" stroke="#000" stroke-width="0.12">Fbln5</text>
<text transform="translate(545.72,200.6) rotate(-45)" font-size="4.1" font-weight="bold" stroke="#000" stroke-width="0.12">Ugt1a</text>
<text transform="translate(550.3,200.6) rotate(-45)" font-size="4.1" font-weight="bold" stroke="#000" stroke-width="0.12">Fkbp5</text>
<text transform="translate(554.89,200.6) rotate(-45)" font-size="4.1" font-weight="bold" stroke="#000" stroke-width="0.12">Psmb8</text>
<text transform="translate(559.49,200.6) rotate(-45)" font-size="4.1" font-weight="bold" stroke="#000" stroke-width="0.12">Srgn</text>
<text transform="translate(564.08,200.6) rotate(-45)" font-size="4.1" font-weight="bold" stroke="#000" stroke-width="0.12">Amigo2</text>
<text transform="translate(568.66,200.6) rotate(-45)" font-size="4.1" font-weight="bold" stroke="#000" stroke-width="0.12">C1s</text>
<text transform="translate(573.25,200.6) rotate(-45)" font-size="4.1" font-weight="bold" stroke="#000" stroke-width="0.12">C4b</text>
<text transform="translate(577.85,200.6) rotate(-45)" font-size="4.1" font-weight="bold" stroke="#000" stroke-width="0.12">C1r</text>
<text transform="translate(582.43,200.6) rotate(-45)" font-size="4.1" font-weight="bold" stroke="#000" stroke-width="0.12">Mx1</text>
<text transform="translate(587.02,200.6) rotate(-45)" font-size="4.1" font-weight="bold" stroke="#000" stroke-width="0.12">Rtp4</text>
<text transform="translate(591.62,200.6) rotate(-45)" font-size="4.1" font-weight="bold" stroke="#000" stroke-width="0.12">Igtp</text>
<text transform="translate(596.2,200.6) rotate(-45)" font-size="4.1" font-weight="bold" stroke="#000" stroke-width="0.12">Irgm1</text>
<text transform="translate(600.79,200.6) rotate(-45)" font-size="4.1" font-weight="bold" stroke="#000" stroke-width="0.12">Stat1</text>
<text transform="translate(605.38,200.6) rotate(-45)" font-size="4.1" font-weight="bold" stroke="#000" stroke-width="0.12">Tap1</text>
<text transform="translate(609.98,200.6) rotate(-45)" font-size="4.1" font-weight="bold" stroke="#000" stroke-width="0.12">Ifit1</text>
<text transform="translate(614.56,200.6) rotate(-45)" font-size="4.1" font-weight="bold" stroke="#000" stroke-width="0.12">Ifit3</text>
<text transform="translate(619.15,200.6) rotate(-45)" font-size="4.1" font-weight="bold" stroke="#000" stroke-width="0.12">Cxcl1</text>
<text transform="translate(623.75,200.6) rotate(-45)" font-size="4.1" font-weight="bold" stroke="#000" stroke-width="0.12">Gfap</text>
<text transform="translate(631.89,200.6) rotate(-45)" font-size="4.1" font-weight="bold" stroke="#000" stroke-width="0.12">Clcf1</text>
<text transform="translate(636.47,200.6) rotate(-45)" font-size="4.1" font-weight="bold" stroke="#000" stroke-width="0.12">Tgm1</text>
<text transform="translate(641.05,200.6) rotate(-45)" font-size="4.1" font-weight="bold" stroke="#000" stroke-width="0.12">Ptx3</text>
<text transform="translate(645.63,200.6) rotate(-45)" font-size="4.1" font-weight="bold" stroke="#000" stroke-width="0.12">S100a10</text>
<text transform="translate(650.21,200.6) rotate(-45)" font-size="4.1" font-weight="bold" stroke="#000" stroke-width="0.12">Sphk1</text>
<text transform="translate(654.79,200.6) rotate(-45)" font-size="4.1" font-weight="bold" stroke="#000" stroke-width="0.12">Cd109</text>
<text transform="translate(659.37,200.6) rotate(-45)" font-size="4.1" font-weight="bold" stroke="#000" stroke-width="0.12">Ptgs2</text>
<text transform="translate(663.95,200.6) rotate(-45)" font-size="4.1" font-weight="bold" stroke="#000" stroke-width="0.12">Emp1</text>
<text transform="translate(668.53,200.6) rotate(-45)" font-size="4.1" font-weight="bold" stroke="#000" stroke-width="0.12">Slc10a6</text>
<text transform="translate(673.11,200.6) rotate(-45)" font-size="4.1" font-weight="bold" stroke="#000" stroke-width="0.12">Tm4sf1</text>
<text transform="translate(677.69,200.6) rotate(-45)" font-size="4.1" font-weight="bold" stroke="#000" stroke-width="0.12">B3gnt5</text>
<text transform="translate(682.27,200.6) rotate(-45)" font-size="4.1" font-weight="bold" stroke="#000" stroke-width="0.12">Cd14</text>
<text transform="translate(686.85,200.6) rotate(-45)" font-size="4.1" font-weight="bold" stroke="#000" stroke-width="0.12">Stat3</text>
<text transform="translate(691.43,200.6) rotate(-45)" font-size="4.1" font-weight="bold" stroke="#000" stroke-width="0.12">Vim</text>
<text transform="translate(696.01,200.6) rotate(-45)" font-size="4.1" font-weight="bold" stroke="#000" stroke-width="0.12">Nes</text>
<text transform="translate(700.59,200.6) rotate(-45)" font-size="4.1" font-weight="bold" stroke="#000" stroke-width="0.12">Lgals3</text>
<text transform="translate(705.17,200.6) rotate(-45)" font-size="4.1" font-weight="bold" stroke="#000" stroke-width="0.12">Cryab</text>
<text transform="translate(709.75,200.6) rotate(-45)" font-size="4.1" font-weight="bold" stroke="#000" stroke-width="0.12">Hspb8</text>
<text transform="translate(714.33,200.6) rotate(-45)" font-size="4.1" font-weight="bold" stroke="#000" stroke-width="0.12">Mt2</text>
<text transform="translate(718.91,200.6) rotate(-45)" font-size="4.1" font-weight="bold" stroke="#000" stroke-width="0.12">Mt1</text>
<text transform="translate(723.49,200.6) rotate(-45)" font-size="4.1" font-weight="bold" stroke="#000" stroke-width="0.12">Tnc</text>
<text transform="translate(728.07,200.6) rotate(-45)" font-size="4.1" font-weight="bold" stroke="#000" stroke-width="0.12">Thbs1</text>
<text transform="translate(732.65,200.6) rotate(-45)" font-size="4.1" font-weight="bold" stroke="#000" stroke-width="0.12">Sox9</text>
<text transform="translate(737.23,200.6) rotate(-45)" font-size="4.1" font-weight="bold" stroke="#000" stroke-width="0.12">Id3</text>
<text transform="translate(741.81,200.6) rotate(-45)" font-size="4.1" font-weight="bold" stroke="#000" stroke-width="0.12">Aqp4</text>
<text transform="translate(746.39,200.6) rotate(-45)" font-size="4.1" font-weight="bold" stroke="#000" stroke-width="0.12">Kcnj10</text>
<text transform="translate(750.97,200.6) rotate(-45)" font-size="4.1" font-weight="bold" stroke="#000" stroke-width="0.12">Slc1a3</text>
<text transform="translate(755.55,200.6) rotate(-45)" font-size="4.1" font-weight="bold" stroke="#000" stroke-width="0.12">Glul</text>
<text transform="translate(760.13,200.6) rotate(-45)" font-size="4.1" font-weight="bold" stroke="#000" stroke-width="0.12">Aldh1l1</text>
<text transform="translate(764.71,200.6) rotate(-45)" font-size="4.1" font-weight="bold" stroke="#000" stroke-width="0.12">Id1</text>
<text transform="translate(769.29,200.6) rotate(-45)" font-size="4.1" font-weight="bold" stroke="#000" stroke-width="0.12">Nrf2</text>
<text transform="translate(773.87,200.6) rotate(-45)" font-size="4.1" font-weight="bold" stroke="#000" stroke-width="0.12">Tgfb1</text>
<text x="420" y="176.8" font-size="19.8" font-weight="bold" text-anchor="start" fill="#000" >C</text>
<text x="616.2" y="175.6" font-size="12.45" font-weight="bold" text-anchor="middle" fill="#000" >Astrocyte Activation Genes</text>
<text x="479.6" y="185.3" font-size="6.35" font-weight="bold" text-anchor="middle" fill="#000" >Pan-activation</text>
<text x="557.2" y="185.3" font-size="6.35" font-weight="bold" text-anchor="middle" fill="#000" >A1</text>
<text x="700" y="185.3" font-size="6.35" font-weight="bold" text-anchor="middle" fill="#000" >A2</text>
<rect x="451.6" y="297" width="120.8" height="8.6" fill="url(#gC)" stroke="#222" stroke-width="1"/>
<line x1="461.8" y1="297" x2="461.8" y2="298.6" stroke="#222" stroke-width="0.8" />
<line x1="461.8" y1="304" x2="461.8" y2="305.6" stroke="#222" stroke-width="0.8" />
<text x="461.8" y="313.8" font-size="6.6" font-weight="normal" text-anchor="middle" fill="#000" >-3</text>
<line x1="496.3" y1="297" x2="496.3" y2="298.6" stroke="#222" stroke-width="0.8" />
<line x1="496.3" y1="304" x2="496.3" y2="305.6" stroke="#222" stroke-width="0.8" />
<text x="496.3" y="313.8" font-size="6.6" font-weight="normal" text-anchor="middle" fill="#000" >0</text>
<line x1="530.8" y1="297" x2="530.8" y2="298.6" stroke="#222" stroke-width="0.8" />
<line x1="530.8" y1="304" x2="530.8" y2="305.6" stroke="#222" stroke-width="0.8" />
<text x="530.8" y="313.8" font-size="6.6" font-weight="normal" text-anchor="middle" fill="#000" >3</text>
<line x1="565.3" y1="297" x2="565.3" y2="298.6" stroke="#222" stroke-width="0.8" />
<line x1="565.3" y1="304" x2="565.3" y2="305.6" stroke="#222" stroke-width="0.8" />
<text x="565.3" y="313.8" font-size="6.6" font-weight="normal" text-anchor="middle" fill="#000" >6</text>
<text x="581" y="303.6" font-size="7.45" font-weight="bold" text-anchor="start" fill="#000" >Scaled Log<tspan font-size="4.9" dy="1.7">2</tspan><tspan dy="-1.7">[Fold Change]</tspan></text>
<rect x="451.6" y="359.8" width="6.48" height="10.8" fill="rgb(140,150,249)" />
<rect x="457.48" y="359.8" width="6.48" height="10.8" fill="rgb(236,237,253)" />
<rect x="463.36" y="359.8" width="6.48" height="10.8" fill="rgb(176,181,251)" />
<rect x="469.24" y="359.8" width="6.48" height="10.8" fill="rgb(212,214,252)" />
<rect x="475.12" y="359.8" width="6.48" height="10.8" fill="rgb(255,255,255)" />
<rect x="481" y="359.8" width="6.48" height="10.8" fill="rgb(236,237,253)" />
<rect x="486.88" y="359.8" width="6.48" height="10.8" fill="rgb(212,214,252)" />
<rect x="496.4" y="359.8" width="6.48" height="10.8" fill="rgb(140,150,249)" />
<rect x="502.28" y="359.8" width="6.48" height="10.8" fill="rgb(140,150,249)" />
<rect x="511.6" y="359.8" width="6.48" height="10.8" fill="rgb(140,150,249)" />
<rect x="517.48" y="359.8" width="6.48" height="10.8" fill="rgb(176,181,251)" />
<rect x="523.36" y="359.8" width="6.48" height="10.8" fill="rgb(212,214,252)" />
<rect x="529.24" y="359.8" width="6.48" height="10.8" fill="rgb(176,181,251)" />
<rect x="535.12" y="359.8" width="6.48" height="10.8" fill="rgb(236,237,253)" />
<rect x="541" y="359.8" width="6.48" height="10.8" fill="rgb(140,150,249)" />
<rect x="546.88" y="359.8" width="6.48" height="10.8" fill="rgb(212,214,252)" />
<rect x="552.76" y="359.8" width="6.48" height="10.8" fill="rgb(236,237,253)" />
<rect x="558.64" y="359.8" width="6.48" height="10.8" fill="rgb(212,214,252)" />
<rect x="564.52" y="359.8" width="6.48" height="10.8" fill="rgb(212,214,252)" />
<rect x="570.4" y="359.8" width="6.48" height="10.8" fill="rgb(212,214,252)" />
<rect x="576.28" y="359.8" width="6.48" height="10.8" fill="rgb(76,96,248)" />
<rect x="582.16" y="359.8" width="6.48" height="10.8" fill="rgb(236,237,253)" />
<rect x="591.6" y="359.8" width="6.48" height="10.8" fill="rgb(236,237,253)" />
<rect x="597.48" y="359.8" width="6.48" height="10.8" fill="rgb(236,237,253)" />
<rect x="603.36" y="359.8" width="6.48" height="10.8" fill="rgb(255,255,255)" />
<rect x="609.24" y="359.8" width="6.48" height="10.8" fill="rgb(254,235,234)" />
<rect x="615.12" y="359.8" width="6.48" height="10.8" fill="rgb(176,181,251)" />
<rect x="621" y="359.8" width="6.48" height="10.8" fill="rgb(176,181,251)" />
<rect x="626.88" y="359.8" width="6.48" height="10.8" fill="rgb(212,214,252)" />
<rect x="632.76" y="359.8" width="6.48" height="10.8" fill="rgb(76,96,248)" />
<rect x="638.64" y="359.8" width="6.48" height="10.8" fill="rgb(236,237,253)" />
<rect x="644.52" y="359.8" width="6.48" height="10.8" fill="rgb(254,235,234)" />
<rect x="650.4" y="359.8" width="6.48" height="10.8" fill="rgb(176,181,251)" />
<rect x="656.28" y="359.8" width="6.48" height="10.8" fill="rgb(176,181,251)" />
<rect x="662.16" y="359.8" width="6.48" height="10.8" fill="rgb(76,96,248)" />
<rect x="668.04" y="359.8" width="6.48" height="10.8" fill="rgb(236,237,253)" />
<rect x="673.92" y="359.8" width="6.48" height="10.8" fill="rgb(236,237,253)" />
<rect x="679.8" y="359.8" width="6.48" height="10.8" fill="rgb(236,237,253)" />
<rect x="685.68" y="359.8" width="6.48" height="10.8" fill="rgb(236,237,253)" />
<rect x="691.56" y="359.8" width="6.48" height="10.8" fill="rgb(255,255,255)" />
<rect x="697.44" y="359.8" width="6.48" height="10.8" fill="rgb(255,255,255)" />
<rect x="703.32" y="359.8" width="6.48" height="10.8" fill="rgb(255,213,211)" />
<rect x="709.2" y="359.8" width="6.48" height="10.8" fill="rgb(254,235,234)" />
<rect x="715.08" y="359.8" width="6.48" height="10.8" fill="rgb(236,237,253)" />
<rect x="724.4" y="359.8" width="6.46" height="10.8" fill="rgb(140,150,249)" />
<rect x="730.26" y="359.8" width="6.46" height="10.8" fill="rgb(176,181,251)" />
<rect x="736.12" y="359.8" width="6.46" height="10.8" fill="rgb(176,181,251)" />
<rect x="741.98" y="359.8" width="6.46" height="10.8" fill="rgb(242,38,15)" />
<rect x="747.84" y="359.8" width="6.46" height="10.8" fill="rgb(140,150,249)" />
<rect x="753.7" y="359.8" width="6.46" height="10.8" fill="rgb(255,255,255)" />
<rect x="759.56" y="359.8" width="6.46" height="10.8" fill="rgb(140,150,249)" />
<rect x="765.42" y="359.8" width="6.46" height="10.8" fill="rgb(140,150,249)" />
<rect x="451.6" y="370" width="6.48" height="10.35" fill="rgb(176,181,251)" />
<rect x="457.48" y="370" width="6.48" height="10.35" fill="rgb(176,181,251)" />
<rect x="463.36" y="370" width="6.48" height="10.35" fill="rgb(176,181,251)" />
<rect x="469.24" y="370" width="6.48" height="10.35" fill="rgb(140,150,249)" />
<rect x="475.12" y="370" width="6.48" height="10.35" fill="rgb(236,237,253)" />
<rect x="481" y="370" width="6.48" height="10.35" fill="rgb(140,150,249)" />
<rect x="486.88" y="370" width="6.48" height="10.35" fill="rgb(140,150,249)" />
<rect x="496.4" y="370" width="6.48" height="10.35" fill="rgb(212,214,252)" />
<rect x="502.28" y="370" width="6.48" height="10.35" fill="rgb(176,181,251)" />
<rect x="511.6" y="370" width="6.48" height="10.35" fill="rgb(140,150,249)" />
<rect x="517.48" y="370" width="6.48" height="10.35" fill="rgb(212,214,252)" />
<rect x="523.36" y="370" width="6.48" height="10.35" fill="rgb(176,181,251)" />
<rect x="529.24" y="370" width="6.48" height="10.35" fill="rgb(176,181,251)" />
<rect x="535.12" y="370" width="6.48" height="10.35" fill="rgb(212,214,252)" />
<rect x="541" y="370" width="6.48" height="10.35" fill="rgb(236,237,253)" />
<rect x="546.88" y="370" width="6.48" height="10.35" fill="rgb(176,181,251)" />
<rect x="552.76" y="370" width="6.48" height="10.35" fill="rgb(176,181,251)" />
<rect x="558.64" y="370" width="6.48" height="10.35" fill="rgb(254,235,234)" />
<rect x="564.52" y="370" width="6.48" height="10.35" fill="rgb(140,150,249)" />
<rect x="570.4" y="370" width="6.48" height="10.35" fill="rgb(212,214,252)" />
<rect x="576.28" y="370" width="6.48" height="10.35" fill="rgb(140,150,249)" />
<rect x="582.16" y="370" width="6.48" height="10.35" fill="rgb(255,255,255)" />
<rect x="591.6" y="370" width="6.48" height="10.35" fill="rgb(212,214,252)" />
<rect x="597.48" y="370" width="6.48" height="10.35" fill="rgb(212,214,252)" />
<rect x="603.36" y="370" width="6.48" height="10.35" fill="rgb(212,214,252)" />
<rect x="609.24" y="370" width="6.48" height="10.35" fill="rgb(212,214,252)" />
<rect x="615.12" y="370" width="6.48" height="10.35" fill="rgb(140,150,249)" />
<rect x="621" y="370" width="6.48" height="10.35" fill="rgb(176,181,251)" />
<rect x="626.88" y="370" width="6.48" height="10.35" fill="rgb(176,181,251)" />
<rect x="632.76" y="370" width="6.48" height="10.35" fill="rgb(254,235,234)" />
<rect x="638.64" y="370" width="6.48" height="10.35" fill="rgb(212,214,252)" />
<rect x="644.52" y="370" width="6.48" height="10.35" fill="rgb(176,181,251)" />
<rect x="650.4" y="370" width="6.48" height="10.35" fill="rgb(176,181,251)" />
<rect x="656.28" y="370" width="6.48" height="10.35" fill="rgb(212,214,252)" />
<rect x="662.16" y="370" width="6.48" height="10.35" fill="rgb(255,213,211)" />
<rect x="668.04" y="370" width="6.48" height="10.35" fill="rgb(212,214,252)" />
<rect x="673.92" y="370" width="6.48" height="10.35" fill="rgb(212,214,252)" />
<rect x="679.8" y="370" width="6.48" height="10.35" fill="rgb(212,214,252)" />
<rect x="685.68" y="370" width="6.48" height="10.35" fill="rgb(212,214,252)" />
<rect x="691.56" y="370" width="6.48" height="10.35" fill="rgb(212,214,252)" />
<rect x="697.44" y="370" width="6.48" height="10.35" fill="rgb(212,214,252)" />
<rect x="703.32" y="370" width="6.48" height="10.35" fill="rgb(236,237,253)" />
<rect x="709.2" y="370" width="6.48" height="10.35" fill="rgb(254,235,234)" />
<rect x="715.08" y="370" width="6.48" height="10.35" fill="rgb(236,237,253)" />
<rect x="724.4" y="370" width="6.46" height="10.35" fill="rgb(212,214,252)" />
<rect x="730.26" y="370" width="6.46" height="10.35" fill="rgb(176,181,251)" />
<rect x="736.12" y="370" width="6.46" height="10.35" fill="rgb(176,181,251)" />
<rect x="741.98" y="370" width="6.46" height="10.35" fill="rgb(255,255,255)" />
<rect x="747.84" y="370" width="6.46" height="10.35" fill="rgb(212,214,252)" />
<rect x="753.7" y="370" width="6.46" height="10.35" fill="rgb(212,214,252)" />
<rect x="759.56" y="370" width="6.46" height="10.35" fill="rgb(176,181,251)" />
<rect x="765.42" y="370" width="6.46" height="10.35" fill="rgb(212,214,252)" />
<rect x="451.6" y="379.75" width="6.48" height="10.35" fill="rgb(212,214,252)" />
<rect x="457.48" y="379.75" width="6.48" height="10.35" fill="rgb(236,237,253)" />
<rect x="463.36" y="379.75" width="6.48" height="10.35" fill="rgb(212,214,252)" />
<rect x="469.24" y="379.75" width="6.48" height="10.35" fill="rgb(176,181,251)" />
<rect x="475.12" y="379.75" width="6.48" height="10.35" fill="rgb(255,255,255)" />
<rect x="481" y="379.75" width="6.48" height="10.35" fill="rgb(176,181,251)" />
<rect x="486.88" y="379.75" width="6.48" height="10.35" fill="rgb(176,181,251)" />
<rect x="496.4" y="379.75" width="6.48" height="10.35" fill="rgb(255,255,255)" />
<rect x="502.28" y="379.75" width="6.48" height="10.35" fill="rgb(212,214,252)" />
<rect x="511.6" y="379.75" width="6.48" height="10.35" fill="rgb(140,150,249)" />
<rect x="517.48" y="379.75" width="6.48" height="10.35" fill="rgb(236,237,253)" />
<rect x="523.36" y="379.75" width="6.48" height="10.35" fill="rgb(176,181,251)" />
<rect x="529.24" y="379.75" width="6.48" height="10.35" fill="rgb(176,181,251)" />
<rect x="535.12" y="379.75" width="6.48" height="10.35" fill="rgb(236,237,253)" />
<rect x="541" y="379.75" width="6.48" height="10.35" fill="rgb(236,237,253)" />
<rect x="546.88" y="379.75" width="6.48" height="10.35" fill="rgb(176,181,251)" />
<rect x="552.76" y="379.75" width="6.48" height="10.35" fill="rgb(212,214,252)" />
<rect x="558.64" y="379.75" width="6.48" height="10.35" fill="rgb(254,235,234)" />
<rect x="564.52" y="379.75" width="6.48" height="10.35" fill="rgb(140,150,249)" />
<rect x="570.4" y="379.75" width="6.48" height="10.35" fill="rgb(212,214,252)" />
<rect x="576.28" y="379.75" width="6.48" height="10.35" fill="rgb(176,181,251)" />
<rect x="582.16" y="379.75" width="6.48" height="10.35" fill="rgb(176,181,251)" />
<rect x="591.6" y="379.75" width="6.48" height="10.35" fill="rgb(212,214,252)" />
<rect x="597.48" y="379.75" width="6.48" height="10.35" fill="rgb(236,237,253)" />
<rect x="603.36" y="379.75" width="6.48" height="10.35" fill="rgb(236,237,253)" />
<rect x="609.24" y="379.75" width="6.48" height="10.35" fill="rgb(212,214,252)" />
<rect x="615.12" y="379.75" width="6.48" height="10.35" fill="rgb(176,181,251)" />
<rect x="621" y="379.75" width="6.48" height="10.35" fill="rgb(176,181,251)" />
<rect x="626.88" y="379.75" width="6.48" height="10.35" fill="rgb(176,181,251)" />
<rect x="632.76" y="379.75" width="6.48" height="10.35" fill="rgb(254,235,234)" />
<rect x="638.64" y="379.75" width="6.48" height="10.35" fill="rgb(176,181,251)" />
<rect x="644.52" y="379.75" width="6.48" height="10.35" fill="rgb(212,214,252)" />
<rect x="650.4" y="379.75" width="6.48" height="10.35" fill="rgb(212,214,252)" />
<rect x="656.28" y="379.75" width="6.48" height="10.35" fill="rgb(140,150,249)" />
<rect x="662.16" y="379.75" width="6.48" height="10.35" fill="rgb(255,186,183)" />
<rect x="668.04" y="379.75" width="6.48" height="10.35" fill="rgb(176,181,251)" />
<rect x="673.92" y="379.75" width="6.48" height="10.35" fill="rgb(212,214,252)" />
<rect x="679.8" y="379.75" width="6.48" height="10.35" fill="rgb(176,181,251)" />
<rect x="685.68" y="379.75" width="6.48" height="10.35" fill="rgb(236,237,253)" />
<rect x="691.56" y="379.75" width="6.48" height="10.35" fill="rgb(212,214,252)" />
<rect x="697.44" y="379.75" width="6.48" height="10.35" fill="rgb(236,237,253)" />
<rect x="703.32" y="379.75" width="6.48" height="10.35" fill="rgb(236,237,253)" />
<rect x="709.2" y="379.75" width="6.48" height="10.35" fill="rgb(255,255,255)" />
<rect x="715.08" y="379.75" width="6.48" height="10.35" fill="rgb(236,237,253)" />
<rect x="724.4" y="379.75" width="6.46" height="10.35" fill="rgb(176,181,251)" />
<rect x="730.26" y="379.75" width="6.46" height="10.35" fill="rgb(176,181,251)" />
<rect x="736.12" y="379.75" width="6.46" height="10.35" fill="rgb(140,150,249)" />
<rect x="741.98" y="379.75" width="6.46" height="10.35" fill="rgb(255,255,255)" />
<rect x="747.84" y="379.75" width="6.46" height="10.35" fill="rgb(176,181,251)" />
<rect x="753.7" y="379.75" width="6.46" height="10.35" fill="rgb(176,181,251)" />
<rect x="759.56" y="379.75" width="6.46" height="10.35" fill="rgb(176,181,251)" />
<rect x="765.42" y="379.75" width="6.46" height="10.35" fill="rgb(176,181,251)" />
<rect x="451.6" y="389.5" width="6.48" height="10.35" fill="rgb(255,255,255)" />
<rect x="457.48" y="389.5" width="6.48" height="10.35" fill="rgb(255,255,255)" />
<rect x="463.36" y="389.5" width="6.48" height="10.35" fill="rgb(140,150,249)" />
<rect x="469.24" y="389.5" width="6.48" height="10.35" fill="rgb(255,255,255)" />
<rect x="475.12" y="389.5" width="6.48" height="10.35" fill="rgb(255,255,255)" />
<rect x="481" y="389.5" width="6.48" height="10.35" fill="rgb(255,255,255)" />
<rect x="486.88" y="389.5" width="6.48" height="10.35" fill="rgb(254,235,234)" />
<rect x="496.4" y="389.5" width="6.48" height="10.35" fill="rgb(212,214,252)" />
<rect x="502.28" y="389.5" width="6.48" height="10.35" fill="rgb(254,235,234)" />
<rect x="511.6" y="389.5" width="6.48" height="10.35" fill="rgb(76,96,248)" />
<rect x="517.48" y="389.5" width="6.48" height="10.35" fill="rgb(212,214,252)" />
<rect x="523.36" y="389.5" width="6.48" height="10.35" fill="rgb(212,214,252)" />
<rect x="529.24" y="389.5" width="6.48" height="10.35" fill="rgb(212,214,252)" />
<rect x="535.12" y="389.5" width="6.48" height="10.35" fill="rgb(212,214,252)" />
<rect x="541" y="389.5" width="6.48" height="10.35" fill="rgb(236,237,253)" />
<rect x="546.88" y="389.5" width="6.48" height="10.35" fill="rgb(236,237,253)" />
<rect x="552.76" y="389.5" width="6.48" height="10.35" fill="rgb(140,150,249)" />
<rect x="558.64" y="389.5" width="6.48" height="10.35" fill="rgb(255,255,255)" />
<rect x="564.52" y="389.5" width="6.48" height="10.35" fill="rgb(76,96,248)" />
<rect x="570.4" y="389.5" width="6.48" height="10.35" fill="rgb(255,255,255)" />
<rect x="576.28" y="389.5" width="6.48" height="10.35" fill="rgb(212,214,252)" />
<rect x="582.16" y="389.5" width="6.48" height="10.35" fill="rgb(254,235,234)" />
<rect x="591.6" y="389.5" width="6.48" height="10.35" fill="rgb(212,214,252)" />
<rect x="597.48" y="389.5" width="6.48" height="10.35" fill="rgb(176,181,251)" />
<rect x="603.36" y="389.5" width="6.48" height="10.35" fill="rgb(176,181,251)" />
<rect x="609.24" y="389.5" width="6.48" height="10.35" fill="rgb(255,255,255)" />
<rect x="615.12" y="389.5" width="6.48" height="10.35" fill="rgb(176,181,251)" />
<rect x="621" y="389.5" width="6.48" height="10.35" fill="rgb(140,150,249)" />
<rect x="626.88" y="389.5" width="6.48" height="10.35" fill="rgb(255,255,255)" />
<rect x="632.76" y="389.5" width="6.48" height="10.35" fill="rgb(255,213,211)" />
<rect x="638.64" y="389.5" width="6.48" height="10.35" fill="rgb(236,237,253)" />
<rect x="644.52" y="389.5" width="6.48" height="10.35" fill="rgb(255,255,255)" />
<rect x="650.4" y="389.5" width="6.48" height="10.35" fill="rgb(236,237,253)" />
<rect x="656.28" y="389.5" width="6.48" height="10.35" fill="rgb(236,237,253)" />
<rect x="662.16" y="389.5" width="6.48" height="10.35" fill="rgb(236,237,253)" />
<rect x="668.04" y="389.5" width="6.48" height="10.35" fill="rgb(254,235,234)" />
<rect x="673.92" y="389.5" width="6.48" height="10.35" fill="rgb(140,150,249)" />
<rect x="679.8" y="389.5" width="6.48" height="10.35" fill="rgb(255,255,255)" />
<rect x="685.68" y="389.5" width="6.48" height="10.35" fill="rgb(255,255,255)" />
<rect x="691.56" y="389.5" width="6.48" height="10.35" fill="rgb(236,237,253)" />
<rect x="697.44" y="389.5" width="6.48" height="10.35" fill="rgb(212,214,252)" />
<rect x="703.32" y="389.5" width="6.48" height="10.35" fill="rgb(255,255,255)" />
<rect x="709.2" y="389.5" width="6.48" height="10.35" fill="rgb(255,255,255)" />
<rect x="715.08" y="389.5" width="6.48" height="10.35" fill="rgb(236,237,253)" />
<rect x="724.4" y="389.5" width="6.46" height="10.35" fill="rgb(255,255,255)" />
<rect x="730.26" y="389.5" width="6.46" height="10.35" fill="rgb(255,255,255)" />
<rect x="736.12" y="389.5" width="6.46" height="10.35" fill="rgb(140,150,249)" />
<rect x="741.98" y="389.5" width="6.46" height="10.35" fill="rgb(254,235,234)" />
<rect x="747.84" y="389.5" width="6.46" height="10.35" fill="rgb(212,214,252)" />
<rect x="753.7" y="389.5" width="6.46" height="10.35" fill="rgb(254,235,234)" />
<rect x="759.56" y="389.5" width="6.46" height="10.35" fill="rgb(236,237,253)" />
<rect x="765.42" y="389.5" width="6.46" height="10.35" fill="rgb(255,255,255)" />
<rect x="451.6" y="399.25" width="6.48" height="10.35" fill="rgb(76,96,248)" />
<rect x="457.48" y="399.25" width="6.48" height="10.35" fill="rgb(236,237,253)" />
<rect x="463.36" y="399.25" width="6.48" height="10.35" fill="rgb(140,150,249)" />
<rect x="469.24" y="399.25" width="6.48" height="10.35" fill="rgb(212,214,252)" />
<rect x="475.12" y="399.25" width="6.48" height="10.35" fill="rgb(255,255,255)" />
<rect x="481" y="399.25" width="6.48" height="10.35" fill="rgb(255,255,255)" />
<rect x="486.88" y="399.25" width="6.48" height="10.35" fill="rgb(236,237,253)" />
<rect x="496.4" y="399.25" width="6.48" height="10.35" fill="rgb(15,45,245)" />
<rect x="502.28" y="399.25" width="6.48" height="10.35" fill="rgb(176,181,251)" />
<rect x="511.6" y="399.25" width="6.48" height="10.35" fill="rgb(140,150,249)" />
<rect x="517.48" y="399.25" width="6.48" height="10.35" fill="rgb(212,214,252)" />
<rect x="523.36" y="399.25" width="6.48" height="10.35" fill="rgb(255,255,255)" />
<rect x="529.24" y="399.25" width="6.48" height="10.35" fill="rgb(140,150,249)" />
<rect x="535.12" y="399.25" width="6.48" height="10.35" fill="rgb(76,96,248)" />
<rect x="541" y="399.25" width="6.48" height="10.35" fill="rgb(254,235,234)" />
<rect x="546.88" y="399.25" width="6.48" height="10.35" fill="rgb(176,181,251)" />
<rect x="552.76" y="399.25" width="6.48" height="10.35" fill="rgb(140,150,249)" />
<rect x="558.64" y="399.25" width="6.48" height="10.35" fill="rgb(242,38,15)" />
<rect x="564.52" y="399.25" width="6.48" height="10.35" fill="rgb(140,150,249)" />
<rect x="570.4" y="399.25" width="6.48" height="10.35" fill="rgb(236,237,253)" />
<rect x="576.28" y="399.25" width="6.48" height="10.35" fill="rgb(176,181,251)" />
<rect x="582.16" y="399.25" width="6.48" height="10.35" fill="rgb(255,255,255)" />
<rect x="591.6" y="399.25" width="6.48" height="10.35" fill="rgb(212,214,252)" />
<rect x="597.48" y="399.25" width="6.48" height="10.35" fill="rgb(176,181,251)" />
<rect x="603.36" y="399.25" width="6.48" height="10.35" fill="rgb(176,181,251)" />
<rect x="609.24" y="399.25" width="6.48" height="10.35" fill="rgb(255,255,255)" />
<rect x="615.12" y="399.25" width="6.48" height="10.35" fill="rgb(140,150,249)" />
<rect x="621" y="399.25" width="6.48" height="10.35" fill="rgb(140,150,249)" />
<rect x="626.88" y="399.25" width="6.48" height="10.35" fill="rgb(236,237,253)" />
<rect x="632.76" y="399.25" width="6.48" height="10.35" fill="rgb(254,235,234)" />
<rect x="638.64" y="399.25" width="6.48" height="10.35" fill="rgb(255,255,255)" />
<rect x="644.52" y="399.25" width="6.48" height="10.35" fill="rgb(236,237,253)" />
<rect x="650.4" y="399.25" width="6.48" height="10.35" fill="rgb(212,214,252)" />
<rect x="656.28" y="399.25" width="6.48" height="10.35" fill="rgb(255,255,255)" />
<rect x="662.16" y="399.25" width="6.48" height="10.35" fill="rgb(212,214,252)" />
<rect x="668.04" y="399.25" width="6.48" height="10.35" fill="rgb(236,237,253)" />
<rect x="673.92" y="399.25" width="6.48" height="10.35" fill="rgb(140,150,249)" />
<rect x="679.8" y="399.25" width="6.48" height="10.35" fill="rgb(236,237,253)" />
<rect x="685.68" y="399.25" width="6.48" height="10.35" fill="rgb(236,237,253)" />
<rect x="691.56" y="399.25" width="6.48" height="10.35" fill="rgb(255,255,255)" />
<rect x="697.44" y="399.25" width="6.48" height="10.35" fill="rgb(236,237,253)" />
<rect x="703.32" y="399.25" width="6.48" height="10.35" fill="rgb(255,255,255)" />
<rect x="709.2" y="399.25" width="6.48" height="10.35" fill="rgb(255,255,255)" />
<rect x="715.08" y="399.25" width="6.48" height="10.35" fill="rgb(236,237,253)" />
<rect x="724.4" y="399.25" width="6.46" height="10.35" fill="rgb(255,255,255)" />
<rect x="730.26" y="399.25" width="6.46" height="10.35" fill="rgb(255,255,255)" />
<rect x="736.12" y="399.25" width="6.46" height="10.35" fill="rgb(236,237,253)" />
<rect x="741.98" y="399.25" width="6.46" height="10.35" fill="rgb(255,255,255)" />
<rect x="747.84" y="399.25" width="6.46" height="10.35" fill="rgb(15,45,245)" />
<rect x="753.7" y="399.25" width="6.46" height="10.35" fill="rgb(255,255,255)" />
<rect x="759.56" y="399.25" width="6.46" height="10.35" fill="rgb(236,237,253)" />
<rect x="765.42" y="399.25" width="6.46" height="10.35" fill="rgb(255,255,255)" />
<rect x="451.6" y="409" width="6.48" height="10.15" fill="rgb(255,255,255)" />
<rect x="457.48" y="409" width="6.48" height="10.15" fill="rgb(255,255,255)" />
<rect x="463.36" y="409" width="6.48" height="10.15" fill="rgb(255,255,255)" />
<rect x="469.24" y="409" width="6.48" height="10.15" fill="rgb(236,237,253)" />
<rect x="475.12" y="409" width="6.48" height="10.15" fill="rgb(236,237,253)" />
<rect x="481" y="409" width="6.48" height="10.15" fill="rgb(236,237,253)" />
<rect x="486.88" y="409" width="6.48" height="10.15" fill="rgb(236,237,253)" />
<rect x="496.4" y="409" width="6.48" height="10.15" fill="rgb(255,255,255)" />
<rect x="502.28" y="409" width="6.48" height="10.15" fill="rgb(236,237,253)" />
<rect x="511.6" y="409" width="6.48" height="10.15" fill="rgb(254,235,234)" />
<rect x="517.48" y="409" width="6.48" height="10.15" fill="rgb(254,235,234)" />
<rect x="523.36" y="409" width="6.48" height="10.15" fill="rgb(254,235,234)" />
<rect x="529.24" y="409" width="6.48" height="10.15" fill="rgb(254,235,234)" />
<rect x="535.12" y="409" width="6.48" height="10.15" fill="rgb(255,255,255)" />
<rect x="541" y="409" width="6.48" height="10.15" fill="rgb(254,235,234)" />
<rect x="546.88" y="409" width="6.48" height="10.15" fill="rgb(254,235,234)" />
<rect x="552.76" y="409" width="6.48" height="10.15" fill="rgb(255,255,255)" />
<rect x="558.64" y="409" width="6.48" height="10.15" fill="rgb(255,213,211)" />
<rect x="564.52" y="409" width="6.48" height="10.15" fill="rgb(254,235,234)" />
<rect x="570.4" y="409" width="6.48" height="10.15" fill="rgb(236,237,253)" />
<rect x="576.28" y="409" width="6.48" height="10.15" fill="rgb(255,255,255)" />
<rect x="582.16" y="409" width="6.48" height="10.15" fill="rgb(254,235,234)" />
<rect x="591.6" y="409" width="6.48" height="10.15" fill="rgb(255,255,255)" />
<rect x="597.48" y="409" width="6.48" height="10.15" fill="rgb(254,235,234)" />
<rect x="603.36" y="409" width="6.48" height="10.15" fill="rgb(255,255,255)" />
<rect x="609.24" y="409" width="6.48" height="10.15" fill="rgb(255,255,255)" />
<rect x="615.12" y="409" width="6.48" height="10.15" fill="rgb(255,255,255)" />
<rect x="621" y="409" width="6.48" height="10.15" fill="rgb(255,255,255)" />
<rect x="626.88" y="409" width="6.48" height="10.15" fill="rgb(255,255,255)" />
<rect x="632.76" y="409" width="6.48" height="10.15" fill="rgb(254,235,234)" />
<rect x="638.64" y="409" width="6.48" height="10.15" fill="rgb(254,235,234)" />
<rect x="644.52" y="409" width="6.48" height="10.15" fill="rgb(254,235,234)" />
<rect x="650.4" y="409" width="6.48" height="10.15" fill="rgb(254,235,234)" />
<rect x="656.28" y="409" width="6.48" height="10.15" fill="rgb(236,237,253)" />
<rect x="662.16" y="409" width="6.48" height="10.15" fill="rgb(255,255,255)" />
<rect x="668.04" y="409" width="6.48" height="10.15" fill="rgb(236,237,253)" />
<rect x="673.92" y="409" width="6.48" height="10.15" fill="rgb(255,255,255)" />
<rect x="679.8" y="409" width="6.48" height="10.15" fill="rgb(255,255,255)" />
<rect x="685.68" y="409" width="6.48" height="10.15" fill="rgb(255,255,255)" />
<rect x="691.56" y="409" width="6.48" height="10.15" fill="rgb(254,235,234)" />
<rect x="697.44" y="409" width="6.48" height="10.15" fill="rgb(255,255,255)" />
<rect x="703.32" y="409" width="6.48" height="10.15" fill="rgb(236,237,253)" />
<rect x="709.2" y="409" width="6.48" height="10.15" fill="rgb(236,237,253)" />
<rect x="715.08" y="409" width="6.48" height="10.15" fill="rgb(255,255,255)" />
<rect x="724.4" y="409" width="6.46" height="10.15" fill="rgb(255,213,211)" />
<rect x="730.26" y="409" width="6.46" height="10.15" fill="rgb(255,255,255)" />
<rect x="736.12" y="409" width="6.46" height="10.15" fill="rgb(254,235,234)" />
<rect x="741.98" y="409" width="6.46" height="10.15" fill="rgb(255,255,255)" />
<rect x="747.84" y="409" width="6.46" height="10.15" fill="rgb(255,213,211)" />
<rect x="753.7" y="409" width="6.46" height="10.15" fill="rgb(254,235,234)" />
<rect x="759.56" y="409" width="6.46" height="10.15" fill="rgb(255,255,255)" />
<rect x="765.42" y="409" width="6.46" height="10.15" fill="rgb(255,255,255)" />
<rect x="451.6" y="418.55" width="6.48" height="10.15" fill="rgb(255,186,183)" />
<rect x="457.48" y="418.55" width="6.48" height="10.15" fill="rgb(255,186,183)" />
<rect x="463.36" y="418.55" width="6.48" height="10.15" fill="rgb(253,152,148)" />
<rect x="469.24" y="418.55" width="6.48" height="10.15" fill="rgb(255,213,211)" />
<rect x="475.12" y="418.55" width="6.48" height="10.15" fill="rgb(254,235,234)" />
<rect x="481" y="418.55" width="6.48" height="10.15" fill="rgb(236,237,253)" />
<rect x="486.88" y="418.55" width="6.48" height="10.15" fill="rgb(254,235,234)" />
<rect x="496.4" y="418.55" width="6.48" height="10.15" fill="rgb(255,186,183)" />
<rect x="502.28" y="418.55" width="6.48" height="10.15" fill="rgb(236,237,253)" />
<rect x="511.6" y="418.55" width="6.48" height="10.15" fill="rgb(255,213,211)" />
<rect x="517.48" y="418.55" width="6.48" height="10.15" fill="rgb(255,186,183)" />
<rect x="523.36" y="418.55" width="6.48" height="10.15" fill="rgb(254,235,234)" />
<rect x="529.24" y="418.55" width="6.48" height="10.15" fill="rgb(255,213,211)" />
<rect x="535.12" y="418.55" width="6.48" height="10.15" fill="rgb(255,213,211)" />
<rect x="541" y="418.55" width="6.48" height="10.15" fill="rgb(255,255,255)" />
<rect x="546.88" y="418.55" width="6.48" height="10.15" fill="rgb(255,213,211)" />
<rect x="552.76" y="418.55" width="6.48" height="10.15" fill="rgb(255,213,211)" />
<rect x="558.64" y="418.55" width="6.48" height="10.15" fill="rgb(254,235,234)" />
<rect x="564.52" y="418.55" width="6.48" height="10.15" fill="rgb(255,213,211)" />
<rect x="570.4" y="418.55" width="6.48" height="10.15" fill="rgb(255,255,255)" />
<rect x="576.28" y="418.55" width="6.48" height="10.15" fill="rgb(255,186,183)" />
<rect x="582.16" y="418.55" width="6.48" height="10.15" fill="rgb(176,181,251)" />
<rect x="591.6" y="418.55" width="6.48" height="10.15" fill="rgb(254,235,234)" />
<rect x="597.48" y="418.55" width="6.48" height="10.15" fill="rgb(255,213,211)" />
<rect x="603.36" y="418.55" width="6.48" height="10.15" fill="rgb(255,213,211)" />
<rect x="609.24" y="418.55" width="6.48" height="10.15" fill="rgb(254,235,234)" />
<rect x="615.12" y="418.55" width="6.48" height="10.15" fill="rgb(254,235,234)" />
<rect x="621" y="418.55" width="6.48" height="10.15" fill="rgb(255,213,211)" />
<rect x="626.88" y="418.55" width="6.48" height="10.15" fill="rgb(255,213,211)" />
<rect x="632.76" y="418.55" width="6.48" height="10.15" fill="rgb(255,255,255)" />
<rect x="638.64" y="418.55" width="6.48" height="10.15" fill="rgb(254,235,234)" />
<rect x="644.52" y="418.55" width="6.48" height="10.15" fill="rgb(254,235,234)" />
<rect x="650.4" y="418.55" width="6.48" height="10.15" fill="rgb(255,213,211)" />
<rect x="656.28" y="418.55" width="6.48" height="10.15" fill="rgb(236,237,253)" />
<rect x="662.16" y="418.55" width="6.48" height="10.15" fill="rgb(254,235,234)" />
<rect x="668.04" y="418.55" width="6.48" height="10.15" fill="rgb(255,255,255)" />
<rect x="673.92" y="418.55" width="6.48" height="10.15" fill="rgb(255,213,211)" />
<rect x="679.8" y="418.55" width="6.48" height="10.15" fill="rgb(254,235,234)" />
<rect x="685.68" y="418.55" width="6.48" height="10.15" fill="rgb(255,213,211)" />
<rect x="691.56" y="418.55" width="6.48" height="10.15" fill="rgb(255,213,211)" />
<rect x="697.44" y="418.55" width="6.48" height="10.15" fill="rgb(255,255,255)" />
<rect x="703.32" y="418.55" width="6.48" height="10.15" fill="rgb(236,237,253)" />
<rect x="709.2" y="418.55" width="6.48" height="10.15" fill="rgb(212,214,252)" />
<rect x="715.08" y="418.55" width="6.48" height="10.15" fill="rgb(255,255,255)" />
<rect x="724.4" y="418.55" width="6.46" height="10.15" fill="rgb(255,213,211)" />
<rect x="730.26" y="418.55" width="6.46" height="10.15" fill="rgb(255,186,183)" />
<rect x="736.12" y="418.55" width="6.46" height="10.15" fill="rgb(255,213,211)" />
<rect x="741.98" y="418.55" width="6.46" height="10.15" fill="rgb(255,255,255)" />
<rect x="747.84" y="418.55" width="6.46" height="10.15" fill="rgb(254,235,234)" />
<rect x="753.7" y="418.55" width="6.46" height="10.15" fill="rgb(254,235,234)" />
<rect x="759.56" y="418.55" width="6.46" height="10.15" fill="rgb(254,235,234)" />
<rect x="765.42" y="418.55" width="6.46" height="10.15" fill="rgb(212,214,252)" />
<rect x="451.6" y="428.1" width="6.48" height="10.15" fill="rgb(255,255,255)" />
<rect x="457.48" y="428.1" width="6.48" height="10.15" fill="rgb(255,255,255)" />
<rect x="463.36" y="428.1" width="6.48" height="10.15" fill="rgb(236,237,253)" />
<rect x="469.24" y="428.1" width="6.48" height="10.15" fill="rgb(255,255,255)" />
<rect x="475.12" y="428.1" width="6.48" height="10.15" fill="rgb(236,237,253)" />
<rect x="481" y="428.1" width="6.48" height="10.15" fill="rgb(255,255,255)" />
<rect x="486.88" y="428.1" width="6.48" height="10.15" fill="rgb(236,237,253)" />
<rect x="496.4" y="428.1" width="6.48" height="10.15" fill="rgb(254,235,234)" />
<rect x="502.28" y="428.1" width="6.48" height="10.15" fill="rgb(236,237,253)" />
<rect x="511.6" y="428.1" width="6.48" height="10.15" fill="rgb(212,214,252)" />
<rect x="517.48" y="428.1" width="6.48" height="10.15" fill="rgb(254,235,234)" />
<rect x="523.36" y="428.1" width="6.48" height="10.15" fill="rgb(236,237,253)" />
<rect x="529.24" y="428.1" width="6.48" height="10.15" fill="rgb(236,237,253)" />
<rect x="535.12" y="428.1" width="6.48" height="10.15" fill="rgb(254,235,234)" />
<rect x="541" y="428.1" width="6.48" height="10.15" fill="rgb(255,255,255)" />
<rect x="546.88" y="428.1" width="6.48" height="10.15" fill="rgb(236,237,253)" />
<rect x="552.76" y="428.1" width="6.48" height="10.15" fill="rgb(212,214,252)" />
<rect x="558.64" y="428.1" width="6.48" height="10.15" fill="rgb(255,255,255)" />
<rect x="564.52" y="428.1" width="6.48" height="10.15" fill="rgb(236,237,253)" />
<rect x="570.4" y="428.1" width="6.48" height="10.15" fill="rgb(236,237,253)" />
<rect x="576.28" y="428.1" width="6.48" height="10.15" fill="rgb(212,214,252)" />
<rect x="582.16" y="428.1" width="6.48" height="10.15" fill="rgb(255,255,255)" />
<rect x="591.6" y="428.1" width="6.48" height="10.15" fill="rgb(254,235,234)" />
<rect x="597.48" y="428.1" width="6.48" height="10.15" fill="rgb(254,235,234)" />
<rect x="603.36" y="428.1" width="6.48" height="10.15" fill="rgb(236,237,253)" />
<rect x="609.24" y="428.1" width="6.48" height="10.15" fill="rgb(255,255,255)" />
<rect x="615.12" y="428.1" width="6.48" height="10.15" fill="rgb(236,237,253)" />
<rect x="621" y="428.1" width="6.48" height="10.15" fill="rgb(236,237,253)" />
<rect x="626.88" y="428.1" width="6.48" height="10.15" fill="rgb(255,255,255)" />
<rect x="632.76" y="428.1" width="6.48" height="10.15" fill="rgb(236,237,253)" />
<rect x="638.64" y="428.1" width="6.48" height="10.15" fill="rgb(236,237,253)" />
<rect x="644.52" y="428.1" width="6.48" height="10.15" fill="rgb(255,255,255)" />
<rect x="650.4" y="428.1" width="6.48" height="10.15" fill="rgb(255,255,255)" />
<rect x="656.28" y="428.1" width="6.48" height="10.15" fill="rgb(255,255,255)" />
<rect x="662.16" y="428.1" width="6.48" height="10.15" fill="rgb(255,255,255)" />
<rect x="668.04" y="428.1" width="6.48" height="10.15" fill="rgb(236,237,253)" />
<rect x="673.92" y="428.1" width="6.48" height="10.15" fill="rgb(236,237,253)" />
<rect x="679.8" y="428.1" width="6.48" height="10.15" fill="rgb(255,255,255)" />
<rect x="685.68" y="428.1" width="6.48" height="10.15" fill="rgb(255,255,255)" />
<rect x="691.56" y="428.1" width="6.48" height="10.15" fill="rgb(254,235,234)" />
<rect x="697.44" y="428.1" width="6.48" height="10.15" fill="rgb(255,255,255)" />
<rect x="703.32" y="428.1" width="6.48" height="10.15" fill="rgb(236,237,253)" />
<rect x="709.2" y="428.1" width="6.48" height="10.15" fill="rgb(236,237,253)" />
<rect x="715.08" y="428.1" width="6.48" height="10.15" fill="rgb(255,255,255)" />
<rect x="724.4" y="428.1" width="6.46" height="10.15" fill="rgb(236,237,253)" />
<rect x="730.26" y="428.1" width="6.46" height="10.15" fill="rgb(236,237,253)" />
<rect x="736.12" y="428.1" width="6.46" height="10.15" fill="rgb(176,181,251)" />
<rect x="741.98" y="428.1" width="6.46" height="10.15" fill="rgb(255,255,255)" />
<rect x="747.84" y="428.1" width="6.46" height="10.15" fill="rgb(255,186,183)" />
<rect x="753.7" y="428.1" width="6.46" height="10.15" fill="rgb(254,235,234)" />
<rect x="759.56" y="428.1" width="6.46" height="10.15" fill="rgb(236,237,253)" />
<rect x="765.42" y="428.1" width="6.46" height="10.15" fill="rgb(236,237,253)" />
<rect x="451.6" y="437.65" width="6.48" height="10.15" fill="rgb(255,255,255)" />
<rect x="457.48" y="437.65" width="6.48" height="10.15" fill="rgb(254,235,234)" />
<rect x="463.36" y="437.65" width="6.48" height="10.15" fill="rgb(254,235,234)" />
<rect x="469.24" y="437.65" width="6.48" height="10.15" fill="rgb(254,235,234)" />
<rect x="475.12" y="437.65" width="6.48" height="10.15" fill="rgb(254,235,234)" />
<rect x="481" y="437.65" width="6.48" height="10.15" fill="rgb(255,255,255)" />
<rect x="486.88" y="437.65" width="6.48" height="10.15" fill="rgb(255,255,255)" />
<rect x="496.4" y="437.65" width="6.48" height="10.15" fill="rgb(254,235,234)" />
<rect x="502.28" y="437.65" width="6.48" height="10.15" fill="rgb(255,255,255)" />
<rect x="511.6" y="437.65" width="6.48" height="10.15" fill="rgb(254,235,234)" />
<rect x="517.48" y="437.65" width="6.48" height="10.15" fill="rgb(254,235,234)" />
<rect x="523.36" y="437.65" width="6.48" height="10.15" fill="rgb(254,235,234)" />
<rect x="529.24" y="437.65" width="6.48" height="10.15" fill="rgb(254,235,234)" />
<rect x="535.12" y="437.65" width="6.48" height="10.15" fill="rgb(255,255,255)" />
<rect x="541" y="437.65" width="6.48" height="10.15" fill="rgb(254,235,234)" />
<rect x="546.88" y="437.65" width="6.48" height="10.15" fill="rgb(255,255,255)" />
<rect x="552.76" y="437.65" width="6.48" height="10.15" fill="rgb(254,235,234)" />
<rect x="558.64" y="437.65" width="6.48" height="10.15" fill="rgb(255,255,255)" />
<rect x="564.52" y="437.65" width="6.48" height="10.15" fill="rgb(254,235,234)" />
<rect x="570.4" y="437.65" width="6.48" height="10.15" fill="rgb(255,255,255)" />
<rect x="576.28" y="437.65" width="6.48" height="10.15" fill="rgb(255,255,255)" />
<rect x="582.16" y="437.65" width="6.48" height="10.15" fill="rgb(254,235,234)" />
<rect x="591.6" y="437.65" width="6.48" height="10.15" fill="rgb(255,255,255)" />
<rect x="597.48" y="437.65" width="6.48" height="10.15" fill="rgb(255,255,255)" />
<rect x="603.36" y="437.65" width="6.48" height="10.15" fill="rgb(255,255,255)" />
<rect x="609.24" y="437.65" width="6.48" height="10.15" fill="rgb(255,255,255)" />
<rect x="615.12" y="437.65" width="6.48" height="10.15" fill="rgb(236,237,253)" />
<rect x="621" y="437.65" width="6.48" height="10.15" fill="rgb(255,255,255)" />
<rect x="626.88" y="437.65" width="6.48" height="10.15" fill="rgb(254,235,234)" />
<rect x="632.76" y="437.65" width="6.48" height="10.15" fill="rgb(255,255,255)" />
<rect x="638.64" y="437.65" width="6.48" height="10.15" fill="rgb(255,255,255)" />
<rect x="644.52" y="437.65" width="6.48" height="10.15" fill="rgb(254,235,234)" />
<rect x="650.4" y="437.65" width="6.48" height="10.15" fill="rgb(255,255,255)" />
<rect x="656.28" y="437.65" width="6.48" height="10.15" fill="rgb(255,255,255)" />
<rect x="662.16" y="437.65" width="6.48" height="10.15" fill="rgb(236,237,253)" />
<rect x="668.04" y="437.65" width="6.48" height="10.15" fill="rgb(255,255,255)" />
<rect x="673.92" y="437.65" width="6.48" height="10.15" fill="rgb(254,235,234)" />
<rect x="679.8" y="437.65" width="6.48" height="10.15" fill="rgb(254,235,234)" />
<rect x="685.68" y="437.65" width="6.48" height="10.15" fill="rgb(255,255,255)" />
<rect x="691.56" y="437.65" width="6.48" height="10.15" fill="rgb(254,235,234)" />
<rect x="697.44" y="437.65" width="6.48" height="10.15" fill="rgb(255,255,255)" />
<rect x="703.32" y="437.65" width="6.48" height="10.15" fill="rgb(255,255,255)" />
<rect x="709.2" y="437.65" width="6.48" height="10.15" fill="rgb(255,255,255)" />
<rect x="715.08" y="437.65" width="6.48" height="10.15" fill="rgb(255,255,255)" />
<rect x="724.4" y="437.65" width="6.46" height="10.15" fill="rgb(254,235,234)" />
<rect x="730.26" y="437.65" width="6.46" height="10.15" fill="rgb(255,255,255)" />
<rect x="736.12" y="437.65" width="6.46" height="10.15" fill="rgb(255,255,255)" />
<rect x="741.98" y="437.65" width="6.46" height="10.15" fill="rgb(255,255,255)" />
<rect x="747.84" y="437.65" width="6.46" height="10.15" fill="rgb(236,237,253)" />
<rect x="753.7" y="437.65" width="6.46" height="10.15" fill="rgb(255,255,255)" />
<rect x="759.56" y="437.65" width="6.46" height="10.15" fill="rgb(255,255,255)" />
<rect x="765.42" y="437.65" width="6.46" height="10.15" fill="rgb(255,255,255)" />
<path d="M742.43 370.55L747.39 379.2M747.39 370.55L742.43 379.2" stroke="#1a1a1a" stroke-width="0.95" fill="none"/>
<path d="M742.43 380.3L747.39 388.95M747.39 380.3L742.43 388.95" stroke="#1a1a1a" stroke-width="0.95" fill="none"/>
<path d="M452.05 390.05L457.03 398.7M457.03 390.05L452.05 398.7" stroke="#1a1a1a" stroke-width="0.95" fill="none"/>
<path d="M481.45 390.05L486.43 398.7M486.43 390.05L481.45 398.7" stroke="#1a1a1a" stroke-width="0.95" fill="none"/>
<path d="M559.09 390.05L564.07 398.7M564.07 390.05L559.09 398.7" stroke="#1a1a1a" stroke-width="0.95" fill="none"/>
<path d="M644.97 390.05L649.95 398.7M649.95 390.05L644.97 398.7" stroke="#1a1a1a" stroke-width="0.95" fill="none"/>
<path d="M680.25 390.05L685.23 398.7M685.23 390.05L680.25 398.7" stroke="#1a1a1a" stroke-width="0.95" fill="none"/>
<path d="M481.45 399.8L486.43 408.45M486.43 399.8L481.45 408.45" stroke="#1a1a1a" stroke-width="0.95" fill="none"/>
<path d="M742.43 409.55L747.39 418M747.39 409.55L742.43 418" stroke="#1a1a1a" stroke-width="0.95" fill="none"/>
<path d="M742.43 419.1L747.39 427.55M747.39 419.1L742.43 427.55" stroke="#1a1a1a" stroke-width="0.95" fill="none"/>
<path d="M452.05 428.65L457.03 437.1M457.03 428.65L452.05 437.1" stroke="#1a1a1a" stroke-width="0.95" fill="none"/>
<path d="M481.45 428.65L486.43 437.1M486.43 428.65L481.45 437.1" stroke="#1a1a1a" stroke-width="0.95" fill="none"/>
<path d="M559.09 428.65L564.07 437.1M564.07 428.65L559.09 437.1" stroke="#1a1a1a" stroke-width="0.95" fill="none"/>
<path d="M644.97 428.65L649.95 437.1M649.95 428.65L644.97 437.1" stroke="#1a1a1a" stroke-width="0.95" fill="none"/>
<path d="M680.25 428.65L685.23 437.1M685.23 428.65L680.25 437.1" stroke="#1a1a1a" stroke-width="0.95" fill="none"/>
<path d="M481.45 438.2L486.43 446.65M486.43 438.2L481.45 446.65" stroke="#1a1a1a" stroke-width="0.95" fill="none"/>
<line x1="450.95" y1="359.8" x2="772.05" y2="359.8" stroke="#111" stroke-width="1.3" />
<line x1="450.95" y1="370" x2="772.05" y2="370" stroke="#111" stroke-width="1.3" />
<line x1="450.95" y1="409" x2="772.05" y2="409" stroke="#111" stroke-width="1.3" />
<line x1="450.95" y1="447.2" x2="772.05" y2="447.2" stroke="#111" stroke-width="1.3" />
<line x1="451.6" y1="359.8" x2="451.6" y2="447.2" stroke="#111" stroke-width="1.3" />
<line x1="494.6" y1="359.8" x2="494.6" y2="447.2" stroke="#111" stroke-width="1.3" />
<line x1="509.9" y1="359.8" x2="509.9" y2="447.2" stroke="#111" stroke-width="1.3" />
<line x1="589.8" y1="359.8" x2="589.8" y2="447.2" stroke="#111" stroke-width="1.3" />
<line x1="722.6" y1="359.8" x2="722.6" y2="447.2" stroke="#111" stroke-width="1.3" />
<line x1="771.4" y1="359.8" x2="771.4" y2="447.2" stroke="#111" stroke-width="1.3" />
<line x1="454.54" y1="357.2" x2="454.54" y2="359.8" stroke="#000" stroke-width="0.8" />
<line x1="460.42" y1="357.2" x2="460.42" y2="359.8" stroke="#000" stroke-width="0.8" />
<line x1="466.3" y1="357.2" x2="466.3" y2="359.8" stroke="#000" stroke-width="0.8" />
<line x1="472.18" y1="357.2" x2="472.18" y2="359.8" stroke="#000" stroke-width="0.8" />
<line x1="478.06" y1="357.2" x2="478.06" y2="359.8" stroke="#000" stroke-width="0.8" />
<line x1="483.94" y1="357.2" x2="483.94" y2="359.8" stroke="#000" stroke-width="0.8" />
<line x1="489.82" y1="357.2" x2="489.82" y2="359.8" stroke="#000" stroke-width="0.8" />
<line x1="499.34" y1="357.2" x2="499.34" y2="359.8" stroke="#000" stroke-width="0.8" />
<line x1="505.22" y1="357.2" x2="505.22" y2="359.8" stroke="#000" stroke-width="0.8" />
<line x1="514.54" y1="357.2" x2="514.54" y2="359.8" stroke="#000" stroke-width="0.8" />
<line x1="520.42" y1="357.2" x2="520.42" y2="359.8" stroke="#000" stroke-width="0.8" />
<line x1="526.3" y1="357.2" x2="526.3" y2="359.8" stroke="#000" stroke-width="0.8" />
<line x1="532.18" y1="357.2" x2="532.18" y2="359.8" stroke="#000" stroke-width="0.8" />
<line x1="538.06" y1="357.2" x2="538.06" y2="359.8" stroke="#000" stroke-width="0.8" />
<line x1="543.94" y1="357.2" x2="543.94" y2="359.8" stroke="#000" stroke-width="0.8" />
<line x1="549.82" y1="357.2" x2="549.82" y2="359.8" stroke="#000" stroke-width="0.8" />
<line x1="555.7" y1="357.2" x2="555.7" y2="359.8" stroke="#000" stroke-width="0.8" />
<line x1="561.58" y1="357.2" x2="561.58" y2="359.8" stroke="#000" stroke-width="0.8" />
<line x1="567.46" y1="357.2" x2="567.46" y2="359.8" stroke="#000" stroke-width="0.8" />
<line x1="573.34" y1="357.2" x2="573.34" y2="359.8" stroke="#000" stroke-width="0.8" />
<line x1="579.22" y1="357.2" x2="579.22" y2="359.8" stroke="#000" stroke-width="0.8" />
<line x1="585.1" y1="357.2" x2="585.1" y2="359.8" stroke="#000" stroke-width="0.8" />
<line x1="594.54" y1="357.2" x2="594.54" y2="359.8" stroke="#000" stroke-width="0.8" />
<line x1="600.42" y1="357.2" x2="600.42" y2="359.8" stroke="#000" stroke-width="0.8" />
<line x1="606.3" y1="357.2" x2="606.3" y2="359.8" stroke="#000" stroke-width="0.8" />
<line x1="612.18" y1="357.2" x2="612.18" y2="359.8" stroke="#000" stroke-width="0.8" />
<line x1="618.06" y1="357.2" x2="618.06" y2="359.8" stroke="#000" stroke-width="0.8" />
<line x1="623.94" y1="357.2" x2="623.94" y2="359.8" stroke="#000" stroke-width="0.8" />
<line x1="629.82" y1="357.2" x2="629.82" y2="359.8" stroke="#000" stroke-width="0.8" />
<line x1="635.7" y1="357.2" x2="635.7" y2="359.8" stroke="#000" stroke-width="0.8" />
<line x1="641.58" y1="357.2" x2="641.58" y2="359.8" stroke="#000" stroke-width="0.8" />
<line x1="647.46" y1="357.2" x2="647.46" y2="359.8" stroke="#000" stroke-width="0.8" />
<line x1="653.34" y1="357.2" x2="653.34" y2="359.8" stroke="#000" stroke-width="0.8" />
<line x1="659.22" y1="357.2" x2="659.22" y2="359.8" stroke="#000" stroke-width="0.8" />
<line x1="665.1" y1="357.2" x2="665.1" y2="359.8" stroke="#000" stroke-width="0.8" />
<line x1="670.98" y1="357.2" x2="670.98" y2="359.8" stroke="#000" stroke-width="0.8" />
<line x1="676.86" y1="357.2" x2="676.86" y2="359.8" stroke="#000" stroke-width="0.8" />
<line x1="682.74" y1="357.2" x2="682.74" y2="359.8" stroke="#000" stroke-width="0.8" />
<line x1="688.62" y1="357.2" x2="688.62" y2="359.8" stroke="#000" stroke-width="0.8" />
<line x1="694.5" y1="357.2" x2="694.5" y2="359.8" stroke="#000" stroke-width="0.8" />
<line x1="700.38" y1="357.2" x2="700.38" y2="359.8" stroke="#000" stroke-width="0.8" />
<line x1="706.26" y1="357.2" x2="706.26" y2="359.8" stroke="#000" stroke-width="0.8" />
<line x1="712.14" y1="357.2" x2="712.14" y2="359.8" stroke="#000" stroke-width="0.8" />
<line x1="718.02" y1="357.2" x2="718.02" y2="359.8" stroke="#000" stroke-width="0.8" />
<line x1="727.33" y1="357.2" x2="727.33" y2="359.8" stroke="#000" stroke-width="0.8" />
<line x1="733.19" y1="357.2" x2="733.19" y2="359.8" stroke="#000" stroke-width="0.8" />
<line x1="739.05" y1="357.2" x2="739.05" y2="359.8" stroke="#000" stroke-width="0.8" />
<line x1="744.91" y1="357.2" x2="744.91" y2="359.8" stroke="#000" stroke-width="0.8" />
<line x1="750.77" y1="357.2" x2="750.77" y2="359.8" stroke="#000" stroke-width="0.8" />
<line x1="756.63" y1="357.2" x2="756.63" y2="359.8" stroke="#000" stroke-width="0.8" />
<line x1="762.49" y1="357.2" x2="762.49" y2="359.8" stroke="#000" stroke-width="0.8" />
<line x1="768.35" y1="357.2" x2="768.35" y2="359.8" stroke="#000" stroke-width="0.8" />
<text x="441" y="363.8" font-size="4.25" font-weight="bold" text-anchor="middle" fill="#000" stroke="#000" stroke-width="0.14">Tiaki</text>
<text x="441" y="367.5" font-size="3.8" font-weight="bold" text-anchor="middle" fill="#000" stroke="#000" stroke-width="0.14">Bulk</text>
<text x="441" y="374" font-size="4.25" font-weight="bold" text-anchor="middle" fill="#000" stroke="#000" stroke-width="0.14">ALS</text>
<text x="441" y="377.7" font-size="3.8" font-weight="bold" text-anchor="middle" fill="#000" stroke="#000" stroke-width="0.14">(MCL)</text>
<text x="441" y="383.75" font-size="4.25" font-weight="bold" text-anchor="middle" fill="#000" stroke="#000" stroke-width="0.14">ALS</text>
<text x="441" y="387.45" font-size="3.8" font-weight="bold" text-anchor="middle" fill="#000" stroke="#000" stroke-width="0.14">(MCM)</text>
<text x="441" y="393.5" font-size="4.25" font-weight="bold" text-anchor="middle" fill="#000" stroke="#000" stroke-width="0.14">FTD</text>
<text x="441" y="397.2" font-size="3.8" font-weight="bold" text-anchor="middle" fill="#000" stroke="#000" stroke-width="0.14">(GRN)</text>
<text x="441" y="403.25" font-size="4.25" font-weight="bold" text-anchor="middle" fill="#000" stroke="#000" stroke-width="0.14">HD</text>
<text x="441" y="406.95" font-size="3.8" font-weight="bold" text-anchor="middle" fill="#000" stroke="#000" stroke-width="0.14">(CN)</text>
<text x="441" y="413" font-size="4.25" font-weight="bold" text-anchor="middle" fill="#000" stroke="#000" stroke-width="0.14">ALS</text>
<text x="441" y="416.7" font-size="3.8" font-weight="bold" text-anchor="middle" fill="#000" stroke="#000" stroke-width="0.14">(MCL)</text>
<text x="441" y="422.55" font-size="4.25" font-weight="bold" text-anchor="middle" fill="#000" stroke="#000" stroke-width="0.14">ALS</text>
<text x="441" y="426.25" font-size="3.8" font-weight="bold" text-anchor="middle" fill="#000" stroke="#000" stroke-width="0.14">(MCM)</text>
<text x="441" y="432.1" font-size="4.25" font-weight="bold" text-anchor="middle" fill="#000" stroke="#000" stroke-width="0.14">FTD</text>
<text x="441" y="435.8" font-size="3.8" font-weight="bold" text-anchor="middle" fill="#000" stroke="#000" stroke-width="0.14">(Sporadic)</text>
<text x="441" y="441.65" font-size="4.25" font-weight="bold" text-anchor="middle" fill="#000" stroke="#000" stroke-width="0.14">HD</text>
<text x="441" y="445.35" font-size="3.8" font-weight="bold" text-anchor="middle" fill="#000" stroke="#000" stroke-width="0.14">(BA9)</text>
<text transform="translate(455.04,356.9) rotate(-45)" font-size="4.1" font-weight="bold" stroke="#000" stroke-width="0.12">Chrm1</text>
<text transform="translate(460.92,356.9) rotate(-45)" font-size="4.1" font-weight="bold" stroke="#000" stroke-width="0.12">Chrm2</text>
<text transform="translate(466.8,356.9) rotate(-45)" font-size="4.1" font-weight="bold" stroke="#000" stroke-width="0.12">Chrm3</text>
<text transform="translate(472.68,356.9) rotate(-45)" font-size="4.1" font-weight="bold" stroke="#000" stroke-width="0.12">Chrm4</text>
<text transform="translate(478.56,356.9) rotate(-45)" font-size="4.1" font-weight="bold" stroke="#000" stroke-width="0.12">Chrna4</text>
<text transform="translate(484.44,356.9) rotate(-45)" font-size="4.1" font-weight="bold" stroke="#000" stroke-width="0.12">Chrna7</text>
<text transform="translate(490.32,356.9) rotate(-45)" font-size="4.1" font-weight="bold" stroke="#000" stroke-width="0.12">Chrnb2</text>
<text transform="translate(499.84,356.9) rotate(-45)" font-size="4.1" font-weight="bold" stroke="#000" stroke-width="0.12">Drd1</text>
<text transform="translate(505.72,356.9) rotate(-45)" font-size="4.1" font-weight="bold" stroke="#000" stroke-width="0.12">Drd2</text>
<text transform="translate(515.04,356.9) rotate(-45)" font-size="4.1" font-weight="bold" stroke="#000" stroke-width="0.12">Gabra1</text>
<text transform="translate(520.92,356.9) rotate(-45)" font-size="4.1" font-weight="bold" stroke="#000" stroke-width="0.12">Gabra2</text>
<text transform="translate(526.8,356.9) rotate(-45)" font-size="4.1" font-weight="bold" stroke="#000" stroke-width="0.12">Gabra3</text>
<text transform="translate(532.68,356.9) rotate(-45)" font-size="4.1" font-weight="bold" stroke="#000" stroke-width="0.12">Gabra4</text>
<text transform="translate(538.56,356.9) rotate(-45)" font-size="4.1" font-weight="bold" stroke="#000" stroke-width="0.12">Gabra5</text>
<text transform="translate(544.44,356.9) rotate(-45)" font-size="4.1" font-weight="bold" stroke="#000" stroke-width="0.12">Gabrb1</text>
<text transform="translate(550.32,356.9) rotate(-45)" font-size="4.1" font-weight="bold" stroke="#000" stroke-width="0.12">Gabrb2</text>
<text transform="translate(556.2,356.9) rotate(-45)" font-size="4.1" font-weight="bold" stroke="#000" stroke-width="0.12">Gabrb3</text>
<text transform="translate(562.08,356.9) rotate(-45)" font-size="4.1" font-weight="bold" stroke="#000" stroke-width="0.12">Gabrg1</text>
<text transform="translate(567.96,356.9) rotate(-45)" font-size="4.1" font-weight="bold" stroke="#000" stroke-width="0.12">Gabrg2</text>
<text transform="translate(573.84,356.9) rotate(-45)" font-size="4.1" font-weight="bold" stroke="#000" stroke-width="0.12">Gabbr1</text>
<text transform="translate(579.72,356.9) rotate(-45)" font-size="4.1" font-weight="bold" stroke="#000" stroke-width="0.12">Gabbr2</text>
<text transform="translate(585.6,356.9) rotate(-45)" font-size="4.1" font-weight="bold" stroke="#000" stroke-width="0.12">Gabrd</text>
<text transform="translate(595.04,356.9) rotate(-45)" font-size="4.1" font-weight="bold" stroke="#000" stroke-width="0.12">Gria1</text>
<text transform="translate(600.92,356.9) rotate(-45)" font-size="4.1" font-weight="bold" stroke="#000" stroke-width="0.12">Gria2</text>
<text transform="translate(606.8,356.9) rotate(-45)" font-size="4.1" font-weight="bold" stroke="#000" stroke-width="0.12">Gria3</text>
<text transform="translate(612.68,356.9) rotate(-45)" font-size="4.1" font-weight="bold" stroke="#000" stroke-width="0.12">Gria4</text>
<text transform="translate(618.56,356.9) rotate(-45)" font-size="4.1" font-weight="bold" stroke="#000" stroke-width="0.12">Grin1</text>
<text transform="translate(624.44,356.9) rotate(-45)" font-size="4.1" font-weight="bold" stroke="#000" stroke-width="0.12">Grin2a</text>
<text transform="translate(630.32,356.9) rotate(-45)" font-size="4.1" font-weight="bold" stroke="#000" stroke-width="0.12">Grin2b</text>
<text transform="translate(636.2,356.9) rotate(-45)" font-size="4.1" font-weight="bold" stroke="#000" stroke-width="0.12">Grin2c</text>
<text transform="translate(642.08,356.9) rotate(-45)" font-size="4.1" font-weight="bold" stroke="#000" stroke-width="0.12">Grin2d</text>
<text transform="translate(647.96,356.9) rotate(-45)" font-size="4.1" font-weight="bold" stroke="#000" stroke-width="0.12">Grik1</text>
<text transform="translate(653.84,356.9) rotate(-45)" font-size="4.1" font-weight="bold" stroke="#000" stroke-width="0.12">Grik2</text>
<text transform="translate(659.72,356.9) rotate(-45)" font-size="4.1" font-weight="bold" stroke="#000" stroke-width="0.12">Grik3</text>
<text transform="translate(665.6,356.9) rotate(-45)" font-size="4.1" font-weight="bold" stroke="#000" stroke-width="0.12">Grik4</text>
<text transform="translate(671.48,356.9) rotate(-45)" font-size="4.1" font-weight="bold" stroke="#000" stroke-width="0.12">Grik5</text>
<text transform="translate(677.36,356.9) rotate(-45)" font-size="4.1" font-weight="bold" stroke="#000" stroke-width="0.12">Grm1</text>
<text transform="translate(683.24,356.9) rotate(-45)" font-size="4.1" font-weight="bold" stroke="#000" stroke-width="0.12">Grm2</text>
<text transform="translate(689.12,356.9) rotate(-45)" font-size="4.1" font-weight="bold" stroke="#000" stroke-width="0.12">Grm3</text>
<text transform="translate(695,356.9) rotate(-45)" font-size="4.1" font-weight="bold" stroke="#000" stroke-width="0.12">Grm4</text>
<text transform="translate(700.88,356.9) rotate(-45)" font-size="4.1" font-weight="bold" stroke="#000" stroke-width="0.12">Grm5</text>
<text transform="translate(706.76,356.9) rotate(-45)" font-size="4.1" font-weight="bold" stroke="#000" stroke-width="0.12">Grm7</text>
<text transform="translate(712.64,356.9) rotate(-45)" font-size="4.1" font-weight="bold" stroke="#000" stroke-width="0.12">Grm8</text>
<text transform="translate(718.52,356.9) rotate(-45)" font-size="4.1" font-weight="bold" stroke="#000" stroke-width="0.12">Grid1</text>
<text transform="translate(727.83,356.9) rotate(-45)" font-size="4.1" font-weight="bold" stroke="#000" stroke-width="0.12">Htr1a</text>
<text transform="translate(733.69,356.9) rotate(-45)" font-size="4.1" font-weight="bold" stroke="#000" stroke-width="0.12">Htr1b</text>
<text transform="translate(739.55,356.9) rotate(-45)" font-size="4.1" font-weight="bold" stroke="#000" stroke-width="0.12">Htr2a</text>
<text transform="translate(745.41,356.9) rotate(-45)" font-size="4.1" font-weight="bold" stroke="#000" stroke-width="0.12">Htr2b</text>
<text transform="translate(751.27,356.9) rotate(-45)" font-size="4.1" font-weight="bold" stroke="#000" stroke-width="0.12">Htr2c</text>
<text transform="translate(757.13,356.9) rotate(-45)" font-size="4.1" font-weight="bold" stroke="#000" stroke-width="0.12">Htr4</text>
<text transform="translate(762.99,356.9) rotate(-45)" font-size="4.1" font-weight="bold" stroke="#000" stroke-width="0.12">Htr5a</text>
<text transform="translate(768.85,356.9) rotate(-45)" font-size="4.1" font-weight="bold" stroke="#000" stroke-width="0.12">Htr7</text>
<text x="420" y="333" font-size="19.8" font-weight="bold" text-anchor="start" fill="#000" >D</text>
<text x="616.4" y="332.3" font-size="12.45" font-weight="bold" text-anchor="middle" fill="#000" >Neurotransmitter Receptor Genes</text>
<text x="478.4" y="342" font-size="6.35" font-weight="bold" text-anchor="middle" fill="#000" >ACh</text>
<text x="505.5" y="342" font-size="6.35" font-weight="bold" text-anchor="middle" fill="#000" >DA</text>
<text x="555.6" y="342" font-size="6.35" font-weight="bold" text-anchor="middle" fill="#000" >GABA</text>
<text x="663" y="342" font-size="6.35" font-weight="bold" text-anchor="middle" fill="#000" >GLU</text>
<text x="752.1" y="342" font-size="6.35" font-weight="bold" text-anchor="middle" fill="#000" >5HT</text>
<rect x="451.6" y="452.3" width="118.4" height="8.3" fill="url(#gD)" stroke="#222" stroke-width="1"/>
<line x1="454" y1="452.3" x2="454" y2="453.9" stroke="#222" stroke-width="0.8" />
<line x1="454" y1="459" x2="454" y2="460.6" stroke="#222" stroke-width="0.8" />
<text x="454" y="468.8" font-size="6.6" font-weight="normal" text-anchor="middle" fill="#000" >-6</text>
<line x1="489.5" y1="452.3" x2="489.5" y2="453.9" stroke="#222" stroke-width="0.8" />
<line x1="489.5" y1="459" x2="489.5" y2="460.6" stroke="#222" stroke-width="0.8" />
<text x="489.5" y="468.8" font-size="6.6" font-weight="normal" text-anchor="middle" fill="#000" >-3</text>
<line x1="525" y1="452.3" x2="525" y2="453.9" stroke="#222" stroke-width="0.8" />
<line x1="525" y1="459" x2="525" y2="460.6" stroke="#222" stroke-width="0.8" />
<text x="525" y="468.8" font-size="6.6" font-weight="normal" text-anchor="middle" fill="#000" >0</text>
<line x1="559.6" y1="452.3" x2="559.6" y2="453.9" stroke="#222" stroke-width="0.8" />
<line x1="559.6" y1="459" x2="559.6" y2="460.6" stroke="#222" stroke-width="0.8" />
<text x="559.6" y="468.8" font-size="6.6" font-weight="normal" text-anchor="middle" fill="#000" >3</text>
<text x="575.8" y="458.75" font-size="7.45" font-weight="bold" text-anchor="start" fill="#000" >Scaled Log<tspan font-size="4.9" dy="1.7">2</tspan><tspan dy="-1.7">[Fold Change]</tspan></text>
</svg>
</body></html>
